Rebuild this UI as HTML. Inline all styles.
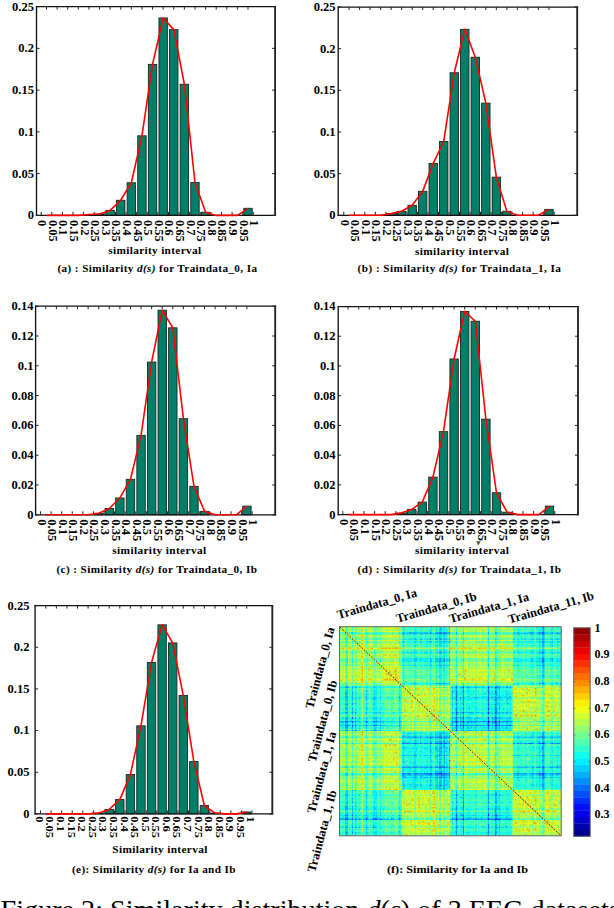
<!DOCTYPE html>
<html><head><meta charset="utf-8"><style>
html,body{margin:0;padding:0;background:#fff;overflow:hidden;}
svg{display:block;}
text{font-family:"Liberation Serif", serif;fill:#000;}
</style></head><body>
<svg width="614" height="908" viewBox="0 0 614 908">
<rect x="84.72" y="214.56" width="8.40" height="0.84" fill="#007f68" stroke="#1b2622" stroke-width="0.9"/>
<rect x="95.33" y="213.98" width="8.40" height="1.42" fill="#007f68" stroke="#1b2622" stroke-width="0.9"/>
<rect x="105.93" y="210.39" width="8.40" height="5.01" fill="#007f68" stroke="#1b2622" stroke-width="0.9"/>
<rect x="116.54" y="200.28" width="8.40" height="15.12" fill="#007f68" stroke="#1b2622" stroke-width="0.9"/>
<rect x="127.14" y="182.74" width="8.40" height="32.66" fill="#007f68" stroke="#1b2622" stroke-width="0.9"/>
<rect x="137.75" y="135.81" width="8.40" height="79.59" fill="#007f68" stroke="#1b2622" stroke-width="0.9"/>
<rect x="148.35" y="64.40" width="8.40" height="151.00" fill="#007f68" stroke="#1b2622" stroke-width="0.9"/>
<rect x="158.96" y="17.96" width="8.40" height="197.44" fill="#007f68" stroke="#1b2622" stroke-width="0.9"/>
<rect x="169.56" y="29.65" width="8.40" height="185.75" fill="#007f68" stroke="#1b2622" stroke-width="0.9"/>
<rect x="180.17" y="84.27" width="8.40" height="131.13" fill="#007f68" stroke="#1b2622" stroke-width="0.9"/>
<rect x="190.77" y="182.41" width="8.40" height="32.99" fill="#007f68" stroke="#1b2622" stroke-width="0.9"/>
<rect x="201.38" y="212.31" width="8.40" height="3.09" fill="#007f68" stroke="#1b2622" stroke-width="0.9"/>
<rect x="243.80" y="208.30" width="8.40" height="7.10" fill="#007f68" stroke="#1b2622" stroke-width="0.9"/>
<path d="M35.90 6.60 H276.00 M35.90 215.40 H276.00" stroke="#111" stroke-width="1.25" fill="none"/>
<path d="M36.50 6.00 V216.00" stroke="#111" stroke-width="1.35" fill="none"/>
<path d="M275.10 6.00 V216.00" stroke="#222" stroke-width="1.85" fill="none"/>
<path d="M46.50 6.60 v3 M57.11 6.60 v3 M67.71 6.60 v3 M78.32 6.60 v3 M88.92 6.60 v3 M99.53 6.60 v3 M110.13 6.60 v3 M120.74 6.60 v3 M131.34 6.60 v3 M141.95 6.60 v3 M152.55 6.60 v3 M163.16 6.60 v3 M173.76 6.60 v3 M184.37 6.60 v3 M194.97 6.60 v3 M205.58 6.60 v3 M216.18 6.60 v3 M226.79 6.60 v3 M237.39 6.60 v3 M248.00 6.60 v3 M41.20 215.40 v-3.5 M51.81 215.40 v-3.5 M62.41 215.40 v-3.5 M73.02 215.40 v-3.5 M83.62 215.40 v-3.5 M94.23 215.40 v-3.5 M104.83 215.40 v-3.5 M115.44 215.40 v-3.5 M126.04 215.40 v-3.5 M136.65 215.40 v-3.5 M147.25 215.40 v-3.5 M157.86 215.40 v-3.5 M168.46 215.40 v-3.5 M179.06 215.40 v-3.5 M189.67 215.40 v-3.5 M200.28 215.40 v-3.5 M210.88 215.40 v-3.5 M221.49 215.40 v-3.5 M232.09 215.40 v-3.5 M242.69 215.40 v-3.5 M253.30 215.40 v-3.5 M36.50 215.40 h3 M275.10 215.40 h-3 M36.50 173.64 h3 M275.10 173.64 h-3 M36.50 131.88 h3 M275.10 131.88 h-3 M36.50 90.12 h3 M275.10 90.12 h-3 M36.50 48.36 h3 M275.10 48.36 h-3 M36.50 6.60 h3 M275.10 6.60 h-3" stroke="#222" stroke-width="1" fill="none"/>
<path d="M46.50 215.40 L57.11 215.40 L67.71 215.40 L78.32 215.40 L88.92 214.56 L99.53 213.98 L110.13 210.39 L120.74 200.28 L131.34 182.74 L141.95 135.81 L152.55 64.40 L163.16 17.96 L173.76 29.65 L184.37 84.27 L194.97 182.41 L205.58 212.31 L216.18 215.40 L226.79 215.40 L237.39 215.40 L248.00 208.30" fill="none" stroke="#ff0000" stroke-width="1.6" stroke-linejoin="round"/>
<text transform="translate(33.90 219.30) scale(1.08 1)" text-anchor="end" font-size="11.6" font-weight="bold">0</text>
<text transform="translate(33.90 177.54) scale(1.08 1)" text-anchor="end" font-size="11.6" font-weight="bold">0.05</text>
<text transform="translate(33.90 135.78) scale(1.08 1)" text-anchor="end" font-size="11.6" font-weight="bold">0.1</text>
<text transform="translate(33.90 94.02) scale(1.08 1)" text-anchor="end" font-size="11.6" font-weight="bold">0.15</text>
<text transform="translate(33.90 52.26) scale(1.08 1)" text-anchor="end" font-size="11.6" font-weight="bold">0.2</text>
<text transform="translate(33.90 10.50) scale(1.08 1)" text-anchor="end" font-size="11.6" font-weight="bold">0.25</text>
<text transform="translate(38.20 219.90) rotate(90) scale(1.080 1)" font-size="11.6" font-weight="bold">0</text>
<text transform="translate(48.81 219.90) rotate(90) scale(1.080 1)" font-size="11.6" font-weight="bold">0.05</text>
<text transform="translate(59.41 219.90) rotate(90) scale(1.080 1)" font-size="11.6" font-weight="bold">0.1</text>
<text transform="translate(70.02 219.90) rotate(90) scale(1.080 1)" font-size="11.6" font-weight="bold">0.15</text>
<text transform="translate(80.62 219.90) rotate(90) scale(1.080 1)" font-size="11.6" font-weight="bold">0.2</text>
<text transform="translate(91.23 219.90) rotate(90) scale(1.080 1)" font-size="11.6" font-weight="bold">0.25</text>
<text transform="translate(101.83 219.90) rotate(90) scale(1.080 1)" font-size="11.6" font-weight="bold">0.3</text>
<text transform="translate(112.44 219.90) rotate(90) scale(1.080 1)" font-size="11.6" font-weight="bold">0.35</text>
<text transform="translate(123.04 219.90) rotate(90) scale(1.080 1)" font-size="11.6" font-weight="bold">0.4</text>
<text transform="translate(133.65 219.90) rotate(90) scale(1.080 1)" font-size="11.6" font-weight="bold">0.45</text>
<text transform="translate(144.25 219.90) rotate(90) scale(1.080 1)" font-size="11.6" font-weight="bold">0.5</text>
<text transform="translate(154.86 219.90) rotate(90) scale(1.080 1)" font-size="11.6" font-weight="bold">0.55</text>
<text transform="translate(165.46 219.90) rotate(90) scale(1.080 1)" font-size="11.6" font-weight="bold">0.6</text>
<text transform="translate(176.06 219.90) rotate(90) scale(1.080 1)" font-size="11.6" font-weight="bold">0.65</text>
<text transform="translate(186.67 219.90) rotate(90) scale(1.080 1)" font-size="11.6" font-weight="bold">0.7</text>
<text transform="translate(197.28 219.90) rotate(90) scale(1.080 1)" font-size="11.6" font-weight="bold">0.75</text>
<text transform="translate(207.88 219.90) rotate(90) scale(1.080 1)" font-size="11.6" font-weight="bold">0.8</text>
<text transform="translate(218.49 219.90) rotate(90) scale(1.080 1)" font-size="11.6" font-weight="bold">0.85</text>
<text transform="translate(229.09 219.90) rotate(90) scale(1.080 1)" font-size="11.6" font-weight="bold">0.9</text>
<text transform="translate(239.69 219.90) rotate(90) scale(1.080 1)" font-size="11.6" font-weight="bold">0.95</text>
<text transform="translate(250.30 219.90) rotate(90) scale(1.080 1)" font-size="11.6" font-weight="bold">1</text>
<text x="108.30" y="253.50" font-size="11.3" font-weight="bold" textLength="92.8" lengthAdjust="spacing">similarity interval</text>
<text x="57.50" y="271.80" font-size="11.2" font-weight="bold" textLength="199.5" lengthAdjust="spacing">(a) : Similarity <tspan font-style="italic">d(s)</tspan> for Traindata_0, Ia</text>
<rect x="386.94" y="213.63" width="8.40" height="1.67" fill="#007f68" stroke="#1b2622" stroke-width="0.9"/>
<rect x="397.46" y="211.30" width="8.40" height="4.00" fill="#007f68" stroke="#1b2622" stroke-width="0.9"/>
<rect x="407.98" y="205.30" width="8.40" height="10.00" fill="#007f68" stroke="#1b2622" stroke-width="0.9"/>
<rect x="418.50" y="191.30" width="8.40" height="24.00" fill="#007f68" stroke="#1b2622" stroke-width="0.9"/>
<rect x="429.02" y="163.39" width="8.40" height="51.91" fill="#007f68" stroke="#1b2622" stroke-width="0.9"/>
<rect x="439.54" y="141.48" width="8.40" height="73.82" fill="#007f68" stroke="#1b2622" stroke-width="0.9"/>
<rect x="450.06" y="72.74" width="8.40" height="142.56" fill="#007f68" stroke="#1b2622" stroke-width="0.9"/>
<rect x="460.58" y="29.33" width="8.40" height="185.97" fill="#007f68" stroke="#1b2622" stroke-width="0.9"/>
<rect x="471.10" y="57.24" width="8.40" height="158.06" fill="#007f68" stroke="#1b2622" stroke-width="0.9"/>
<rect x="481.62" y="103.15" width="8.40" height="112.15" fill="#007f68" stroke="#1b2622" stroke-width="0.9"/>
<rect x="492.14" y="177.14" width="8.40" height="38.16" fill="#007f68" stroke="#1b2622" stroke-width="0.9"/>
<rect x="502.66" y="211.30" width="8.40" height="4.00" fill="#007f68" stroke="#1b2622" stroke-width="0.9"/>
<rect x="544.74" y="209.38" width="8.40" height="5.92" fill="#007f68" stroke="#1b2622" stroke-width="0.9"/>
<path d="M337.60 7.00 H578.10 M337.60 215.30 H578.10" stroke="#111" stroke-width="1.25" fill="none"/>
<path d="M338.20 6.40 V215.90" stroke="#111" stroke-width="1.35" fill="none"/>
<path d="M577.20 6.40 V215.90" stroke="#222" stroke-width="1.85" fill="none"/>
<path d="M349.06 7.00 v3 M359.58 7.00 v3 M370.10 7.00 v3 M380.62 7.00 v3 M391.14 7.00 v3 M401.66 7.00 v3 M412.18 7.00 v3 M422.70 7.00 v3 M433.22 7.00 v3 M443.74 7.00 v3 M454.26 7.00 v3 M464.78 7.00 v3 M475.30 7.00 v3 M485.82 7.00 v3 M496.34 7.00 v3 M506.86 7.00 v3 M517.38 7.00 v3 M527.90 7.00 v3 M538.42 7.00 v3 M548.94 7.00 v3 M343.80 215.30 v-3.5 M354.32 215.30 v-3.5 M364.84 215.30 v-3.5 M375.36 215.30 v-3.5 M385.88 215.30 v-3.5 M396.40 215.30 v-3.5 M406.92 215.30 v-3.5 M417.44 215.30 v-3.5 M427.96 215.30 v-3.5 M438.48 215.30 v-3.5 M449.00 215.30 v-3.5 M459.52 215.30 v-3.5 M470.04 215.30 v-3.5 M480.56 215.30 v-3.5 M491.08 215.30 v-3.5 M501.60 215.30 v-3.5 M512.12 215.30 v-3.5 M522.64 215.30 v-3.5 M533.16 215.30 v-3.5 M543.68 215.30 v-3.5 M554.20 215.30 v-3.5 M338.20 215.30 h3 M577.20 215.30 h-3 M338.20 173.64 h3 M577.20 173.64 h-3 M338.20 131.98 h3 M577.20 131.98 h-3 M338.20 90.32 h3 M577.20 90.32 h-3 M338.20 48.66 h3 M577.20 48.66 h-3 M338.20 7.00 h3 M577.20 7.00 h-3" stroke="#222" stroke-width="1" fill="none"/>
<path d="M349.06 215.30 L359.58 215.30 L370.10 215.30 L380.62 215.30 L391.14 213.63 L401.66 211.30 L412.18 205.30 L422.70 191.30 L433.22 163.39 L443.74 141.48 L454.26 72.74 L464.78 29.33 L475.30 57.24 L485.82 103.15 L496.34 177.14 L506.86 211.30 L517.38 215.30 L527.90 215.30 L538.42 215.30 L548.94 209.38" fill="none" stroke="#ff0000" stroke-width="1.6" stroke-linejoin="round"/>
<text transform="translate(335.60 219.20) scale(1.08 1)" text-anchor="end" font-size="11.6" font-weight="bold">0</text>
<text transform="translate(335.60 177.54) scale(1.08 1)" text-anchor="end" font-size="11.6" font-weight="bold">0.05</text>
<text transform="translate(335.60 135.88) scale(1.08 1)" text-anchor="end" font-size="11.6" font-weight="bold">0.1</text>
<text transform="translate(335.60 94.22) scale(1.08 1)" text-anchor="end" font-size="11.6" font-weight="bold">0.15</text>
<text transform="translate(335.60 52.56) scale(1.08 1)" text-anchor="end" font-size="11.6" font-weight="bold">0.2</text>
<text transform="translate(335.60 10.90) scale(1.08 1)" text-anchor="end" font-size="11.6" font-weight="bold">0.25</text>
<text transform="translate(340.80 219.80) rotate(90) scale(1.080 1)" font-size="11.6" font-weight="bold">0</text>
<text transform="translate(351.32 219.80) rotate(90) scale(1.080 1)" font-size="11.6" font-weight="bold">0.05</text>
<text transform="translate(361.84 219.80) rotate(90) scale(1.080 1)" font-size="11.6" font-weight="bold">0.1</text>
<text transform="translate(372.36 219.80) rotate(90) scale(1.080 1)" font-size="11.6" font-weight="bold">0.15</text>
<text transform="translate(382.88 219.80) rotate(90) scale(1.080 1)" font-size="11.6" font-weight="bold">0.2</text>
<text transform="translate(393.40 219.80) rotate(90) scale(1.080 1)" font-size="11.6" font-weight="bold">0.25</text>
<text transform="translate(403.92 219.80) rotate(90) scale(1.080 1)" font-size="11.6" font-weight="bold">0.3</text>
<text transform="translate(414.44 219.80) rotate(90) scale(1.080 1)" font-size="11.6" font-weight="bold">0.35</text>
<text transform="translate(424.96 219.80) rotate(90) scale(1.080 1)" font-size="11.6" font-weight="bold">0.4</text>
<text transform="translate(435.48 219.80) rotate(90) scale(1.080 1)" font-size="11.6" font-weight="bold">0.45</text>
<text transform="translate(446.00 219.80) rotate(90) scale(1.080 1)" font-size="11.6" font-weight="bold">0.5</text>
<text transform="translate(456.52 219.80) rotate(90) scale(1.080 1)" font-size="11.6" font-weight="bold">0.55</text>
<text transform="translate(467.04 219.80) rotate(90) scale(1.080 1)" font-size="11.6" font-weight="bold">0.6</text>
<text transform="translate(477.56 219.80) rotate(90) scale(1.080 1)" font-size="11.6" font-weight="bold">0.65</text>
<text transform="translate(488.08 219.80) rotate(90) scale(1.080 1)" font-size="11.6" font-weight="bold">0.7</text>
<text transform="translate(498.60 219.80) rotate(90) scale(1.080 1)" font-size="11.6" font-weight="bold">0.75</text>
<text transform="translate(509.12 219.80) rotate(90) scale(1.080 1)" font-size="11.6" font-weight="bold">0.8</text>
<text transform="translate(519.64 219.80) rotate(90) scale(1.080 1)" font-size="11.6" font-weight="bold">0.85</text>
<text transform="translate(530.16 219.80) rotate(90) scale(1.080 1)" font-size="11.6" font-weight="bold">0.9</text>
<text transform="translate(540.68 219.80) rotate(90) scale(1.080 1)" font-size="11.6" font-weight="bold">0.95</text>
<text transform="translate(551.20 219.80) rotate(90) scale(1.080 1)" font-size="11.6" font-weight="bold">1</text>
<text x="415.00" y="255.20" font-size="11.3" font-weight="bold" textLength="93.9" lengthAdjust="spacing">similarity interval</text>
<text x="357.60" y="271.80" font-size="11.2" font-weight="bold" textLength="203.3" lengthAdjust="spacing">(b) : Similarity <tspan font-style="italic">d(s)</tspan> for Traindata_1, Ia</text>
<rect x="94.52" y="513.31" width="8.40" height="1.49" fill="#007f68" stroke="#1b2622" stroke-width="0.9"/>
<rect x="105.10" y="508.54" width="8.40" height="6.26" fill="#007f68" stroke="#1b2622" stroke-width="0.9"/>
<rect x="115.69" y="497.96" width="8.40" height="16.84" fill="#007f68" stroke="#1b2622" stroke-width="0.9"/>
<rect x="126.27" y="479.34" width="8.40" height="35.46" fill="#007f68" stroke="#1b2622" stroke-width="0.9"/>
<rect x="136.86" y="435.38" width="8.40" height="79.42" fill="#007f68" stroke="#1b2622" stroke-width="0.9"/>
<rect x="147.44" y="362.08" width="8.40" height="152.72" fill="#007f68" stroke="#1b2622" stroke-width="0.9"/>
<rect x="158.03" y="310.22" width="8.40" height="204.58" fill="#007f68" stroke="#1b2622" stroke-width="0.9"/>
<rect x="168.61" y="327.81" width="8.40" height="186.99" fill="#007f68" stroke="#1b2622" stroke-width="0.9"/>
<rect x="179.20" y="418.69" width="8.40" height="96.10" fill="#007f68" stroke="#1b2622" stroke-width="0.9"/>
<rect x="189.78" y="486.34" width="8.40" height="28.46" fill="#007f68" stroke="#1b2622" stroke-width="0.9"/>
<rect x="200.37" y="511.37" width="8.40" height="3.43" fill="#007f68" stroke="#1b2622" stroke-width="0.9"/>
<rect x="242.71" y="506.16" width="8.40" height="8.64" fill="#007f68" stroke="#1b2622" stroke-width="0.9"/>
<path d="M35.00 306.20 H276.10 M35.00 514.80 H276.10" stroke="#111" stroke-width="1.25" fill="none"/>
<path d="M35.60 305.60 V515.40" stroke="#111" stroke-width="1.35" fill="none"/>
<path d="M275.20 305.60 V515.40" stroke="#222" stroke-width="1.85" fill="none"/>
<path d="M45.79 306.20 v3 M56.38 306.20 v3 M66.96 306.20 v3 M77.55 306.20 v3 M88.13 306.20 v3 M98.72 306.20 v3 M109.30 306.20 v3 M119.89 306.20 v3 M130.47 306.20 v3 M141.06 306.20 v3 M151.64 306.20 v3 M162.23 306.20 v3 M172.81 306.20 v3 M183.40 306.20 v3 M193.98 306.20 v3 M204.57 306.20 v3 M215.15 306.20 v3 M225.74 306.20 v3 M236.32 306.20 v3 M246.91 306.20 v3 M40.50 514.80 v-3.5 M51.09 514.80 v-3.5 M61.67 514.80 v-3.5 M72.25 514.80 v-3.5 M82.84 514.80 v-3.5 M93.42 514.80 v-3.5 M104.01 514.80 v-3.5 M114.59 514.80 v-3.5 M125.18 514.80 v-3.5 M135.76 514.80 v-3.5 M146.35 514.80 v-3.5 M156.94 514.80 v-3.5 M167.52 514.80 v-3.5 M178.10 514.80 v-3.5 M188.69 514.80 v-3.5 M199.27 514.80 v-3.5 M209.86 514.80 v-3.5 M220.44 514.80 v-3.5 M231.03 514.80 v-3.5 M241.61 514.80 v-3.5 M252.20 514.80 v-3.5 M35.60 514.80 h3 M275.20 514.80 h-3 M35.60 485.00 h3 M275.20 485.00 h-3 M35.60 455.20 h3 M275.20 455.20 h-3 M35.60 425.40 h3 M275.20 425.40 h-3 M35.60 395.60 h3 M275.20 395.60 h-3 M35.60 365.80 h3 M275.20 365.80 h-3 M35.60 336.00 h3 M275.20 336.00 h-3 M35.60 306.20 h3 M275.20 306.20 h-3" stroke="#222" stroke-width="1" fill="none"/>
<path d="M45.79 514.80 L56.38 514.80 L66.96 514.80 L77.55 514.80 L88.13 514.80 L98.72 513.31 L109.30 508.54 L119.89 497.96 L130.47 479.34 L141.06 435.38 L151.64 362.08 L162.23 310.22 L172.81 327.81 L183.40 418.69 L193.98 486.34 L204.57 511.37 L215.15 514.80 L225.74 514.80 L236.32 514.80 L246.91 506.16" fill="none" stroke="#ff0000" stroke-width="1.6" stroke-linejoin="round"/>
<text transform="translate(33.40 518.70) scale(1.08 1)" text-anchor="end" font-size="11.6" font-weight="bold">0</text>
<text transform="translate(33.40 488.90) scale(1.08 1)" text-anchor="end" font-size="11.6" font-weight="bold">0.02</text>
<text transform="translate(33.40 459.10) scale(1.08 1)" text-anchor="end" font-size="11.6" font-weight="bold">0.04</text>
<text transform="translate(33.40 429.30) scale(1.08 1)" text-anchor="end" font-size="11.6" font-weight="bold">0.06</text>
<text transform="translate(33.40 399.50) scale(1.08 1)" text-anchor="end" font-size="11.6" font-weight="bold">0.08</text>
<text transform="translate(33.40 369.70) scale(1.08 1)" text-anchor="end" font-size="11.6" font-weight="bold">0.1</text>
<text transform="translate(33.40 339.90) scale(1.08 1)" text-anchor="end" font-size="11.6" font-weight="bold">0.12</text>
<text transform="translate(33.40 310.10) scale(1.08 1)" text-anchor="end" font-size="11.6" font-weight="bold">0.14</text>
<text transform="translate(37.50 519.30) rotate(90) scale(1.080 1)" font-size="11.6" font-weight="bold">0</text>
<text transform="translate(48.09 519.30) rotate(90) scale(1.080 1)" font-size="11.6" font-weight="bold">0.05</text>
<text transform="translate(58.67 519.30) rotate(90) scale(1.080 1)" font-size="11.6" font-weight="bold">0.1</text>
<text transform="translate(69.25 519.30) rotate(90) scale(1.080 1)" font-size="11.6" font-weight="bold">0.15</text>
<text transform="translate(79.84 519.30) rotate(90) scale(1.080 1)" font-size="11.6" font-weight="bold">0.2</text>
<text transform="translate(90.42 519.30) rotate(90) scale(1.080 1)" font-size="11.6" font-weight="bold">0.25</text>
<text transform="translate(101.01 519.30) rotate(90) scale(1.080 1)" font-size="11.6" font-weight="bold">0.3</text>
<text transform="translate(111.59 519.30) rotate(90) scale(1.080 1)" font-size="11.6" font-weight="bold">0.35</text>
<text transform="translate(122.18 519.30) rotate(90) scale(1.080 1)" font-size="11.6" font-weight="bold">0.4</text>
<text transform="translate(132.76 519.30) rotate(90) scale(1.080 1)" font-size="11.6" font-weight="bold">0.45</text>
<text transform="translate(143.35 519.30) rotate(90) scale(1.080 1)" font-size="11.6" font-weight="bold">0.5</text>
<text transform="translate(153.94 519.30) rotate(90) scale(1.080 1)" font-size="11.6" font-weight="bold">0.55</text>
<text transform="translate(164.52 519.30) rotate(90) scale(1.080 1)" font-size="11.6" font-weight="bold">0.6</text>
<text transform="translate(175.10 519.30) rotate(90) scale(1.080 1)" font-size="11.6" font-weight="bold">0.65</text>
<text transform="translate(185.69 519.30) rotate(90) scale(1.080 1)" font-size="11.6" font-weight="bold">0.7</text>
<text transform="translate(196.27 519.30) rotate(90) scale(1.080 1)" font-size="11.6" font-weight="bold">0.75</text>
<text transform="translate(206.86 519.30) rotate(90) scale(1.080 1)" font-size="11.6" font-weight="bold">0.8</text>
<text transform="translate(217.44 519.30) rotate(90) scale(1.080 1)" font-size="11.6" font-weight="bold">0.85</text>
<text transform="translate(228.03 519.30) rotate(90) scale(1.080 1)" font-size="11.6" font-weight="bold">0.9</text>
<text transform="translate(238.61 519.30) rotate(90) scale(1.080 1)" font-size="11.6" font-weight="bold">0.95</text>
<text transform="translate(249.20 519.30) rotate(90) scale(1.080 1)" font-size="11.6" font-weight="bold">1</text>
<text x="112.30" y="553.60" font-size="11.3" font-weight="bold" textLength="93.8" lengthAdjust="spacing">similarity interval</text>
<text x="56.40" y="573.00" font-size="11.2" font-weight="bold" textLength="200.6" lengthAdjust="spacing">(c) : Similarity <tspan font-style="italic">d(s)</tspan> for Traindata_0, Ib</text>
<rect x="396.90" y="513.11" width="8.40" height="1.49" fill="#007f68" stroke="#1b2622" stroke-width="0.9"/>
<rect x="407.50" y="509.40" width="8.40" height="5.20" fill="#007f68" stroke="#1b2622" stroke-width="0.9"/>
<rect x="418.10" y="502.11" width="8.40" height="12.49" fill="#007f68" stroke="#1b2622" stroke-width="0.9"/>
<rect x="428.70" y="477.14" width="8.40" height="37.46" fill="#007f68" stroke="#1b2622" stroke-width="0.9"/>
<rect x="439.30" y="431.66" width="8.40" height="82.94" fill="#007f68" stroke="#1b2622" stroke-width="0.9"/>
<rect x="449.90" y="358.97" width="8.40" height="155.63" fill="#007f68" stroke="#1b2622" stroke-width="0.9"/>
<rect x="460.50" y="311.41" width="8.40" height="203.19" fill="#007f68" stroke="#1b2622" stroke-width="0.9"/>
<rect x="471.10" y="321.22" width="8.40" height="193.38" fill="#007f68" stroke="#1b2622" stroke-width="0.9"/>
<rect x="481.70" y="419.17" width="8.40" height="95.43" fill="#007f68" stroke="#1b2622" stroke-width="0.9"/>
<rect x="492.30" y="492.75" width="8.40" height="21.85" fill="#007f68" stroke="#1b2622" stroke-width="0.9"/>
<rect x="502.90" y="512.22" width="8.40" height="2.38" fill="#007f68" stroke="#1b2622" stroke-width="0.9"/>
<rect x="545.30" y="506.13" width="8.40" height="8.47" fill="#007f68" stroke="#1b2622" stroke-width="0.9"/>
<path d="M337.60 306.50 H578.90 M337.60 514.60 H578.90" stroke="#111" stroke-width="1.25" fill="none"/>
<path d="M338.20 305.90 V515.20" stroke="#111" stroke-width="1.35" fill="none"/>
<path d="M578.00 305.90 V515.20" stroke="#222" stroke-width="1.85" fill="none"/>
<path d="M348.10 306.50 v3 M358.70 306.50 v3 M369.30 306.50 v3 M379.90 306.50 v3 M390.50 306.50 v3 M401.10 306.50 v3 M411.70 306.50 v3 M422.30 306.50 v3 M432.90 306.50 v3 M443.50 306.50 v3 M454.10 306.50 v3 M464.70 306.50 v3 M475.30 306.50 v3 M485.90 306.50 v3 M496.50 306.50 v3 M507.10 306.50 v3 M517.70 306.50 v3 M528.30 306.50 v3 M538.90 306.50 v3 M549.50 306.50 v3 M342.80 514.60 v-3.5 M353.40 514.60 v-3.5 M364.00 514.60 v-3.5 M374.60 514.60 v-3.5 M385.20 514.60 v-3.5 M395.80 514.60 v-3.5 M406.40 514.60 v-3.5 M417.00 514.60 v-3.5 M427.60 514.60 v-3.5 M438.20 514.60 v-3.5 M448.80 514.60 v-3.5 M459.40 514.60 v-3.5 M470.00 514.60 v-3.5 M480.60 514.60 v-3.5 M491.20 514.60 v-3.5 M501.80 514.60 v-3.5 M512.40 514.60 v-3.5 M523.00 514.60 v-3.5 M533.60 514.60 v-3.5 M544.20 514.60 v-3.5 M554.80 514.60 v-3.5 M338.20 514.60 h3 M578.00 514.60 h-3 M338.20 484.87 h3 M578.00 484.87 h-3 M338.20 455.14 h3 M578.00 455.14 h-3 M338.20 425.41 h3 M578.00 425.41 h-3 M338.20 395.69 h3 M578.00 395.69 h-3 M338.20 365.96 h3 M578.00 365.96 h-3 M338.20 336.23 h3 M578.00 336.23 h-3 M338.20 306.50 h3 M578.00 306.50 h-3" stroke="#222" stroke-width="1" fill="none"/>
<path d="M348.10 514.60 L358.70 514.60 L369.30 514.60 L379.90 514.60 L390.50 514.60 L401.10 513.11 L411.70 509.40 L422.30 502.11 L432.90 477.14 L443.50 431.66 L454.10 358.97 L464.70 311.41 L475.30 321.22 L485.90 419.17 L496.50 492.75 L507.10 512.22 L517.70 514.60 L528.30 514.60 L538.90 514.60 L549.50 506.13" fill="none" stroke="#ff0000" stroke-width="1.6" stroke-linejoin="round"/>
<text transform="translate(335.60 518.50) scale(1.08 1)" text-anchor="end" font-size="11.6" font-weight="bold">0</text>
<text transform="translate(335.60 488.77) scale(1.08 1)" text-anchor="end" font-size="11.6" font-weight="bold">0.02</text>
<text transform="translate(335.60 459.04) scale(1.08 1)" text-anchor="end" font-size="11.6" font-weight="bold">0.04</text>
<text transform="translate(335.60 429.31) scale(1.08 1)" text-anchor="end" font-size="11.6" font-weight="bold">0.06</text>
<text transform="translate(335.60 399.59) scale(1.08 1)" text-anchor="end" font-size="11.6" font-weight="bold">0.08</text>
<text transform="translate(335.60 369.86) scale(1.08 1)" text-anchor="end" font-size="11.6" font-weight="bold">0.1</text>
<text transform="translate(335.60 340.13) scale(1.08 1)" text-anchor="end" font-size="11.6" font-weight="bold">0.12</text>
<text transform="translate(335.60 310.40) scale(1.08 1)" text-anchor="end" font-size="11.6" font-weight="bold">0.14</text>
<text transform="translate(339.80 519.10) rotate(90) scale(1.080 1)" font-size="11.6" font-weight="bold">0</text>
<text transform="translate(350.40 519.10) rotate(90) scale(1.080 1)" font-size="11.6" font-weight="bold">0.05</text>
<text transform="translate(361.00 519.10) rotate(90) scale(1.080 1)" font-size="11.6" font-weight="bold">0.1</text>
<text transform="translate(371.60 519.10) rotate(90) scale(1.080 1)" font-size="11.6" font-weight="bold">0.15</text>
<text transform="translate(382.20 519.10) rotate(90) scale(1.080 1)" font-size="11.6" font-weight="bold">0.2</text>
<text transform="translate(392.80 519.10) rotate(90) scale(1.080 1)" font-size="11.6" font-weight="bold">0.25</text>
<text transform="translate(403.40 519.10) rotate(90) scale(1.080 1)" font-size="11.6" font-weight="bold">0.3</text>
<text transform="translate(414.00 519.10) rotate(90) scale(1.080 1)" font-size="11.6" font-weight="bold">0.35</text>
<text transform="translate(424.60 519.10) rotate(90) scale(1.080 1)" font-size="11.6" font-weight="bold">0.4</text>
<text transform="translate(435.20 519.10) rotate(90) scale(1.080 1)" font-size="11.6" font-weight="bold">0.45</text>
<text transform="translate(445.80 519.10) rotate(90) scale(1.080 1)" font-size="11.6" font-weight="bold">0.5</text>
<text transform="translate(456.40 519.10) rotate(90) scale(1.080 1)" font-size="11.6" font-weight="bold">0.55</text>
<text transform="translate(467.00 519.10) rotate(90) scale(1.080 1)" font-size="11.6" font-weight="bold">0.6</text>
<text transform="translate(477.60 519.10) rotate(90) scale(1.080 1)" font-size="11.6" font-weight="bold">0.65</text>
<text transform="translate(488.20 519.10) rotate(90) scale(1.080 1)" font-size="11.6" font-weight="bold">0.7</text>
<text transform="translate(498.80 519.10) rotate(90) scale(1.080 1)" font-size="11.6" font-weight="bold">0.75</text>
<text transform="translate(509.40 519.10) rotate(90) scale(1.080 1)" font-size="11.6" font-weight="bold">0.8</text>
<text transform="translate(520.00 519.10) rotate(90) scale(1.080 1)" font-size="11.6" font-weight="bold">0.85</text>
<text transform="translate(530.60 519.10) rotate(90) scale(1.080 1)" font-size="11.6" font-weight="bold">0.9</text>
<text transform="translate(541.20 519.10) rotate(90) scale(1.080 1)" font-size="11.6" font-weight="bold">0.95</text>
<text transform="translate(551.80 519.10) rotate(90) scale(1.080 1)" font-size="11.6" font-weight="bold">1</text>
<text x="415.00" y="553.60" font-size="11.3" font-weight="bold" textLength="93.9" lengthAdjust="spacing">similarity interval</text>
<text x="357.60" y="573.00" font-size="11.2" font-weight="bold" textLength="203.3" lengthAdjust="spacing">(d) : Similarity <tspan font-style="italic">d(s)</tspan> for Traindata_1, Ib</text>
<rect x="94.46" y="813.07" width="8.40" height="0.83" fill="#007f68" stroke="#1b2622" stroke-width="0.9"/>
<rect x="105.04" y="809.40" width="8.40" height="4.50" fill="#007f68" stroke="#1b2622" stroke-width="0.9"/>
<rect x="115.61" y="799.57" width="8.40" height="14.33" fill="#007f68" stroke="#1b2622" stroke-width="0.9"/>
<rect x="126.19" y="774.57" width="8.40" height="39.33" fill="#007f68" stroke="#1b2622" stroke-width="0.9"/>
<rect x="136.76" y="725.83" width="8.40" height="88.07" fill="#007f68" stroke="#1b2622" stroke-width="0.9"/>
<rect x="147.34" y="662.51" width="8.40" height="151.39" fill="#007f68" stroke="#1b2622" stroke-width="0.9"/>
<rect x="157.91" y="624.85" width="8.40" height="189.05" fill="#007f68" stroke="#1b2622" stroke-width="0.9"/>
<rect x="168.49" y="642.93" width="8.40" height="170.97" fill="#007f68" stroke="#1b2622" stroke-width="0.9"/>
<rect x="179.06" y="695.42" width="8.40" height="118.48" fill="#007f68" stroke="#1b2622" stroke-width="0.9"/>
<rect x="189.64" y="761.58" width="8.40" height="52.32" fill="#007f68" stroke="#1b2622" stroke-width="0.9"/>
<rect x="200.21" y="805.57" width="8.40" height="8.33" fill="#007f68" stroke="#1b2622" stroke-width="0.9"/>
<rect x="210.79" y="813.07" width="8.40" height="0.83" fill="#007f68" stroke="#1b2622" stroke-width="0.9"/>
<rect x="242.51" y="811.98" width="8.40" height="1.92" fill="#007f68" stroke="#1b2622" stroke-width="0.9"/>
<path d="M34.50 605.60 H273.20 M34.50 813.90 H273.20" stroke="#111" stroke-width="1.25" fill="none"/>
<path d="M35.10 605.00 V814.50" stroke="#111" stroke-width="1.35" fill="none"/>
<path d="M272.30 605.00 V814.50" stroke="#222" stroke-width="1.85" fill="none"/>
<path d="M45.79 605.60 v3 M56.36 605.60 v3 M66.94 605.60 v3 M77.51 605.60 v3 M88.09 605.60 v3 M98.66 605.60 v3 M109.24 605.60 v3 M119.81 605.60 v3 M130.39 605.60 v3 M140.96 605.60 v3 M151.54 605.60 v3 M162.11 605.60 v3 M172.69 605.60 v3 M183.26 605.60 v3 M193.84 605.60 v3 M204.41 605.60 v3 M214.99 605.60 v3 M225.56 605.60 v3 M236.14 605.60 v3 M246.71 605.60 v3 M40.50 813.90 v-3.5 M51.08 813.90 v-3.5 M61.65 813.90 v-3.5 M72.22 813.90 v-3.5 M82.80 813.90 v-3.5 M93.38 813.90 v-3.5 M103.95 813.90 v-3.5 M114.52 813.90 v-3.5 M125.10 813.90 v-3.5 M135.68 813.90 v-3.5 M146.25 813.90 v-3.5 M156.82 813.90 v-3.5 M167.40 813.90 v-3.5 M177.97 813.90 v-3.5 M188.55 813.90 v-3.5 M199.12 813.90 v-3.5 M209.70 813.90 v-3.5 M220.27 813.90 v-3.5 M230.85 813.90 v-3.5 M241.42 813.90 v-3.5 M252.00 813.90 v-3.5 M35.10 813.90 h3 M272.30 813.90 h-3 M35.10 772.24 h3 M272.30 772.24 h-3 M35.10 730.58 h3 M272.30 730.58 h-3 M35.10 688.92 h3 M272.30 688.92 h-3 M35.10 647.26 h3 M272.30 647.26 h-3 M35.10 605.60 h3 M272.30 605.60 h-3" stroke="#222" stroke-width="1" fill="none"/>
<path d="M45.79 813.90 L56.36 813.90 L66.94 813.90 L77.51 813.90 L88.09 813.90 L98.66 813.07 L109.24 809.40 L119.81 799.57 L130.39 774.57 L140.96 725.83 L151.54 662.51 L162.11 624.85 L172.69 642.93 L183.26 695.42 L193.84 761.58 L204.41 805.57 L214.99 813.07 L225.56 813.90 L236.14 813.90 L246.71 811.98" fill="none" stroke="#ff0000" stroke-width="1.6" stroke-linejoin="round"/>
<text transform="translate(29.50 817.80) scale(1.08 1)" text-anchor="end" font-size="11.6" font-weight="bold">0</text>
<text transform="translate(29.50 776.14) scale(1.08 1)" text-anchor="end" font-size="11.6" font-weight="bold">0.05</text>
<text transform="translate(29.50 734.48) scale(1.08 1)" text-anchor="end" font-size="11.6" font-weight="bold">0.1</text>
<text transform="translate(29.50 692.82) scale(1.08 1)" text-anchor="end" font-size="11.6" font-weight="bold">0.15</text>
<text transform="translate(29.50 651.16) scale(1.08 1)" text-anchor="end" font-size="11.6" font-weight="bold">0.2</text>
<text transform="translate(29.50 609.50) scale(1.08 1)" text-anchor="end" font-size="11.6" font-weight="bold">0.25</text>
<text transform="translate(35.90 816.20) rotate(90) scale(1.140 1)" font-size="11.0" font-weight="bold">0</text>
<text transform="translate(46.48 816.20) rotate(90) scale(1.140 1)" font-size="11.0" font-weight="bold">0.05</text>
<text transform="translate(57.05 816.20) rotate(90) scale(1.140 1)" font-size="11.0" font-weight="bold">0.1</text>
<text transform="translate(67.62 816.20) rotate(90) scale(1.140 1)" font-size="11.0" font-weight="bold">0.15</text>
<text transform="translate(78.20 816.20) rotate(90) scale(1.140 1)" font-size="11.0" font-weight="bold">0.2</text>
<text transform="translate(88.78 816.20) rotate(90) scale(1.140 1)" font-size="11.0" font-weight="bold">0.25</text>
<text transform="translate(99.35 816.20) rotate(90) scale(1.140 1)" font-size="11.0" font-weight="bold">0.3</text>
<text transform="translate(109.92 816.20) rotate(90) scale(1.140 1)" font-size="11.0" font-weight="bold">0.35</text>
<text transform="translate(120.50 816.20) rotate(90) scale(1.140 1)" font-size="11.0" font-weight="bold">0.4</text>
<text transform="translate(131.08 816.20) rotate(90) scale(1.140 1)" font-size="11.0" font-weight="bold">0.45</text>
<text transform="translate(141.65 816.20) rotate(90) scale(1.140 1)" font-size="11.0" font-weight="bold">0.5</text>
<text transform="translate(152.22 816.20) rotate(90) scale(1.140 1)" font-size="11.0" font-weight="bold">0.55</text>
<text transform="translate(162.80 816.20) rotate(90) scale(1.140 1)" font-size="11.0" font-weight="bold">0.6</text>
<text transform="translate(173.38 816.20) rotate(90) scale(1.140 1)" font-size="11.0" font-weight="bold">0.65</text>
<text transform="translate(183.95 816.20) rotate(90) scale(1.140 1)" font-size="11.0" font-weight="bold">0.7</text>
<text transform="translate(194.53 816.20) rotate(90) scale(1.140 1)" font-size="11.0" font-weight="bold">0.75</text>
<text transform="translate(205.10 816.20) rotate(90) scale(1.140 1)" font-size="11.0" font-weight="bold">0.8</text>
<text transform="translate(215.67 816.20) rotate(90) scale(1.140 1)" font-size="11.0" font-weight="bold">0.85</text>
<text transform="translate(226.25 816.20) rotate(90) scale(1.140 1)" font-size="11.0" font-weight="bold">0.9</text>
<text transform="translate(236.82 816.20) rotate(90) scale(1.140 1)" font-size="11.0" font-weight="bold">0.95</text>
<text transform="translate(247.40 816.20) rotate(90) scale(1.140 1)" font-size="11.0" font-weight="bold">1</text>
<text x="112.30" y="853.00" font-size="11.3" font-weight="bold" textLength="95.0" lengthAdjust="spacing">Similarity interval</text>
<text x="72.00" y="873.00" font-size="11.2" font-weight="bold" textLength="163.5" lengthAdjust="spacing">(e): Similarity <tspan font-style="italic">d(s)</tspan> for Ia and Ib</text>
<rect x="339.50" y="626.70" width="221.70" height="209.10" fill="#40ffc0"/>
<g transform="translate(339.500 626.700) scale(1.38563 1.30687) translate(0 0.5)">
<path stroke="#000087" stroke-width="1" d="M107 72h1M72 107h1"/>
<path stroke="#0000c7" stroke-width="1" d="M107 75h1M75 107h1"/>
<path stroke="#0000d7" stroke-width="1" d="M112 72h1M72 112h1"/>
<path stroke="#0000f7" stroke-width="1" d="M147 5h1M84 75h1M75 84h1M147 89h1M147 107h1M5 147h1M89 147h1M107 147h1"/>
<path stroke="#0007ff" stroke-width="1" d="M72 5h1M75 5h1M84 54h1M107 54h1M5 72h1M5 75h1M54 84h1M147 84h1M54 107h1M144 107h1M107 144h1M84 147h1"/>
<path stroke="#0017ff" stroke-width="1" d="M75 25h1M107 65h1M112 65h1M107 69h1M107 70h1M84 72h1M89 72h1M115 72h1M107 73h1M25 75h1M112 75h1M107 77h1M72 84h1M72 89h1M65 107h1M69 107h2M73 107h1M77 107h1M65 112h1M75 112h1M146 112h1M147 113h1M72 115h1M112 146h1M113 147h1"/>
<path stroke="#0027ff" stroke-width="1" d="M146 5h1M72 9h1M75 9h1M147 19h1M107 46h1M89 54h1M113 54h1M107 63h1M112 70h1M9 72h1M112 73h1M9 75h1M89 75h1M113 75h1M84 79h1M79 84h1M146 84h1M54 89h1M75 89h1M147 98h1M46 107h1M63 107h1M70 112h1M73 112h1M147 112h1M54 113h1M75 113h1M144 113h1M146 113h1M147 115h1M113 144h1M5 146h1M84 146h1M113 146h1M19 147h1M98 147h1M112 147h1M115 147h1"/>
<path stroke="#0037ff" stroke-width="1" d="M72 4h1M46 5h1M72 19h1M146 19h1M147 25h1M147 26h1M5 46h1M89 46h1M112 46h1M112 49h1M107 59h1M84 65h1M89 69h1M112 69h1M89 70h1M4 72h1M19 72h1M89 73h1M107 74h1M123 75h1M84 77h1M65 84h1M77 84h1M144 84h1M46 89h1M69 89h2M73 89h1M146 89h1M153 89h1M59 107h1M74 107h1M139 107h1M146 107h1M46 112h1M49 112h1M69 112h1M144 112h1M147 114h1M75 123h1M107 139h1M84 144h1M112 144h1M19 146h1M89 146h1M107 146h1M25 147h2M114 147h1M89 153h1"/>
<path stroke="#0047ff" stroke-width="1" d="M146 4h1M65 5h1M79 5h1M158 5h1M69 9h2M73 9h1M147 9h1M72 26h1M146 26h1M147 29h1M147 30h1M84 46h1M112 54h1M107 55h1M107 62h1M5 65h1M89 65h1M84 66h1M107 66h1M84 67h1M9 69h1M84 69h1M9 70h1M26 72h1M81 72h1M108 72h1M121 72h1M9 73h1M84 73h1M113 73h1M115 75h1M112 77h1M5 79h1M89 79h1M112 79h1M72 81h1M46 84h1M66 84h2M69 84h1M73 84h1M129 84h1M145 84h1M147 88h1M65 89h1M79 89h1M144 89h1M55 107h1M62 107h1M66 107h1M72 108h1M54 112h1M77 112h1M79 112h1M139 112h1M73 113h1M75 115h1M72 121h1M84 129h1M112 139h1M89 144h1M84 145h1M4 146h1M26 146h1M9 147h1M29 147h2M88 147h1M5 158h1"/>
<path stroke="#0057ff" stroke-width="1" d="M75 4h1M147 4h1M54 5h1M70 5h1M73 5h1M146 9h1M75 11h1M147 11h1M147 24h1M146 25h1M72 43h1M75 43h1M146 43h2M84 45h1M107 45h1M113 46h1M84 49h1M89 49h1M107 49h1M107 50h1M84 51h1M84 53h1M5 54h1M84 56h1M107 56h1M112 56h1M112 59h1M112 61h1M84 62h1M89 62h1M113 62h1M112 63h1M113 64h1M112 66h1M113 69h1M5 70h1M84 70h1M84 71h1M107 71h1M43 72h1M98 72h1M103 72h1M113 72h1M5 73h1M4 75h1M11 75h1M43 75h1M87 75h2M98 75h1M120 75h1M89 76h1M89 77h1M107 79h1M113 79h1M146 81h1M45 84h1M49 84h1M51 84h1M53 84h1M56 84h1M62 84h1M70 84h2M134 84h1M139 84h1M142 84h1M153 84h1M75 87h1M75 88h1M49 89h1M62 89h1M76 89h2M134 89h1M145 89h1M72 98h1M75 98h1M72 103h1M45 107h1M49 107h2M56 107h1M71 107h1M79 107h1M142 107h2M152 107h2M147 108h1M147 111h1M56 112h1M59 112h1M61 112h1M63 112h1M66 112h1M142 112h1M46 113h1M62 113h1M64 113h1M69 113h1M72 113h1M79 113h1M128 113h1M75 120h1M147 122h1M113 128h1M84 134h1M89 134h1M84 139h1M84 142h1M107 142h1M112 142h1M107 143h1M89 145h1M9 146h1M25 146h1M43 146h1M81 146h1M4 147h1M11 147h1M24 147h1M43 147h1M108 147h1M111 147h1M122 147h1M107 152h1M84 153h1M107 153h1"/>
<path stroke="#0067ff" stroke-width="1" d="M51 5h1M59 5h1M69 5h1M76 5h2M135 5h1M138 5h1M144 5h1M157 5h1M54 9h1M65 9h1M79 9h1M157 9h1M79 11h1M147 12h1M72 24h1M72 25h1M75 26h1M75 29h1M147 37h1M107 47h1M89 48h1M107 48h1M84 50h1M112 50h1M5 51h1M107 51h1M107 53h1M9 54h1M98 54h1M89 56h1M107 57h1M84 58h1M107 58h1M5 59h1M89 59h1M107 61h1M9 65h1M85 65h1M113 65h1M113 66h1M5 69h1M113 70h1M112 71h1M24 72h2M83 72h1M85 72h1M87 72h1M104 72h1M120 72h1M147 72h1M115 73h1M112 74h2M26 75h1M29 75h1M81 75h1M91 75h1M96 75h1M110 75h1M114 75h1M121 75h1M5 76h1M5 77h1M113 77h1M9 79h1M11 79h1M75 81h1M147 81h1M72 83h1M50 84h1M58 84h1M128 84h1M152 84h1M158 84h1M65 85h1M72 85h1M72 87h1M147 87h1M48 89h1M56 89h1M59 89h1M128 89h1M75 91h1M75 96h1M54 98h1M72 104h1M47 107h2M51 107h1M53 107h1M57 107h2M61 107h1M128 107h1M156 107h2M159 107h1M75 110h1M50 112h1M71 112h1M74 112h1M65 113h2M70 113h1M74 113h1M77 113h1M75 114h1M73 115h1M147 116h1M72 120h1M75 121h1M84 128h1M89 128h1M107 128h1M5 135h1M5 138h1M5 144h1M12 147h1M37 147h1M72 147h1M81 147h1M87 147h1M116 147h1M84 152h1M107 156h1M5 157h1M9 157h1M107 157h1M84 158h1M107 159h1"/>
<path stroke="#0077ff" stroke-width="1" d="M147 2h1M46 4h1M65 4h1M144 4h1M58 5h1M129 5h1M137 5h1M139 5h1M134 9h1M142 9h1M144 9h1M153 9h1M147 14h1M146 20h1M75 24h1M79 25h1M144 43h1M89 45h1M4 46h1M89 51h1M112 51h1M84 52h1M107 52h1M115 54h1M84 55h1M5 58h1M89 58h1M113 58h1M84 59h1M107 60h1M89 61h1M112 62h1M84 63h1M89 63h1M84 64h1M4 65h1M115 65h1M89 66h1M87 69h1M88 72h1M92 72h2M101 72h1M106 72h1M117 72h1M119 72h1M81 73h1M24 75h1M93 75h1M103 75h1M106 75h1M118 75h1M122 75h1M84 76h1M107 76h1M25 79h1M73 81h1M147 83h1M52 84h1M55 84h1M59 84h1M63 84h2M76 84h1M138 84h1M148 84h1M155 84h1M157 84h1M69 87h1M72 88h1M45 89h1M51 89h1M58 89h1M61 89h1M63 89h1M66 89h1M136 89h4M155 89h1M157 89h2M147 91h1M72 92h1M146 92h1M72 93h1M75 93h1M146 93h1M146 98h1M72 101h1M75 103h1M72 106h1M75 106h1M147 106h1M52 107h1M60 107h1M76 107h1M129 107h1M134 107h1M154 107h1M158 107h1M147 110h1M51 112h1M62 112h1M128 112h2M134 112h1M145 112h1M153 112h1M58 113h1M153 113h1M54 115h1M65 115h1M72 117h1M75 118h1M72 119h1M75 122h1M147 124h1M112 128h1M5 129h1M107 129h1M112 129h1M9 134h1M107 134h1M112 134h1M89 136h1M5 137h1M89 137h1M84 138h1M89 138h1M5 139h1M89 139h1M9 142h1M4 144h1M9 144h1M43 144h1M112 145h1M20 146h1M92 146h2M98 146h1M2 147h1M14 147h1M83 147h1M91 147h1M106 147h1M110 147h1M124 147h1M84 148h1M9 153h1M112 153h2M107 154h1M84 155h1M89 155h1M84 157h1M89 157h1M89 158h1M107 158h1"/>
<path stroke="#0087ff" stroke-width="1" d="M146 0h2M72 2h1M147 3h1M70 4h1M139 4h1M153 4h1M45 5h1M53 5h1M63 5h1M126 5h1M128 5h1M134 5h1M142 5h2M153 5h1M155 5h1M72 8h1M147 8h1M58 9h2M77 9h1M125 9h1M54 11h1M72 11h1M147 15h1M65 19h1M70 19h1M75 19h1M144 19h1M153 19h1M54 24h1M46 25h1M77 25h1M139 25h1M153 25h1M70 26h1M79 26h1M72 27h1M147 27h1M72 31h1M72 44h1M5 45h1M112 45h2M25 46h1M98 46h1M120 46h2M81 49h1M113 50h1M113 52h1M5 53h1M89 53h1M11 54h1M24 54h1M97 54h1M89 55h1M112 55h1M113 56h1M9 58h1M9 59h1M5 63h1M112 64h1M19 65h1M88 65h1M93 65h1M107 67h1M115 69h1M4 70h1M19 70h1M26 70h1M93 70h1M110 70h1M121 70h1M89 71h1M113 71h1M2 72h1M8 72h1M11 72h1M27 72h1M31 72h1M44 72h1M94 72h2M97 72h1M99 72h1M105 72h1M110 72h1M118 72h1M124 72h1M87 73h1M92 73h1M110 73h2M121 73h1M84 74h1M89 74h1M19 75h1M90 75h1M92 75h1M99 75h2M116 75h1M119 75h1M124 75h1M112 76h1M9 77h1M25 77h1M92 77h1M115 77h1M84 78h1M26 79h1M92 79h1M102 79h1M49 81h1M146 83h1M74 84h1M78 84h1M126 84h1M143 84h1M159 84h1M147 85h1M73 87h1M65 88h1M53 89h1M55 89h1M71 89h1M74 89h1M107 89h1M112 89h1M129 89h1M131 89h1M133 89h1M156 89h1M75 90h1M73 92h1M75 92h1M77 92h1M79 92h1M65 93h1M70 93h1M72 94h1M146 94h1M72 95h1M54 97h1M72 97h1M46 98h1M72 99h1M75 99h1M75 100h1M79 102h1M146 103h1M72 105h1M67 107h1M89 107h1M130 107h2M133 107h1M151 107h1M70 110h1M72 110h2M73 111h1M45 112h1M55 112h1M64 112h1M76 112h1M89 112h1M148 112h1M157 112h3M45 113h1M50 113h1M52 113h1M56 113h1M71 113h1M157 113h1M69 115h1M77 115h1M75 116h1M72 118h1M75 119h1M46 120h1M147 120h1M46 121h1M70 121h1M73 121h1M147 121h1M147 123h1M72 124h1M75 124h1M9 125h1M5 126h1M84 126h1M5 128h1M89 129h1M107 130h1M89 131h1M107 131h1M89 133h1M107 133h1M5 134h1M4 139h1M25 139h1M5 142h1M5 143h1M84 143h1M19 144h1M0 146h1M83 146h1M94 146h1M103 146h1M0 147h1M3 147h1M8 147h1M15 147h1M27 147h1M85 147h1M120 147h2M123 147h1M112 148h1M107 151h1M4 153h2M19 153h1M25 153h1M5 155h1M89 156h1M112 157h2M112 158h1M84 159h1M112 159h1"/>
<path stroke="#0097ff" stroke-width="1" d="M72 0h1M75 0h1M73 2h1M146 2h1M51 4h1M62 4h1M73 4h1M77 4h1M79 4h1M138 4h1M157 4h1M48 5h2M55 5h2M62 5h1M84 5h1M89 5h1M107 5h1M112 5h2M131 5h1M133 5h1M145 5h1M147 6h1M72 7h1M46 9h1M51 9h1M55 9h1M63 9h1M76 9h1M107 9h1M131 9h1M139 9h1M58 11h1M65 11h1M73 11h1M72 12h1M72 18h1M54 19h1M62 19h1M73 19h1M79 19h1M129 19h1M138 19h1M72 20h1M147 23h1M146 24h1M153 24h1M70 25h1M138 25h1M146 28h1M65 29h1M72 29h1M79 29h1M107 29h1M146 38h1M147 42h1M79 43h1M147 44h1M98 45h1M9 46h1M88 46h1M93 46h1M115 46h1M84 47h1M89 47h1M112 47h1M115 47h1M5 48h1M5 49h1M113 49h1M4 51h1M9 51h1M113 51h1M120 51h1M89 52h1M112 53h1M19 54h1M83 54h1M87 54h2M110 54h1M114 54h1M120 54h1M123 54h1M5 55h1M9 55h1M93 55h1M5 56h1M89 57h1M11 58h1M112 58h1M4 62h2M19 62h1M9 63h1M107 64h1M11 65h1M29 65h1M94 65h1M121 65h1M83 69h1M123 69h1M25 70h1M98 70h1M103 70h1M114 70h1M116 70h1M115 71h1M0 72h1M7 72h1M12 72h1M18 72h1M20 72h1M29 72h1M96 72h1M111 72h1M123 72h1M2 73h1M4 73h1M11 73h1M19 73h1M83 73h1M93 73h1M95 73h1M0 75h1M80 75h1M83 75h1M85 75h1M94 75h2M101 75h2M108 75h2M9 76h1M113 76h1M4 77h1M81 77h1M87 77h1M93 77h1M120 77h1M107 78h1M4 79h1M19 79h1M29 79h1M43 79h1M93 79h2M98 79h1M108 79h1M115 79h1M75 80h1M147 80h1M77 81h1M134 81h1M139 81h1M54 83h1M69 83h1M73 83h1M75 83h1M5 84h1M47 84h1M107 84h1M137 84h1M75 85h1M146 85h1M54 87h1M77 87h1M144 87h1M46 88h1M54 88h1M144 88h1M5 89h1M47 89h1M52 89h1M57 89h1M125 89h2M142 89h1M148 89h1M152 89h1M147 92h1M46 93h1M55 93h1M73 93h1M77 93h1M79 93h1M65 94h1M75 94h1M79 94h1M73 95h1M75 95h1M72 96h1M146 96h2M147 97h1M45 98h1M70 98h1M79 98h1M139 98h1M147 99h1M147 100h1M75 101h1M75 102h1M146 102h2M70 103h1M5 107h1M9 107h1M29 107h1M64 107h1M78 107h1M84 107h1M125 107h1M132 107h1M135 107h1M137 107h1M145 107h1M155 107h1M75 108h1M79 108h1M75 109h1M54 110h1M72 111h1M5 112h1M47 112h1M53 112h1M58 112h1M132 112h1M138 112h1M140 112h1M143 112h1M152 112h1M155 112h2M5 113h1M49 113h1M51 113h1M76 113h1M129 113h1M134 113h1M139 113h1M145 113h1M151 113h1M54 114h1M70 114h1M46 115h2M71 115h1M79 115h1M139 115h1M146 115h1M152 115h1M70 116h1M146 116h1M147 118h1M147 119h1M51 120h1M54 120h1M77 120h1M146 120h1M65 121h1M146 121h1M54 123h1M69 123h1M72 123h1M89 125h1M107 125h1M89 126h1M19 129h1M113 129h1M5 131h1M9 131h1M107 132h1M112 132h1M5 133h1M81 134h1M113 134h1M107 135h1M84 137h1M107 137h1M4 138h1M19 138h1M25 138h1M112 138h1M9 139h1M81 139h1M98 139h1M113 139h1M115 139h1M112 140h1M89 142h1M112 143h1M87 144h2M5 145h1M107 145h1M113 145h1M2 146h1M24 146h1M28 146h1M38 146h1M85 146h1M96 146h1M102 146h1M115 146h2M120 146h2M6 147h1M23 147h1M42 147h1M44 147h1M80 147h1M92 147h1M96 147h2M99 147h2M102 147h1M118 147h2M89 148h1M113 151h1M89 152h1M112 152h1M115 152h1M24 153h1M107 155h1M112 155h1M112 156h1M4 157h1"/>
<path stroke="#00a7ff" stroke-width="1" d="M147 1h1M70 2h1M77 2h1M79 2h1M5 4h1M54 4h1M76 4h1M107 4h1M129 4h1M137 4h1M4 5h1M50 5h1M60 5h2M66 5h2M71 5h1M74 5h1M78 5h1M125 5h1M130 5h1M150 5h1M152 5h1M72 6h1M75 6h1M146 6h1M75 7h1M147 7h1M50 9h1M62 9h1M133 9h1M140 9h1M143 9h1M152 9h1M156 9h1M158 9h1M46 11h1M66 11h1M69 11h2M125 11h1M144 11h1M146 11h1M153 11h1M75 12h1M146 12h1M72 13h1M72 14h1M75 14h1M153 14h1M75 17h1M147 17h1M147 18h1M55 19h1M58 19h1M128 19h1M134 19h1M142 19h1M63 24h1M144 24h1M54 25h2M65 25h1M153 26h1M146 27h1M147 28h1M73 29h1M146 29h1M147 31h1M146 34h1M146 37h1M69 43h2M77 43h1M139 43h1M156 43h1M92 45h1M114 45h1M11 46h1M81 46h1M83 46h1M87 46h1M103 46h1M108 46h1M114 46h1M118 46h1M123 46h1M98 47h1M84 48h1M112 48h1M5 50h1M9 50h1M81 51h1M115 53h1M4 54h1M25 54h1M81 54h1M96 54h1M100 54h1M104 54h1M108 54h1M117 54h1M121 54h1M19 55h1M25 55h1M98 55h1M113 55h1M115 55h1M19 58h1M85 58h1M98 58h1M113 59h1M5 60h1M112 60h2M5 61h1M115 61h1M9 62h1M115 62h1M24 63h1M103 63h1M113 63h1M115 63h1M25 65h1M96 65h1M118 65h1M120 65h1M123 65h1M5 66h1M11 66h1M98 66h1M103 66h1M120 66h1M5 67h1M89 67h1M112 67h1M84 68h1M89 68h1M112 68h1M11 69h1M43 69h1M85 69h1M92 69h2M110 69h2M2 70h1M11 70h1M43 70h1M81 70h1M87 70h1M94 70h1M97 70h1M5 71h1M6 72h1M13 72h2M90 72h1M29 73h1M85 73h1M88 73h1M114 73h1M5 74h1M106 74h1M6 75h2M12 75h1M14 75h1M17 75h1M104 75h1M117 75h1M4 76h1M2 77h1M43 77h1M121 77h1M123 77h1M5 78h1M112 78h2M2 79h1M81 79h1M83 79h1M96 79h1M109 79h1M114 79h1M120 79h1M46 81h1M51 81h1M54 81h1M70 81h1M79 81h1M147 82h1M46 83h1M79 83h1M48 84h1M68 84h1M112 84h1M131 84h1M133 84h1M58 85h1M69 85h1M73 85h1M46 87h1M70 87h1M73 88h1M67 89h2M135 89h1M143 89h1M150 89h1M154 89h1M72 90h1M147 90h1M45 92h1M69 92h1M157 92h1M69 93h1M147 93h1M70 94h1M147 94h1M54 96h1M65 96h1M79 96h1M70 97h1M47 98h1M55 98h1M58 98h1M66 98h1M54 100h1M147 101h1M46 103h1M63 103h1M66 103h1M153 103h1M54 104h1M75 104h1M74 106h1M146 106h1M157 106h1M4 107h1M126 107h1M149 107h1M46 108h1M54 108h1M79 109h1M146 109h2M69 110h1M146 110h1M69 111h1M48 112h1M60 112h1M67 112h2M78 112h1M84 112h1M113 112h1M131 112h1M133 112h1M137 112h1M141 112h1M55 113h1M59 113h2M63 113h1M78 113h1M112 113h1M131 113h1M138 113h1M142 113h2M154 113h1M156 113h1M45 114h2M73 114h1M79 114h1M53 115h1M55 115h1M61 115h3M128 115h2M142 115h1M148 115h1M54 117h1M75 117h1M147 117h1M46 118h1M65 118h1M65 120h2M79 120h1M54 121h1M77 121h1M146 122h1M46 123h1M65 123h1M77 123h1M5 125h1M11 125h1M107 126h1M19 128h1M115 128h1M4 129h1M115 129h1M5 130h1M84 131h1M112 131h2M9 133h1M84 133h1M112 133h1M19 134h1M89 135h1M4 137h1M112 137h1M113 138h1M43 139h1M9 140h1M112 141h1M19 142h1M113 142h1M115 142h1M9 143h1M89 143h1M113 143h1M11 144h1M24 144h1M6 146h1M11 146h2M27 146h1M29 146h1M34 146h1M37 146h1M106 146h1M109 146h2M122 146h1M1 147h1M7 147h1M17 147h2M28 147h1M31 147h1M82 147h1M90 147h1M93 147h2M101 147h1M109 147h1M117 147h1M115 148h1M107 149h1M5 150h1M89 150h1M5 152h1M9 152h1M11 153h1M14 153h1M26 153h1M103 153h1M89 154h1M113 154h1M9 156h1M43 156h1M113 156h1M92 157h1M106 157h1M9 158h1"/>
<path stroke="#00b7ff" stroke-width="1" d="M79 0h1M142 0h1M72 1h2M46 2h1M65 2h1M75 2h1M72 3h1M9 4h1M50 4h1M53 4h1M59 4h1M74 4h1M128 4h1M143 4h1M145 4h1M19 5h1M26 5h1M52 5h1M64 5h1M127 5h1M151 5h1M159 5h1M139 7h1M4 9h1M45 9h1M47 9h1M64 9h1M66 9h1M84 9h1M112 9h1M128 9h1M138 9h1M145 9h1M45 11h1M63 11h1M77 11h1M129 11h1M137 11h1M157 11h2M46 12h1M54 12h1M153 12h1M147 13h1M54 14h1M144 14h1M146 14h1M75 15h1M75 18h1M5 19h1M48 19h2M51 19h1M53 19h1M61 19h1M63 19h1M76 19h1M155 19h1M157 19h2M75 20h1M147 20h1M153 20h1M75 22h1M147 22h1M146 23h1M55 24h1M69 24h2M73 24h1M53 25h1M58 25h1M69 25h1M73 25h1M89 25h1M126 25h1M142 25h1M144 25h1M157 25h1M5 26h1M51 26h1M54 26h1M65 26h2M74 26h1M77 26h1M142 26h1M75 27h1M46 29h1M54 29h1M77 29h1M128 29h1M142 29h1M144 29h1M73 31h1M146 31h1M75 33h1M147 33h1M147 34h1M147 36h1M72 38h1M147 38h1M147 39h1M46 43h1M53 43h2M63 43h1M73 43h1M153 43h1M157 43h1M159 43h1M65 44h1M75 44h1M9 45h1M11 45h1M103 45h1M2 46h1M12 46h1M29 46h1M43 46h1M92 46h1M100 46h1M110 46h1M116 46h1M9 47h1M113 47h1M19 48h1M103 48h1M113 48h1M19 49h1M120 49h1M4 50h1M81 50h1M89 50h1M19 51h1M26 51h1M85 51h1M98 51h1M108 51h1M5 52h1M4 53h1M19 53h1M25 53h1M43 53h1M93 53h1M110 53h1M122 53h1M12 54h1M14 54h1M26 54h1M29 54h1M43 54h1M85 54h1M99 54h1M103 54h1M105 54h1M111 54h1M122 54h1M24 55h1M87 55h1M81 57h1M84 57h1M112 57h2M25 58h1M83 58h1M88 58h1M115 58h1M120 58h2M4 59h1M81 59h1M121 59h1M84 60h1M89 60h1M19 61h1M84 61h1M93 62h1M98 62h1M11 63h1M19 63h1M43 63h1M87 63h1M93 63h1M5 64h1M9 64h1M89 64h1M2 65h1M26 65h1M44 65h1M81 65h1M87 65h1M90 65h3M98 65h3M103 65h1M117 65h1M9 66h1M26 66h1M81 66h1M106 66h1M110 66h1M113 67h1M115 67h1M24 69h2M81 69h1M99 69h1M24 70h1M83 70h1M88 70h1M95 70h1M99 70h1M115 70h1M118 70h2M123 70h1M98 71h1M110 71h1M1 72h1M3 72h1M38 72h1M82 72h1M91 72h1M100 72h1M109 72h1M114 72h1M116 72h1M122 72h1M1 73h1M24 73h2M31 73h1M43 73h1M90 73h1M106 73h1M108 73h1M118 73h1M120 73h1M4 74h1M26 74h1M115 74h1M2 75h1M15 75h1M18 75h1M20 75h1M22 75h1M27 75h1M33 75h1M44 75h1M82 75h1M97 75h1M111 75h1M19 76h1M98 76h1M115 76h1M11 77h1M26 77h1M29 77h1M83 77h1M88 77h1M97 77h2M114 77h1M119 77h1M0 79h1M87 79h2M103 79h1M106 79h1M110 79h1M123 79h1M50 81h1M57 81h1M59 81h1M65 81h2M69 81h1M72 82h1M75 82h1M146 82h1M58 83h1M70 83h1M77 83h1M139 83h1M144 83h1M153 83h1M9 84h1M57 84h1M60 84h2M125 84h1M132 84h1M136 84h1M140 84h1M149 84h2M156 84h1M51 85h1M54 85h1M153 85h1M147 86h1M55 87h1M63 87h1M65 87h1M79 87h1M58 88h1M70 88h1M77 88h1M79 88h1M146 88h1M25 89h1M50 89h1M60 89h1M64 89h1M132 89h1M140 89h1M159 89h1M65 90h1M73 90h1M65 91h1M72 91h1M46 92h1M65 92h1M53 93h1M62 93h2M70 95h1M147 95h1M144 96h1M75 97h1M77 97h1M51 98h1M62 98h1M65 98h1M71 98h1M76 98h2M125 98h1M129 98h1M156 98h1M54 99h1M65 99h1M69 99h2M46 100h1M65 100h1M72 100h1M45 103h1M48 103h1M54 103h1M65 103h1M79 103h1M142 103h1M147 104h1M54 105h1M66 106h1M73 106h1M79 106h1M113 107h1M127 107h1M136 107h1M140 107h1M51 108h1M73 108h1M146 108h1M72 109h1M46 110h1M53 110h1M66 110h1M71 110h1M79 110h1M139 110h1M54 111h1M75 111h1M9 112h1M57 112h1M126 112h2M130 112h1M150 112h1M47 113h2M57 113h1M67 113h1M107 113h1M126 113h2M132 113h2M137 113h1M152 113h1M72 114h1M77 114h1M146 114h1M58 115h1M67 115h1M70 115h1M74 115h1M76 115h1M131 115h1M144 115h1M153 115h1M158 115h1M46 116h1M72 116h1M144 116h1M65 117h1M70 118h1M73 118h1M70 119h1M77 119h1M146 119h1M49 120h1M58 120h1M73 120h1M139 120h1M153 120h1M58 121h2M139 121h1M142 121h1M53 122h2M72 122h1M70 123h1M79 123h1M146 123h1M84 125h1M98 125h1M25 126h1M112 126h2M5 127h1M107 127h1M112 127h2M4 128h1M9 128h1M29 128h1M11 129h1M98 129h1M112 130h1M115 131h1M84 132h1M89 132h1M113 132h1M113 133h1M84 136h1M107 136h1M11 137h1M113 137h1M9 138h1M7 139h1M83 139h1M110 139h1M120 139h2M84 140h1M89 140h1M107 140h1M0 142h1M25 142h2M29 142h1M103 142h1M121 142h1M4 143h1M14 144h1M25 144h1M29 144h1M83 144h1M96 144h1M115 144h2M4 145h1M9 145h1M14 146h1M23 146h1M31 146h1M82 146h1M88 146h1M108 146h1M114 146h1M119 146h1M123 146h1M13 147h1M20 147h1M22 147h1M33 147h2M36 147h1M38 147h2M86 147h1M95 147h1M104 147h1M84 149h1M84 150h1M112 150h1M5 151h1M113 152h1M12 153h1M20 153h1M43 153h1M83 153h1M85 153h1M115 153h1M120 153h1M19 155h1M84 156h1M98 156h1M11 157h1M19 157h1M25 157h1M43 157h1M11 158h1M19 158h1M115 158h1M5 159h1M43 159h1M89 159h1"/>
<path stroke="#00c7ff" stroke-width="1" d="M46 0h1M66 0h1M146 1h1M69 2h1M52 4h1M55 4h1M58 4h1M61 4h1M63 4h1M66 4h1M69 4h1M84 4h1M112 4h1M126 4h1M149 4h1M152 4h1M156 4h1M159 4h1M47 5h1M132 5h1M140 5h1M148 5h1M156 5h1M54 8h1M65 8h1M49 9h1M52 9h2M61 9h1M67 9h1M89 9h1M113 9h1M126 9h1M129 9h1M137 9h1M148 9h1M150 9h1M72 10h1M75 10h1M147 10h1M76 11h1M134 11h1M139 11h1M79 12h1M46 14h1M69 14h2M77 14h1M128 14h1M139 14h1M73 15h1M146 17h1M139 18h1M144 18h1M46 19h1M66 19h1M77 19h1M84 19h1M126 19h1M139 19h1M152 19h1M49 20h1M73 20h1M79 20h1M145 20h1M79 23h1M51 24h1M59 24h1M65 24h1M79 24h1M112 24h1M128 24h1M145 24h1M152 24h1M157 24h1M78 25h1M107 25h1M131 25h1M134 25h1M152 25h1M69 26h1M73 26h1M129 26h1M139 26h1M143 26h1M145 26h1M159 26h1M65 27h1M69 27h1M144 27h1M54 28h1M72 28h1M84 29h1M125 29h1M72 30h1M75 30h1M58 31h1M65 31h1M75 31h1M146 32h2M54 34h1M77 34h1M72 35h1M72 37h1M144 38h1M54 42h1M75 42h1M51 43h1M56 43h1M71 43h1M142 43h1M77 44h1M146 44h1M153 44h1M83 45h1M88 45h1M110 45h1M121 45h1M123 45h1M0 46h1M14 46h1M19 46h1M91 46h1M94 46h1M96 46h2M104 46h1M5 47h1M93 47h1M115 48h1M9 49h1M20 49h1M88 49h1M106 49h1M88 50h1M24 51h1M43 51h1M87 51h1M103 51h1M110 51h1M115 51h1M124 51h1M4 52h1M9 52h1M98 52h1M9 53h1M81 53h1M92 53h1M98 53h1M106 53h1M8 54h1M28 54h1M34 54h1M42 54h1M93 54h1M102 54h1M109 54h1M116 54h1M4 55h1M81 55h1M106 55h1M121 55h1M43 56h1M120 56h1M4 58h1M31 58h1M87 58h1M103 58h1M114 58h1M24 59h1M114 59h2M4 61h1M9 61h1M93 61h1M98 61h1M113 61h1M106 62h1M4 63h1M83 63h1M117 63h1M8 65h1M24 65h1M27 65h1M31 65h1M82 65h1M95 65h1M106 65h1M108 65h1M110 65h1M114 65h1M116 65h1M119 65h1M0 66h1M4 66h1M19 66h1M87 66h2M94 66h1M108 66h1M115 66h1M117 66h1M9 67h1M107 68h1M2 69h1M4 69h1M14 69h1M26 69h2M82 69h1M88 69h1M91 69h1M98 69h1M103 69h1M109 69h1M116 69h1M120 69h1M14 70h1M92 70h1M100 70h2M106 70h1M117 70h1M122 70h1M43 71h1M83 71h1M88 71h1M123 71h1M10 72h1M28 72h1M30 72h1M35 72h1M37 72h1M86 72h1M102 72h1M15 73h1M20 73h1M26 73h1M96 73h3M103 73h1M116 73h1M123 73h1M81 74h1M87 74h1M10 75h1M30 75h2M42 75h1M86 75h1M147 75h1M11 76h1M83 76h1M95 76h1M117 76h1M14 77h1M19 77h1M34 77h1M44 77h1M82 77h1M85 77h1M95 77h1M104 77h1M106 77h1M109 77h2M25 78h1M89 78h1M12 79h1M20 79h1M23 79h2M85 79h1M95 79h1M105 79h1M111 79h1M116 79h1M122 79h1M53 81h1M55 81h1M74 81h1M159 81h1M65 82h1M69 82h1M77 82h1M45 83h1M63 83h1M71 83h1M76 83h1M4 84h1M19 84h1M29 84h1M89 84h1M113 84h1M127 84h1M130 84h1M135 84h1M151 84h1M154 84h1M77 85h1M79 85h1M72 86h1M75 86h1M146 86h1M51 87h1M58 87h1M66 87h1M74 87h1M142 87h2M146 87h1M155 87h1M45 88h1M49 88h2M66 88h1M69 88h1M71 88h1M130 88h1M139 88h1M153 88h1M9 89h1M78 89h1M84 89h1M113 89h1M46 91h1M69 91h1M146 91h1M53 92h1M70 92h1M139 92h1M47 93h1M54 93h1M61 93h1M134 93h1M144 93h1M46 94h1M66 94h1M65 95h1M76 95h2M79 95h1M144 95h1M153 95h1M46 96h1M73 96h1M46 97h1M73 97h1M52 98h2M61 98h1M69 98h1M73 98h1M128 98h1M135 98h1M142 98h3M152 98h1M146 99h1M70 100h1M70 101h1M146 101h1M54 102h1M72 102h1M51 103h1M58 103h1M69 103h1M73 103h1M144 103h1M147 103h1M46 104h1M77 104h1M146 104h1M79 105h1M147 105h1M49 106h1M53 106h1M55 106h1M62 106h1M65 106h1M70 106h1M77 106h1M25 107h1M68 107h1M112 107h1M115 107h1M138 107h1M150 107h1M65 108h2M54 109h1M69 109h1M77 109h1M45 110h1M51 110h1M65 110h1M77 110h1M129 110h1M143 110h2M79 111h1M144 111h1M4 112h1M24 112h1M107 112h1M125 112h1M149 112h1M154 112h1M9 113h1M61 113h1M84 113h1M89 113h1M149 113h1M58 114h2M65 114h1M139 114h1M48 115h1M51 115h1M59 115h1M66 115h1M107 115h1M137 115h1M54 116h1M65 116h1M69 116h1M73 116h1M79 116h1M63 117h1M66 117h1M70 117h1M76 117h1M129 117h1M134 117h1M146 117h1M153 117h1M139 118h1M146 118h1M65 119h1M56 120h1M69 120h1M142 120h1M145 120h1M152 120h1M159 120h1M45 121h1M55 121h1M129 121h1M140 121h1M153 121h1M70 122h1M79 122h1M144 122h1M45 123h1M71 123h1M73 123h1M134 123h1M51 124h1M29 125h1M112 125h1M4 126h1M9 126h1M19 126h1M84 127h1M14 128h1M24 128h1M98 128h1M9 129h1M26 129h1M110 129h1M117 129h1M121 129h1M84 130h1M88 130h1M25 131h1M5 132h1M11 134h1M25 134h1M93 134h1M117 134h1M123 134h1M84 135h1M98 135h1M9 137h1M115 137h1M107 138h1M11 139h1M14 139h1M18 139h2M26 139h1M88 139h1M92 139h1M114 139h1M118 139h1M5 140h1M121 140h1M43 142h1M87 142h1M98 142h1M120 142h1M26 143h1M87 143h1M98 143h1M110 143h1M18 144h1M27 144h1M38 144h1M93 144h1M95 144h1M98 144h1M103 144h1M110 144h2M122 144h1M20 145h1M24 145h1M26 145h1M120 145h1M1 146h1M17 146h1M32 146h1M44 146h1M86 146h2M91 146h1M99 146h1M101 146h1M104 146h1M117 146h2M10 147h1M32 147h1M75 147h1M103 147h1M105 147h1M5 148h1M9 148h1M4 149h1M112 149h2M9 150h1M107 150h1M84 151h1M4 152h1M19 152h1M24 152h2M98 152h1M120 152h1M44 153h1M88 153h1M95 153h1M117 153h1M121 153h1M84 154h1M112 154h1M87 155h1M4 156h2M24 157h1M4 159h1M26 159h1M81 159h1M120 159h1"/>
<path stroke="#00d7ff" stroke-width="1" d="M59 0h1M70 0h1M153 0h1M75 1h1M54 2h1M66 2h1M142 2h1M144 2h2M152 2h2M54 3h1M146 3h1M45 4h1M56 4h2M71 4h1M78 4h1M89 4h1M113 4h1M131 4h1M136 4h1M140 4h1M142 4h1M148 4h1M150 4h1M155 4h1M24 5h1M27 5h1M68 5h1M136 5h1M144 6h1M46 7h1M69 8h1M75 8h1M77 8h1M144 8h1M146 8h1M26 9h1M56 9h1M74 9h1M78 9h1M132 9h1M136 9h1M149 9h1M151 9h1M154 9h2M142 10h1M146 10h1M55 11h1M59 11h1M64 11h1M132 11h1M136 11h1M145 11h1M150 11h1M152 11h1M51 12h1M65 12h1M74 12h1M84 12h1M139 12h1M146 13h1M73 14h1M129 14h1M140 14h1M152 14h1M157 14h1M46 15h1M54 15h1M72 15h1M54 17h1M72 17h1M144 17h1M79 18h1M146 18h1M52 19h1M74 19h1M112 19h1M130 19h1M137 19h1M145 19h1M148 19h1M46 20h1M51 20h1M54 20h1M69 20h1M139 20h1M144 20h1M75 21h1M147 21h1M54 23h1M75 23h1M5 24h1M46 24h1M48 24h1M58 24h1M66 24h1M77 24h1M107 24h1M113 24h1M142 24h2M45 25h1M48 25h1M50 25h1M57 25h1M59 25h1M62 25h1M66 25h1M112 25h1M129 25h1M159 25h1M9 26h1M61 26h2M71 26h1M126 26h1M128 26h1M137 26h1M144 26h1M156 26h2M5 27h1M65 28h1M75 28h1M79 28h1M48 29h1M50 29h1M53 29h1M62 29h1M66 29h1M69 29h3M139 29h1M143 29h1M77 30h1M142 31h1M157 31h1M72 32h1M75 32h1M72 33h1M75 35h1M79 35h1M146 35h2M54 37h1M75 37h1M142 37h1M153 37h1M72 39h1M75 39h1M146 42h1M45 43h1M55 43h1M58 43h1M65 43h1M74 43h1M107 43h1M126 43h1M128 43h2M145 43h1M54 44h1M73 44h1M144 44h1M159 44h1M4 45h1M25 45h1M43 45h1M81 45h1M109 45h1M115 45h1M7 46h1M15 46h1M20 46h1M24 46h1M75 46h1M80 46h1M95 46h1M99 46h1M101 46h1M106 46h1M109 46h1M119 46h1M122 46h1M124 46h1M114 47h1M24 48h2M29 48h1M83 48h1M92 48h1M83 49h1M98 49h1M110 49h1M115 49h1M119 49h1M25 50h1M29 50h1M93 50h1M110 50h1M115 50h1M12 51h1M20 51h1M93 51h1M96 51h1M105 51h1M121 51h2M19 52h1M81 52h1M112 52h1M115 52h1M29 53h1M113 53h1M119 53h2M123 53h1M2 54h2M15 54h1M17 54h1M20 54h1M23 54h1M37 54h1M44 54h1M80 54h1M82 54h1M86 54h1M90 54h2M95 54h1M119 54h1M11 55h1M43 55h1M95 55h1M109 55h1M111 55h1M4 56h1M9 56h1M93 56h1M121 56h1M4 57h1M25 57h1M24 58h1M43 58h1M81 58h1M95 58h1M108 58h1M116 58h1M0 59h1M11 59h1M25 59h1M109 59h1M81 60h1M93 60h1M26 61h1M81 61h1M87 61h1M108 61h1M111 61h1M123 61h1M25 62h2M29 62h1M83 62h1M88 62h1M108 62h1M118 63h1M123 63h1M11 64h1M87 64h1M121 64h1M12 65h1M28 65h1M43 65h1M83 65h1M86 65h1M101 65h2M109 65h1M122 65h1M124 65h1M2 66h1M24 66h2M29 66h1M83 66h1M85 66h1M95 66h2M114 66h1M118 66h1M121 66h1M81 67h1M5 68h1M113 68h1M8 69h1M20 69h1M29 69h1M80 69h1M94 69h1M106 69h1M114 69h1M117 69h1M121 69h2M0 70h1M29 70h1M85 70h2M91 70h1M111 70h1M120 70h1M4 71h1M26 71h1M29 71h1M81 71h1M87 71h1M93 71h1M111 71h1M121 71h2M15 72h1M17 72h1M32 72h2M39 72h1M80 72h1M14 73h1M44 73h1M82 73h1M91 73h1M94 73h1M100 73h2M109 73h1M117 73h1M9 74h1M12 74h1M19 74h1M43 74h1M98 74h1M110 74h1M1 75h1M8 75h1M21 75h1M23 75h1M28 75h1M32 75h1M35 75h1M37 75h1M39 75h1M46 75h1M105 75h1M85 76h1M121 76h1M8 77h1M24 77h1M30 77h1M91 77h1M94 77h1M102 77h1M105 77h1M108 77h1M111 77h1M117 77h2M4 78h1M9 78h1M88 78h1M115 78h1M122 78h1M18 79h1M28 79h1M35 79h1M100 79h1M118 79h1M121 79h1M46 80h1M54 80h1M69 80h1M72 80h1M144 80h1M45 81h1M52 81h1M58 81h1M60 81h2M67 81h1M71 81h1M125 81h2M129 81h1M142 81h2M157 81h1M54 82h1M73 82h1M139 82h1M48 83h2M62 83h1M65 83h2M156 83h1M12 84h1M141 84h1M66 85h1M70 85h1M76 85h1M143 85h2M54 86h1M65 86h1M70 86h1M142 86h1M61 87h1M64 87h1M71 87h1M125 87h2M130 87h1M62 88h1M78 88h1M128 88h1M149 88h1M152 88h1M4 89h1M130 89h1M54 90h1M146 90h1M54 91h1M70 91h1M73 91h1M77 91h1M129 91h1M139 91h1M142 91h1M48 92h1M144 92h1M153 92h1M50 93h2M56 93h1M60 93h1M71 93h1M143 93h1M159 93h1M69 94h1M73 94h1M77 94h1M129 94h1M153 94h1M46 95h1M54 95h2M58 95h1M66 95h1M146 95h1M51 96h1M66 96h1M159 96h1M144 97h1M146 97h1M49 98h1M74 98h1M131 98h1M134 98h1M145 98h1M154 98h1M157 98h1M159 98h1M46 99h1M73 100h1M79 100h1M146 100h1M46 101h1M65 101h1M73 101h1M65 102h1M77 102h1M152 103h1M51 105h1M75 105h1M77 105h1M146 105h1M153 105h1M46 106h1M69 106h1M128 106h1M159 106h1M24 107h1M43 107h1M141 107h1M148 107h1M58 108h1M61 108h2M77 108h1M139 108h1M157 108h1M45 109h2M55 109h1M59 109h1M65 109h1M73 109h1M139 109h1M49 110h2M74 110h1M128 110h1M142 110h1M148 110h1M153 110h1M55 111h1M61 111h1M70 111h2M77 111h1M128 111h1M146 111h1M19 112h1M25 112h1M52 112h1M115 112h1M135 112h1M151 112h1M4 113h1M24 113h1M53 113h1M68 113h1M130 113h1M135 113h1M140 113h1M158 113h2M47 114h1M66 114h1M69 114h1M137 114h1M144 114h1M153 114h1M45 115h1M49 115h2M52 115h1M78 115h1M112 115h1M125 115h1M127 115h1M133 115h1M138 115h1M145 115h1M155 115h1M159 115h1M58 116h1M128 116h1M157 116h1M69 117h1M73 117h1M77 117h1M144 117h1M63 118h1M66 118h1M77 118h1M79 118h1M46 119h1M49 119h1M53 119h2M142 119h1M152 119h1M53 120h1M70 120h1M128 120h1M144 120h1M51 121h1M56 121h1M64 121h1M66 121h1M69 121h1M71 121h1M76 121h1M79 121h1M127 121h1M144 121h1M46 122h1M51 122h1M65 122h1M69 122h1M71 122h1M78 122h1M53 123h1M61 123h1M63 123h1M128 123h1M153 123h1M46 124h1M65 124h1M146 124h1M81 125h1M87 125h1M115 125h1M26 126h1M43 126h1M81 126h1M87 126h1M115 127h1M121 127h1M26 128h1M43 128h1M88 128h1M106 128h1M110 128h2M116 128h1M120 128h1M123 128h1M14 129h1M25 129h1M43 129h1M81 129h1M91 129h1M94 129h1M19 130h1M87 130h1M89 130h1M113 130h1M4 131h1M98 131h1M9 132h1M11 132h1M115 133h1M98 134h1M112 135h2M4 136h2M9 136h1M11 136h1M19 137h1M26 137h1M114 137h1M115 138h1M12 139h1M20 139h1M29 139h1M82 139h1M91 139h1M108 139h2M4 140h1M14 140h1M113 140h1M84 141h1M107 141h1M2 142h1M4 142h1M10 142h1M24 142h1M31 142h1M37 142h1M81 142h1M86 142h1M91 142h1M110 142h1M119 142h1M24 143h1M29 143h1M81 143h1M85 143h1M93 143h1M2 144h1M6 144h1M8 144h1M17 144h1M20 144h1M26 144h1M44 144h1M80 144h1M85 144h1M92 144h1M97 144h1M114 144h1M117 144h1M120 144h2M2 145h1M11 145h1M19 145h1M43 145h1M98 145h1M115 145h1M3 146h1M8 146h1M10 146h1M13 146h1M18 146h1M35 146h1M42 146h1M90 146h1M95 146h1M97 146h1M100 146h1M105 146h1M111 146h1M124 146h1M21 147h1M35 147h1M4 148h1M19 148h1M107 148h1M110 148h1M9 149h1M88 149h1M4 150h1M11 150h1M9 151h1M112 151h1M2 152h1M11 152h1M14 152h1M88 152h1M103 152h1M119 152h1M0 153h1M2 153h1M37 153h1M92 153h1M94 153h1M105 153h1M110 153h1M114 153h1M123 153h1M9 154h1M98 154h1M4 155h1M9 155h1M115 155h1M26 156h1M83 156h1M14 157h1M26 157h1M31 157h1M81 157h1M98 157h1M108 157h1M116 157h1M113 158h1M25 159h1M44 159h1M93 159h1M96 159h1M98 159h1M106 159h1M113 159h1M115 159h1"/>
<path stroke="#00e7ff" stroke-width="1" d="M5 0h1M54 0h1M58 0h1M62 0h1M73 0h1M135 0h1M143 0h1M157 0h1M153 1h1M59 2h1M63 2h1M74 2h1M134 2h1M139 2h1M65 3h1M73 3h1M75 3h1M144 3h1M43 4h1M48 4h2M60 4h1M133 4h2M158 4h1M0 5h1M9 5h1M14 5h1M20 5h1M25 5h1M57 5h1M120 5h2M149 5h1M154 5h1M45 6h2M139 6h1M71 7h1M142 7h1M146 7h1M153 7h1M71 8h1M139 8h1M5 9h1M11 9h1M19 9h1M24 9h1M29 9h1M57 9h1M159 9h1M9 11h1M49 11h1M56 11h1M71 11h1M74 11h1M84 11h1M107 11h1M131 11h1M135 11h1M142 11h1M148 11h2M58 12h1M70 12h1M77 12h1M138 12h1M142 12h1M144 12h2M152 12h1M157 12h1M157 13h1M5 14h1M55 14h1M65 14h1M79 14h1M70 15h1M146 15h1M46 17h1M153 17h1M54 18h1M66 18h1M9 19h1M45 19h1M59 19h2M69 19h1M78 19h1M89 19h1M107 19h1M125 19h1M140 19h1M143 19h1M154 19h1M156 19h1M5 20h1M70 20h1M89 20h1M107 20h1M126 20h1M143 20h1M155 20h1M157 20h1M146 21h1M46 22h1M72 22h1M79 22h1M146 22h1M65 23h1M69 23h1M72 23h1M74 23h1M142 23h1M9 24h1M45 24h1M49 24h1M84 24h1M89 24h1M125 24h1M137 24h2M149 24h1M151 24h1M156 24h1M5 25h1M49 25h1M51 25h2M56 25h1M60 25h1M71 25h1M74 25h1M76 25h1M113 25h1M133 25h1M149 25h1M158 25h1M45 26h3M49 26h1M55 26h1M58 26h1M63 26h1M84 26h1M127 26h1M131 26h1M134 26h1M138 26h1M140 26h1M150 26h1M158 26h1M54 27h1M142 27h1M73 28h1M9 29h1M45 29h1M56 29h1M58 29h1M61 29h1M63 29h1M74 29h1M76 29h1M112 29h1M129 29h1M152 29h2M158 29h1M54 30h1M45 31h2M79 31h1M139 31h1M66 32h1M144 32h1M72 34h1M72 36h1M46 37h1M65 37h1M157 37h1M65 38h1M70 38h1M152 38h1M46 39h1M65 39h1M146 41h2M144 42h1M4 43h1M60 43h1M76 43h1M84 43h1M89 43h1M112 43h1M134 43h1M137 43h2M148 43h1M69 44h1M79 44h1M126 44h1M6 45h1M19 45h1M24 45h1M26 45h1M29 45h1M31 45h1M91 45h1M93 45h1M100 45h2M117 45h1M119 45h1M6 46h1M17 46h1M22 46h1M26 46h1M31 46h1M37 46h1M39 46h1M82 46h1M85 46h1M90 46h1M102 46h1M111 46h1M26 47h1M83 47h1M87 47h2M122 47h1M4 48h1M85 48h1M98 48h1M4 49h1M11 49h1M24 49h3M91 49h3M97 49h1M108 49h1M123 49h1M83 50h1M95 50h1M103 50h1M25 51h1M83 51h1M88 51h1M92 51h1M104 51h1M109 51h1M111 51h1M114 51h1M25 52h1M85 52h1M120 52h2M123 52h1M83 53h1M87 53h1M103 53h2M116 53h1M0 54h1M18 54h1M27 54h1M30 54h1M101 54h1M106 54h1M118 54h1M124 54h1M14 55h1M26 55h1M83 55h1M91 55h1M114 55h1M120 55h1M123 55h1M11 56h1M25 56h1M29 56h1M85 56h1M87 56h1M106 56h1M115 56h1M122 56h1M5 57h1M9 57h1M0 58h1M12 58h1M26 58h1M29 58h1M92 58h1M97 58h1M106 58h1M118 58h2M122 58h1M2 59h1M19 59h1M83 59h1M87 59h2M91 59h1M106 59h1M111 59h1M4 60h1M19 60h1M25 60h1M43 60h1M96 60h1M98 60h1M115 60h2M123 60h1M29 61h1M85 61h1M96 61h1M0 62h1M87 62h1M92 62h1M109 62h1M120 62h1M2 63h1M26 63h1M29 63h1M97 63h2M110 63h2M98 64h1M115 64h1M123 64h1M3 65h1M14 65h1M23 65h1M37 65h3M105 65h1M111 65h1M18 66h1M32 66h1M93 66h1M102 66h1M109 66h1M123 66h2M103 67h1M110 67h1M122 67h1M19 69h1M23 69h1M44 69h1M100 69h2M118 69h2M12 70h1M15 70h1M20 70h1M38 70h1M82 70h1M90 70h1M105 70h1M124 70h1M7 71h2M11 71h1M25 71h1M94 71h2M103 71h1M119 71h1M22 72h2M34 72h1M36 72h1M75 72h1M129 72h1M0 73h1M3 73h1M28 73h1M99 73h1M102 73h1M104 73h1M119 73h1M122 73h1M124 73h1M2 74h1M11 74h1M23 74h1M25 74h1M29 74h1M80 74h1M85 74h1M91 74h2M114 74h1M116 74h1M121 74h1M123 74h1M3 75h1M72 75h1M146 75h1M157 75h1M25 76h1M29 76h1M43 76h1M87 76h1M92 76h1M104 76h1M120 76h1M12 77h1M100 77h2M103 77h1M116 77h1M124 77h1M19 78h1M81 78h1M98 78h1M110 78h1M118 78h1M14 79h1M22 79h1M31 79h1M44 79h1M91 79h1M104 79h1M117 79h1M147 79h1M74 80h1M78 81h1M128 81h1M140 81h1M144 81h1M150 81h1M153 81h2M46 82h1M70 82h1M128 82h1M47 83h1M50 83h2M53 83h1M55 83h1M59 83h1M107 83h1M128 83h1M131 83h1M140 83h1M142 83h1M157 83h1M11 84h1M24 84h1M26 84h1M43 84h1M46 85h1M48 85h1M52 85h1M56 85h1M61 85h1M74 85h1M155 85h1M47 87h1M53 87h1M56 87h1M59 87h1M62 87h1M76 87h1M131 87h1M152 87h2M158 87h1M47 88h1M51 88h1M59 88h1M131 88h1M138 88h1M142 88h2M19 89h2M24 89h1M43 89h1M149 89h1M151 89h1M46 90h1M70 90h1M45 91h1M49 91h1M55 91h1M59 91h1M74 91h1M79 91h1M144 91h1M153 91h1M49 92h1M51 92h1M58 92h1M62 92h1M74 92h1M76 92h1M137 92h1M142 92h1M45 93h1M49 93h1M66 93h1M128 93h1M142 93h1M145 93h1M158 93h1M71 94h1M139 94h1M50 95h1M71 95h1M60 96h2M153 96h1M157 96h1M49 97h1M58 97h1M63 97h1M48 98h1M60 98h1M63 98h2M78 98h1M126 98h1M153 98h1M158 98h1M73 99h1M45 100h1M69 100h1M77 100h1M139 100h1M144 100h1M45 101h1M54 101h1M69 101h1M77 101h1M142 101h1M46 102h1M66 102h1M73 102h1M50 103h1M53 103h1M67 103h1M71 103h1M77 103h1M125 103h1M139 103h1M51 104h1M53 104h1M73 104h1M76 104h1M79 104h1M142 104h1M144 104h1M153 104h1M65 105h1M70 105h1M144 105h1M54 106h1M56 106h1M58 106h2M139 106h1M144 106h1M11 107h1M19 107h2M83 107h1M49 108h1M129 108h1M134 108h1M142 108h1M153 108h1M51 109h1M62 109h1M66 109h1M153 109h1M63 110h1M67 110h1M78 110h1M145 110h1M46 111h1M51 111h1M59 111h1M63 111h1M65 111h1M29 112h1M43 112h1M136 112h1M25 113h1M136 113h1M148 113h1M51 114h1M55 114h1M74 114h1M126 114h1M129 114h1M145 114h1M56 115h1M60 115h1M64 115h1M132 115h1M134 115h1M141 115h1M143 115h1M150 115h1M154 115h1M156 115h2M53 116h1M60 116h1M74 116h1M77 116h1M129 116h1M139 116h2M153 116h1M45 117h1M79 117h1M142 117h1M158 117h1M54 118h1M58 118h1M69 118h1M78 118h1M144 118h1M153 118h1M45 119h1M58 119h1M69 119h1M71 119h1M73 119h1M144 119h1M5 120h1M52 120h1M55 120h1M62 120h1M76 120h1M137 120h2M157 120h1M5 121h1M52 121h1M74 121h1M138 121h1M145 121h1M157 121h1M47 122h1M56 122h1M58 122h1M67 122h1M73 122h1M128 122h1M134 122h1M142 122h1M158 122h1M49 123h1M52 123h1M55 123h1M60 123h1M64 123h1M66 123h1M74 123h1M139 123h1M157 123h1M54 124h1M66 124h1M70 124h1M73 124h1M77 124h1M19 125h1M24 125h1M103 125h1M20 126h1M44 126h1M98 126h1M114 126h1M26 127h1M81 128h3M93 128h1M122 128h1M29 129h1M72 129h1M108 129h1M114 129h1M116 129h1M11 131h1M26 131h1M83 131h1M87 131h2M115 132h1M4 133h1M25 133h1M2 134h1M4 134h1M26 134h1M43 134h1M108 134h1M115 134h1M122 134h1M0 135h1M11 135h1M112 136h2M24 137h1M43 137h1M92 137h1M120 137h1M12 138h1M24 138h1M26 138h1M43 138h1M88 138h1M120 138h2M2 139h1M6 139h1M8 139h1M31 139h1M94 139h1M100 139h1M103 139h1M106 139h1M116 139h1M123 139h1M19 140h1M26 140h1M81 140h1M83 140h1M116 140h1M115 141h1M7 142h1M11 142h2M23 142h1M27 142h1M83 142h1M88 142h1M92 142h2M101 142h1M104 142h1M108 142h1M117 142h1M122 142h1M0 143h1M19 143h2M88 143h1M115 143h1M3 144h1M12 144h1M32 144h1M42 144h1M81 144h1M91 144h1M100 144h1M104 144h3M118 144h2M147 144h1M12 145h1M93 145h1M110 145h1M114 145h1M121 145h1M7 146h1M15 146h1M21 146h2M41 146h1M75 146h1M147 146h1M41 147h1M79 147h1M144 147h1M146 147h1M11 148h1M43 148h1M113 148h1M5 149h1M11 149h1M24 149h2M89 149h1M26 150h1M81 150h1M115 150h1M24 151h1M89 151h1M12 152h1M29 152h1M38 152h1M87 152h1M1 153h1M7 153h1M17 153h1M29 153h1M81 153h1M87 153h1M91 153h1M96 153h1M98 153h1M104 153h1M108 153h2M116 153h1M118 153h1M5 154h1M19 154h1M81 154h1M115 154h1M20 155h1M85 155h1M19 156h1M24 156h1M115 156h1M0 157h1M12 157h2M20 157h1M37 157h1M75 157h1M83 157h1M96 157h1M115 157h1M120 157h2M123 157h1M4 158h1M25 158h2M29 158h1M87 158h1M93 158h1M98 158h1M117 158h1M122 158h1M9 159h1"/>
<path stroke="#00f7ff" stroke-width="1" d="M51 0h1M53 0h1M61 0h1M65 0h1M112 0h1M144 0h1M148 0h1M158 0h1M46 1h1M79 1h1M139 1h1M144 1h1M45 2h1M51 2h1M76 2h1M107 2h1M125 2h1M129 2h1M157 2h1M5 3h1M46 3h1M77 3h1M107 3h1M19 4h1M29 4h1M81 4h1M125 4h1M127 4h1M132 4h1M135 4h1M141 4h1M154 4h1M3 5h1M11 5h1M29 5h1M86 5h1M98 5h1M115 5h1M118 5h2M54 6h1M69 6h1M77 6h1M137 7h1M144 7h1M58 8h2M70 8h1M73 8h1M107 8h1M131 8h1M156 8h2M27 9h1M48 9h1M98 9h1M135 9h1M141 9h1M46 10h1M77 10h1M144 10h1M153 10h1M5 11h1M50 11h4M62 11h1M67 11h1M78 11h1M112 11h1M127 11h2M130 11h1M151 11h1M159 11h1M66 12h1M73 12h1M128 12h2M134 12h1M137 12h1M155 12h1M54 13h1M70 13h1M75 13h1M53 14h1M59 14h1M84 14h1M107 14h1M131 14h1M62 15h2M134 15h1M152 15h2M75 16h1M51 17h1M70 17h1M69 18h1M73 18h1M77 18h1M128 18h1M145 18h1M153 18h1M4 19h1M56 19h1M64 19h1M67 19h1M71 19h1M115 19h1M131 19h3M150 19h2M62 20h2M129 20h1M131 20h1M137 20h1M142 20h1M54 21h1M65 21h1M72 21h1M77 21h1M54 22h1M65 22h1M142 22h1M144 23h1M153 23h1M56 24h2M60 24h3M67 24h1M71 24h1M126 24h2M129 24h1M134 24h1M139 24h2M148 24h1M154 24h1M159 24h1M47 25h1M61 25h1M84 25h1M120 25h1M128 25h1M130 25h1M132 25h1M136 25h2M143 25h1M145 25h1M154 25h1M48 26h1M50 26h1M53 26h1M57 26h1M89 26h1M130 26h1M132 26h1M135 26h1M9 27h1M46 27h1M73 27h1M79 27h1M129 27h1M139 27h1M46 28h1M70 28h1M77 28h1M142 28h1M4 29h2M51 29h1M55 29h1M59 29h1M78 29h1M126 29h2M137 29h2M154 29h1M157 29h1M69 30h1M139 30h1M146 30h1M153 30h1M157 30h1M70 31h1M76 31h1M139 32h1M46 34h1M69 34h2M75 34h1M70 35h1M139 35h1M153 35h1M59 37h1M70 37h1M73 37h1M89 37h1M107 37h1M145 37h1M54 38h1M75 38h1M157 38h1M69 39h1M72 42h1M153 42h1M49 43h1M52 43h1M62 43h1M66 43h1M131 43h1M133 43h1M136 43h1M140 43h1M150 43h1M152 43h1M46 44h1M89 44h1M139 44h2M142 44h1M152 44h1M157 44h1M2 45h1M85 45h1M94 45h1M97 45h1M108 45h1M116 45h1M118 45h1M120 45h1M1 46h1M3 46h1M10 46h1M27 46h2M34 46h1M44 46h1M86 46h1M117 46h1M25 47h1M92 47h1M106 47h1M9 48h1M26 48h1M81 48h1M88 48h1M93 48h1M106 48h1M121 48h1M43 49h1M75 49h1M82 49h1M94 49h1M96 49h1M111 49h1M117 49h2M121 49h1M11 50h1M26 50h1M87 50h1M98 50h1M108 50h1M120 50h1M122 50h1M0 51h1M2 51h1M11 51h1M17 51h1M29 51h1M94 51h2M99 51h1M117 51h1M11 52h1M43 52h1M83 52h1M95 52h1M116 52h1M118 52h1M0 53h1M11 53h1M14 53h1M26 53h1M100 53h1M102 53h1M114 53h1M117 53h2M6 54h1M13 54h1M21 54h2M38 54h1M72 54h1M94 54h1M29 55h1M82 55h1M88 55h1M94 55h1M97 55h1M100 55h1M103 55h1M116 55h2M122 55h1M19 56h1M24 56h1M83 56h1M88 56h1M96 56h1M98 56h1M100 56h1M116 56h3M24 57h1M26 57h1M98 57h1M115 57h1M120 57h1M123 57h1M8 58h1M94 58h1M96 58h1M99 58h1M105 58h1M110 58h1M117 58h1M123 58h2M8 59h1M14 59h1M29 59h1M37 59h1M80 59h1M92 59h1M95 59h1M100 59h1M103 59h1M110 59h1M116 59h1M122 59h2M24 60h1M85 60h1M88 60h1M91 60h1M0 61h1M24 61h2M86 61h1M110 61h1M116 61h1M11 62h1M15 62h1M20 62h1M24 62h1M43 62h1M81 62h1M85 62h1M91 62h1M94 62h2M99 62h1M114 62h1M118 62h1M123 62h1M15 63h1M20 63h1M81 63h1M85 63h1M99 63h1M105 63h1M109 63h1M114 63h1M120 63h2M124 63h1M19 64h1M83 64h1M91 64h1M109 64h1M0 65h1M21 65h2M80 65h1M97 65h1M12 66h1M43 66h1M82 66h1M119 66h1M11 67h1M19 67h1M24 67h1M83 67h1M85 67h1M93 67h1M96 67h1M121 67h1M93 68h1M98 68h1M115 68h1M6 69h1M18 69h1M30 69h1M34 69h1M39 69h1M95 69h2M8 70h1M13 70h1M17 70h1M28 70h1M31 70h1M34 70h2M37 70h1M80 70h1M96 70h1M102 70h1M104 70h1M19 71h1M24 71h1M91 71h1M108 71h1M120 71h1M21 72h1M42 72h1M54 72h1M142 72h1M146 72h1M8 73h1M12 73h1M18 73h1M27 73h1M37 73h1M80 73h1M88 74h1M94 74h2M122 74h1M13 75h1M16 75h1M34 75h1M38 75h1M49 75h1M139 75h1M2 76h1M31 76h1M93 76h1M108 76h1M110 76h2M116 76h1M122 76h1M3 77h1M6 77h1M10 77h1M18 77h1M21 77h1M28 77h1M86 77h1M96 77h1M99 77h1M122 77h1M11 78h1M29 78h1M83 78h1M85 78h1M87 78h1M93 78h1M96 78h1M117 78h1M119 78h2M1 79h1M27 79h1M82 79h1M86 79h1M90 79h1M97 79h1M99 79h1M119 79h1M124 79h1M59 80h1M65 80h1M70 80h1M73 80h1M146 80h1M157 80h1M4 81h1M48 81h1M62 81h2M84 81h1M136 81h1M152 81h1M49 82h1M55 82h1M66 82h1M79 82h1M142 82h1M52 83h1M56 83h1M64 83h1M67 83h1M78 83h1M125 83h1M158 83h1M14 84h1M25 84h1M81 84h1M45 85h1M60 85h1M62 85h2M67 85h1M78 85h1M107 85h1M128 85h1M134 85h1M139 85h1M148 85h1M152 85h1M158 85h1M5 86h1M46 86h1M61 86h1M77 86h1M79 86h1M129 86h1M50 87h1M78 87h1M112 87h1M128 87h1M134 87h1M137 87h3M159 87h1M48 88h1M55 88h2M60 88h1M74 88h1M107 88h1M134 88h1M137 88h1M140 88h1M158 88h2M26 89h1M37 89h1M44 89h1M127 89h1M141 89h1M79 90h1M60 91h1M62 91h1M64 91h1M71 91h1M143 91h1M152 91h1M157 91h1M47 92h1M59 92h1M140 92h1M48 93h1M67 93h2M76 93h1M78 93h1M129 93h1M132 93h1M139 93h1M153 93h1M45 94h1M49 94h1M51 94h1M54 94h2M58 94h1M62 94h1M74 94h1M107 94h1M134 94h1M138 94h1M140 94h1M142 94h1M144 94h1M51 95h2M59 95h1M62 95h1M69 95h1M74 95h1M145 95h1M49 96h1M56 96h1M58 96h1M67 96h1M69 96h2M77 96h2M45 97h1M55 97h1M65 97h1M79 97h1M134 97h1M5 98h1M9 98h1M50 98h1M56 98h2M68 98h1M113 98h1M127 98h1M133 98h1M141 98h1M151 98h1M155 98h1M51 99h1M58 99h1M62 99h2M77 99h1M79 99h1M128 99h2M134 99h1M144 99h1M53 100h1M55 100h2M59 100h1M153 100h1M156 100h1M139 101h1M153 101h1M53 102h1M70 102h1M128 102h1M132 102h1M145 102h1M152 102h1M157 102h1M55 103h1M59 103h1M107 103h1M129 103h1M134 103h1M157 103h2M70 104h1M157 104h1M58 105h1M63 105h1M137 105h1M142 105h1M47 106h2M112 106h1M134 106h2M138 106h1M142 106h1M156 106h1M158 106h1M2 107h2M8 107h1M14 107h1M37 107h1M85 107h1M88 107h1M94 107h1M103 107h1M45 108h1M50 108h1M71 108h1M76 108h1M130 108h1M144 108h1M63 109h2M58 110h2M61 110h1M76 110h1M125 110h1M137 110h1M156 110h1M158 110h1M49 111h1M76 111h1M139 111h1M142 111h1M153 111h1M0 112h1M11 112h1M87 112h1M106 112h1M121 112h1M98 113h1M115 113h1M141 113h1M150 113h1M155 113h1M53 114h1M62 114h2M130 114h1M148 114h1M155 114h1M5 115h1M19 115h1M57 115h1M68 115h1M113 115h1M130 115h1M140 115h1M149 115h1M151 115h1M45 116h1M52 116h1M55 116h2M59 116h1M61 116h1M76 116h1M126 116h1M134 116h1M142 116h1M46 117h1M49 117h1M51 117h1M53 117h1M55 117h2M58 117h1M78 117h1M145 117h1M5 118h1M45 118h1M49 118h1M52 118h2M56 118h1M62 118h1M142 118h1M5 119h1M66 119h1M78 119h2M25 120h1M45 120h1M50 120h1M57 120h1M63 120h1M71 120h1M78 120h1M125 120h1M143 120h1M48 121h2M63 121h1M67 121h1M112 121h1M130 121h2M143 121h1M156 121h1M50 122h1M55 122h1M59 122h1M74 122h1M76 122h2M125 122h1M139 122h1M153 122h1M57 123h3M62 123h1M144 123h2M152 123h1M158 123h2M58 124h1M63 124h1M79 124h1M134 124h1M144 124h1M2 125h1M4 125h1M83 125h1M110 125h1M120 125h1M122 125h1M24 126h1M29 126h1M116 126h1M4 127h1M11 127h1M24 127h1M29 127h1M89 127h1M98 127h1M11 128h2M18 128h1M25 128h1M85 128h1M87 128h1M99 128h1M102 128h1M2 129h1M12 129h1M20 129h1M24 129h1M27 129h1M86 129h1M93 129h1M99 129h1M103 129h1M11 130h1M25 130h2M108 130h1M114 130h2M121 130h1M8 131h1M14 131h1M19 131h2M43 131h1M121 131h1M4 132h1M19 132h1M25 132h2M93 132h1M102 132h1M19 133h1M43 133h1M98 133h1M12 134h1M15 134h1M24 134h1M85 134h1M87 134h2M94 134h1M97 134h1M99 134h1M103 134h1M106 134h1M116 134h1M124 134h1M4 135h1M9 135h1M26 135h1M106 135h1M25 136h1M43 136h1M81 136h1M7 137h1M12 137h1M20 137h1M25 137h1M29 137h1M87 137h2M105 137h1M110 137h1M29 138h1M87 138h1M94 138h1M106 138h1M1 139h1M24 139h1M27 139h1M30 139h1M32 139h1M35 139h1M44 139h1M75 139h1M85 139h1M87 139h1M93 139h1M101 139h1M111 139h1M122 139h1M147 139h1M24 140h1M43 140h2M88 140h1M92 140h1M94 140h1M115 140h1M4 141h1M9 141h1M89 141h1M98 141h1M113 141h1M20 142h1M22 142h1M28 142h1M44 142h1M72 142h1M82 142h1M94 142h1M105 142h2M111 142h1M116 142h1M118 142h1M25 143h1M91 143h1M120 143h2M0 144h2M7 144h1M10 144h1M23 144h1M94 144h1M99 144h1M108 144h1M123 144h2M18 145h1M25 145h1M37 145h1M95 145h1M102 145h1M117 145h1M123 145h1M30 146h1M72 146h1M80 146h1M139 147h1M0 148h1M24 148h1M85 148h1M114 148h1M115 149h1M19 150h1M43 150h1M113 150h1M11 151h1M19 151h1M98 151h1M115 151h1M15 152h1M43 152h2M81 152h1M85 152h1M91 152h1M102 152h1M123 152h1M10 153h1M15 153h1M18 153h1M23 153h1M30 153h1M35 153h1M42 153h1M93 153h1M100 153h2M111 153h1M122 153h1M4 154h1M24 154h2M29 154h1M12 155h1M98 155h1M113 155h2M8 156h1M100 156h1M106 156h1M110 156h1M121 156h1M2 157h1M8 157h1M29 157h2M38 157h1M44 157h1M80 157h1M91 157h1M102 157h3M0 158h1M83 158h1M85 158h1M88 158h1M103 158h1M106 158h1M110 158h1M123 158h1M11 159h1M24 159h1M87 159h2M123 159h1"/>
<path stroke="#07fff7" stroke-width="1" d="M4 0h1M9 0h1M69 0h1M76 0h1M107 0h1M128 0h1M130 0h1M138 0h1M54 1h1M47 2h1M55 2h1M58 2h1M71 2h1M84 2h1M112 2h2M126 2h1M156 2h1M158 2h1M66 3h1M129 3h1M139 3h1M0 4h1M64 4h1M130 4h1M10 5h1M12 5h1M22 5h2M43 5h1M141 5h1M51 6h1M73 6h1M79 6h1M128 6h2M54 7h1M57 7h1M62 7h1M70 7h1M74 7h1M77 7h1M46 8h1M53 8h1M55 8h1M66 8h1M79 8h1M112 8h1M126 8h1M128 8h1M134 8h1M152 8h2M0 9h1M12 9h1M14 9h1M20 9h1M25 9h1M60 9h1M87 9h1M127 9h1M130 9h1M5 10h1M54 10h1M65 10h1M73 10h1M79 10h1M139 10h1M19 11h1M43 11h1M89 11h1M133 11h1M138 11h1M140 11h1M143 11h1M155 11h1M5 12h1M9 12h1M45 12h1M59 12h2M63 12h2M76 12h1M107 12h1M112 12h1M131 12h1M136 12h1M143 12h1M148 12h2M153 13h1M9 14h1M50 14h1M58 14h1M63 14h1M71 14h1M113 14h1M132 14h1M134 14h2M137 14h2M142 14h1M148 14h1M69 15h1M128 15h1M142 15h1M144 15h1M147 16h1M56 17h1M58 17h1M69 17h1M71 17h1M139 17h1M142 17h1M65 18h1M131 18h1M152 18h1M11 19h1M113 19h1M127 19h1M135 19h2M149 19h1M159 19h1M9 20h1M45 20h1M52 20h1M55 20h2M58 20h1M61 20h1M65 20h2M112 20h1M125 20h1M128 20h1M148 20h1M154 20h1M158 20h1M5 22h1M49 22h1M73 22h1M152 22h1M5 23h1M46 23h1M55 23h1M70 23h1M73 23h1M112 23h1M125 23h1M137 23h1M143 23h1M50 24h1M53 24h1M74 24h1M76 24h1M103 24h1M131 24h1M141 24h1M150 24h1M158 24h1M9 25h1M63 25h2M125 25h1M127 25h1M140 25h2M151 25h1M155 25h2M56 26h1M59 26h1M67 26h2M78 26h1M107 26h1M112 26h2M136 26h1M148 26h1M151 26h2M45 27h1M49 27h1M51 27h1M58 27h1M63 27h1M71 27h1M137 27h1M145 27h1M152 27h1M157 27h1M153 28h1M158 28h1M49 29h1M89 29h1M133 29h1M140 29h1M145 29h1M150 29h2M159 29h1M46 30h1M63 30h1M70 30h1M73 30h1M140 30h1M144 30h2M54 31h1M69 31h1M77 31h1M126 31h1M128 31h1M137 31h1M144 31h1M153 31h1M46 32h1M70 32h1M79 32h1M128 32h1M158 32h1M146 33h1M79 34h1M142 34h1M144 34h1M73 35h1M77 35h1M75 36h1M63 37h1M74 37h1M77 37h1M129 37h1M134 37h1M139 37h1M156 37h1M55 38h1M73 38h1M79 38h1M107 38h1M135 38h1M158 38h1M77 39h1M139 39h1M146 39h1M72 40h1M75 40h1M147 40h1M72 41h1M65 42h1M79 42h1M107 42h1M137 42h1M139 42h1M145 42h1M5 43h1M11 43h1M50 43h1M61 43h1M67 43h2M78 43h1M113 43h1M127 43h1M155 43h1M158 43h1M56 44h1M62 44h2M70 44h1M113 44h1M129 44h1M137 44h1M12 45h1M20 45h1M27 45h1M86 45h2M95 45h2M99 45h1M102 45h1M104 45h1M106 45h1M8 46h1M23 46h1M30 46h1M32 46h1M2 47h1M81 47h1M103 47h1M117 47h1M123 47h1M87 48h1M94 48h1M97 48h1M108 48h1M114 48h1M22 49h1M27 49h1M29 49h1M85 49h3M99 49h1M109 49h1M114 49h1M116 49h1M14 50h1M24 50h1M43 50h1M85 50h1M90 50h1M104 50h1M121 50h1M123 50h1M6 51h1M27 51h1M91 51h1M101 51h1M106 51h1M116 51h1M118 51h1M123 51h1M20 52h1M87 52h2M100 52h1M106 52h1M108 52h2M117 52h1M8 53h1M24 53h1M82 53h1M91 53h1M101 53h1M124 53h1M1 54h1M7 54h1M10 54h1M31 54h1M92 54h1M147 54h1M2 55h1M8 55h1M20 55h1M23 55h1M38 55h1M72 55h1M75 55h1M85 55h1M90 55h1M92 55h1M99 55h1M102 55h1M108 55h1M17 56h1M20 56h1M26 56h1M44 56h1M81 56h1M90 56h1M110 56h1M7 57h1M83 57h1M85 57h1M111 57h1M2 58h1M14 58h1M17 58h1M20 58h1M27 58h1M91 58h1M93 58h1M111 58h1M12 59h1M26 59h1M82 59h1M94 59h1M98 59h1M104 59h1M117 59h1M9 60h1M12 60h1M83 60h1M103 60h1M114 60h1M20 61h1M43 61h1M83 61h1M88 61h1M92 61h1M99 61h2M106 61h1M120 61h1M122 61h1M7 62h1M44 62h1M97 62h1M103 62h1M111 62h1M116 62h1M121 62h2M12 63h1M14 63h1M25 63h1M27 63h1M30 63h1M37 63h1M44 63h1M91 63h1M101 63h2M106 63h1M119 63h1M122 63h1M4 64h1M12 64h1M25 64h1M88 64h1M93 64h1M111 64h1M116 64h1M120 64h1M10 65h1M18 65h1M20 65h1M42 65h1M104 65h1M146 65h1M3 66h1M8 66h1M20 66h1M92 66h1M100 66h2M104 66h1M116 66h1M26 67h1M43 67h1M87 67h1M98 67h1M114 67h1M26 68h1M43 68h1M81 68h1M87 68h1M0 69h1M15 69h1M17 69h1M31 69h1M90 69h1M97 69h1M124 69h1M147 69h1M7 70h1M23 70h1M30 70h1M32 70h1M44 70h1M108 70h1M2 71h1M14 71h1M17 71h1M27 71h1M80 71h1M82 71h1M85 71h1M104 71h1M106 71h1M40 72h2M55 72h1M139 72h1M144 72h1M6 73h1M10 73h1M22 73h2M30 73h1M35 73h1M38 73h1M105 73h1M7 74h1M24 74h1M37 74h1M90 74h1M96 74h2M103 74h1M111 74h1M119 74h1M124 74h1M36 75h1M40 75h1M55 75h1M79 75h1M142 75h1M0 76h1M12 76h1M24 76h1M80 76h2M86 76h1M88 76h1M91 76h1M100 76h1M103 76h1M106 76h1M114 76h1M119 76h1M7 77h1M31 77h1M35 77h1M37 77h1M39 77h1M80 77h1M90 77h1M26 78h1M43 78h1M114 78h1M116 78h1M121 78h1M6 79h1M8 79h1M10 79h1M32 79h1M34 79h1M38 79h1M42 79h1M75 79h1M80 79h1M101 79h1M71 80h1M76 80h2M79 80h1M140 80h1M153 80h1M47 81h1M56 81h1M68 81h1M76 81h1M107 81h1M112 81h1M137 81h2M145 81h1M148 81h1M156 81h1M53 82h1M59 82h1M71 82h1M157 82h1M57 83h1M60 83h2M129 83h1M134 83h1M137 83h1M152 83h1M154 83h2M2 84h1M103 84h1M115 84h1M121 84h3M49 85h2M55 85h1M57 85h1M71 85h1M125 85h2M129 85h1M45 86h1M49 86h1M76 86h1M9 87h1M45 87h1M48 87h2M52 87h1M67 87h2M129 87h1M133 87h1M145 87h1M149 87h1M52 88h1M61 88h1M64 88h1M76 88h1M150 88h1M11 89h1M29 89h1M106 89h1M115 89h1M50 90h1M55 90h2M69 90h1M74 90h1M77 90h1M144 90h1M51 91h1M53 91h1M58 91h1M63 91h1M76 91h1M134 91h1M148 91h1M54 92h2M61 92h1M66 92h1M125 92h1M143 92h1M152 92h1M156 92h1M58 93h1M64 93h1M107 93h1M130 93h2M135 93h1M152 93h1M154 93h1M157 93h1M48 94h1M59 94h1M135 94h1M137 94h1M145 94h1M152 94h1M157 94h1M45 95h1M128 95h1M132 95h1M139 95h1M149 95h1M159 95h1M45 96h1M74 96h1M134 96h1M142 96h1M48 97h1M62 97h1M69 97h1M74 97h1M129 97h1M137 97h1M157 97h1M159 97h1M59 98h1M67 98h1M107 98h1M112 98h1M130 98h1M138 98h1M140 98h1M148 98h1M45 99h1M49 99h1M55 99h1M61 99h1M139 99h1M142 99h1M157 99h1M52 100h1M61 100h1M66 100h1M76 100h1M112 100h1M143 100h1M157 100h1M51 101h1M53 101h1M63 101h1M66 101h1M79 101h1M138 101h1M144 101h1M157 101h1M45 102h1M55 102h1M63 102h1M137 102h1M139 102h1M24 103h1M47 103h1M60 103h1M62 103h1M74 103h1M76 103h1M84 103h1M112 103h1M128 103h1M131 103h1M155 103h1M45 104h1M50 104h1M59 104h1M65 104h2M71 104h1M125 104h1M134 104h1M139 104h1M73 105h1M129 105h1M134 105h1M45 106h1M51 106h2M61 106h1M63 106h1M71 106h1M76 106h1M89 106h1M107 106h1M129 106h1M137 106h1M145 106h1M153 106h1M155 106h1M0 107h1M12 107h1M26 107h1M38 107h1M42 107h1M81 107h1M93 107h1M98 107h1M106 107h1M114 107h1M48 108h1M52 108h1M55 108h1M70 108h1M138 108h1M158 108h2M49 109h1M52 109h1M129 109h1M131 109h1M142 109h1M150 109h1M56 110h1M131 110h1M138 110h1M150 110h1M152 110h1M154 110h1M57 111h2M62 111h1M64 111h1M74 111h1M138 111h1M145 111h1M152 111h1M157 111h1M2 112h1M8 112h1M12 112h1M20 112h1M23 112h1M26 112h1M81 112h1M98 112h1M100 112h1M103 112h1M116 112h1M2 113h1M14 113h1M19 113h1M26 113h1M43 113h2M125 113h1M48 114h2M60 114h1M67 114h1M76 114h1M78 114h1M107 114h1M125 114h1M131 114h1M134 114h1M140 114h1M142 114h1M158 114h1M84 115h1M89 115h1M126 115h1M49 116h1M51 116h1M62 116h1M64 116h1M66 116h1M78 116h1M112 116h1M137 116h1M47 117h1M52 117h1M59 117h1M125 117h1M128 117h1M139 117h1M152 117h1M51 118h1M154 118h1M63 119h1M74 119h1M76 119h1M128 119h1M139 119h1M148 119h1M155 119h1M61 120h1M64 120h1M126 120h1M134 120h1M50 121h1M62 121h1M78 121h1M84 121h1M134 121h1M149 121h1M155 121h1M159 121h1M61 122h3M84 122h1M140 122h1M143 122h1M148 122h1M157 122h1M159 122h1M47 123h1M50 123h2M84 123h1M125 123h1M137 123h2M142 123h1M150 123h1M53 124h1M69 124h1M74 124h1M142 124h1M153 124h1M20 125h1M23 125h1M25 125h1M85 125h1M92 125h1M104 125h1M113 125h2M117 125h1M123 125h1M2 126h1M8 126h1M31 126h1M85 126h1M115 126h1M120 126h1M9 127h1M19 127h1M25 127h1M43 127h1M0 128h1M6 128h1M8 128h1M15 128h1M20 128h1M31 128h2M95 128h1M103 128h1M117 128h1M119 128h1M3 129h1M6 129h1M37 129h1M44 129h1M83 129h1M85 129h1M87 129h1M97 129h1M105 129h2M109 129h1M146 129h1M0 130h1M4 130h1M9 130h1M93 130h1M98 130h1M12 131h1M18 131h1M24 131h1M93 131h1M103 131h1M109 131h2M114 131h1M147 131h1M14 132h1M95 132h1M11 133h1M29 133h1M87 133h1M8 134h1M14 134h1M37 134h1M83 134h1M91 134h1M96 134h1M104 134h2M114 134h1M120 134h2M14 135h1M19 135h1M38 135h1M93 135h2M12 136h1M19 136h1M26 136h1M14 137h1M23 137h1M27 137h1M31 137h1M42 137h1M44 137h1M81 137h1M83 137h1M94 137h1M97 137h1M102 137h1M106 137h1M116 137h1M123 137h1M0 138h1M11 138h1M14 138h1M81 138h1M98 138h1M101 138h1M108 138h1M110 138h2M123 138h1M3 139h1M10 139h1M17 139h1M37 139h1M39 139h1M42 139h1M72 139h1M95 139h1M99 139h1M102 139h1M104 139h1M117 139h1M119 139h1M11 140h1M25 140h1M29 140h2M80 140h1M98 140h1M114 140h1M122 140h1M5 141h1M24 141h2M14 142h2M17 142h1M34 142h1M75 142h1M96 142h1M99 142h1M109 142h1M114 142h1M123 142h2M11 143h2M23 143h1M92 143h1M100 143h1M122 143h1M146 143h1M15 144h1M30 144h2M34 144h1M72 144h1M90 144h1M101 144h1M27 145h1M29 145h2M42 145h1M81 145h1M87 145h1M94 145h1M106 145h1M111 145h1M33 146h1M39 146h1M65 146h1M129 146h1M143 146h1M152 146h1M16 147h1M40 147h1M54 147h1M69 147h1M131 147h1M12 148h1M14 148h1M20 148h1M26 148h1M81 148h1M91 148h1M98 148h1M119 148h1M122 148h1M12 149h1M19 149h1M87 149h1M95 149h1M121 149h1M24 150h1M29 150h1M88 150h1M109 150h2M123 150h1M25 151h2M29 151h1M8 152h1M18 152h1M22 152h1M26 152h2M83 152h1M92 152h3M110 152h2M117 152h1M146 152h1M8 153h1M13 153h1M28 153h1M31 153h1M80 153h1M106 153h1M124 153h1M20 154h1M83 154h1M93 154h1M110 154h1M118 154h1M11 155h1M25 155h1M43 155h1M83 155h1M103 155h1M106 155h1M119 155h1M121 155h1M2 156h1M25 156h1M37 156h1M81 156h1M92 156h1M27 157h1M82 157h1M93 157h2M97 157h1M99 157h3M111 157h1M122 157h1M2 158h1M20 158h1M24 158h1M28 158h1M32 158h1M38 158h1M43 158h1M108 158h1M114 158h1M19 159h1M29 159h1M95 159h1M97 159h1M108 159h1M121 159h2"/>
<path stroke="#17ffe7" stroke-width="1" d="M45 0h1M49 0h1M55 0h1M63 0h1M77 0h1M84 0h1M113 0h1M129 0h1M132 0h3M137 0h1M139 0h2M149 0h1M152 0h1M155 0h1M5 1h1M58 1h1M67 1h1M69 1h1M134 1h1M142 1h2M49 2h1M56 2h1M62 2h1M128 2h1M137 2h1M143 2h1M159 2h1M62 3h1M69 3h1M74 3h1M79 3h1M84 3h1M128 3h1M138 3h1M11 4h1M24 4h1M47 4h1M115 4h1M151 4h1M1 5h1M7 5h2M81 5h1M85 5h1M87 5h1M93 5h1M103 5h1M108 5h2M117 5h1M62 6h1M65 6h2M70 6h1M74 6h1M76 6h1M84 6h1M133 6h2M142 6h1M145 6h1M153 6h1M5 7h1M48 7h1M73 7h1M134 7h1M5 8h1M52 8h1M61 8h1M132 8h1M143 8h1M159 8h1M71 9h1M81 9h1M92 9h1M96 9h1M110 9h1M115 9h1M123 9h1M138 10h1M157 10h1M4 11h1M47 11h2M60 11h1M156 11h1M49 12h2M61 12h1M67 12h1M69 12h1M71 12h1M78 12h1M113 12h1M126 12h1M132 12h1M151 12h1M154 12h1M77 13h1M128 13h1M131 13h1M144 13h1M45 14h1M48 14h2M51 14h1M56 14h1M62 14h1M64 14h1M74 14h1M78 14h1M112 14h1M125 14h2M133 14h1M150 14h1M154 14h3M158 14h1M53 15h1M65 15h2M125 15h1M139 15h1M157 15h1M73 17h1M77 17h1M79 17h1M107 17h1M140 17h1M159 17h1M19 18h1M55 18h2M63 18h1M70 18h1M134 18h1M142 18h1M18 19h1M26 19h1M43 19h1M50 19h1M141 19h1M25 20h1M76 20h2M138 20h1M140 20h1M150 20h1M152 20h1M159 20h1M46 21h1M69 21h1M73 21h1M79 21h1M144 21h1M69 22h1M129 22h1M139 22h1M143 22h2M156 22h2M63 23h1M130 23h1M139 23h1M145 23h1M4 24h1M43 24h1M52 24h1M78 24h1M115 24h1M133 24h1M135 24h2M20 25h1M43 25h1M67 25h1M115 25h1M135 25h1M148 25h1M150 25h1M19 26h1M60 26h1M64 26h1M141 26h1M155 26h1M56 27h1M76 27h2M84 27h1M89 27h1M107 27h1M128 27h1M131 27h1M134 27h1M153 27h1M158 27h1M71 28h1M107 28h1M112 28h1M126 28h1M131 28h1M140 28h1M144 28h2M47 29h1M52 29h1M60 29h1M64 29h1M67 29h1M130 29h2M141 29h1M149 29h1M155 29h2M61 30h1M66 30h1M128 30h2M154 30h1M159 30h1M59 31h1M63 31h1M66 31h1M78 31h1M107 31h1M127 31h1M152 31h1M156 31h1M156 32h1M54 33h1M65 33h1M59 34h1M62 34h1M65 34h1M139 34h1M153 34h1M157 34h1M46 35h1M54 35h1M128 35h1M142 35h1M144 35h1M63 36h1M73 36h1M146 36h1M157 36h1M45 37h1M66 37h2M137 37h1M144 37h1M151 37h1M158 37h1M46 38h1M51 38h1M69 38h1M71 38h1M84 38h1M112 38h1M134 38h1M54 39h1M73 39h1M144 39h1M153 39h1M65 40h1M73 40h1M146 40h1M46 42h1M73 42h1M156 42h1M19 43h1M24 43h2M64 43h1M125 43h1M154 43h1M45 44h1M49 44h1M52 44h1M58 44h1M71 44h1M74 44h1M138 44h1M158 44h1M0 45h1M14 45h1M37 45h1M44 45h1M90 45h1M124 45h1M21 46h1M35 46h1M38 46h1M42 46h1M72 46h1M105 46h1M147 46h1M4 47h1M11 47h1M29 47h1M82 47h1M95 47h1M105 47h1M108 47h1M110 47h1M120 47h2M7 48h1M11 48h1M14 48h1M96 48h1M111 48h1M116 48h1M120 48h1M0 49h1M2 49h1M12 49h1M14 49h1M44 49h1M90 49h1M95 49h1M103 49h1M12 50h1M19 50h1M100 50h1M105 50h2M109 50h1M114 50h1M117 50h2M14 51h1M38 51h1M72 51h1M82 51h1M100 51h1M102 51h1M8 52h1M24 52h1M29 52h1M44 52h1M93 52h2M103 52h1M110 52h1M114 52h1M15 53h1M85 53h1M88 53h1M95 53h1M105 53h1M111 53h1M121 53h1M33 54h1M35 54h1M39 54h1M75 54h1M0 55h1M18 55h1M80 55h1M86 55h1M96 55h1M104 55h2M110 55h1M118 55h1M2 56h1M14 56h1M18 56h1M27 56h1M80 56h1M91 56h2M94 56h2M97 56h1M105 56h1M123 56h1M88 57h1M92 57h1M96 57h1M103 57h1M106 57h1M110 57h1M122 57h1M1 58h1M44 58h1M82 58h1M101 58h1M109 58h1M31 59h1M34 59h1M85 59h1M90 59h1M96 59h1M105 59h1M108 59h1M119 59h1M11 60h1M26 60h1M29 60h1M87 60h1M95 60h1M102 60h1M117 60h1M120 60h1M122 60h1M8 61h1M12 61h1M30 61h1M95 61h1M97 61h1M105 61h1M114 61h1M118 61h1M124 61h1M2 62h2M6 62h1M14 62h1M34 62h1M82 62h1M86 62h1M96 62h1M101 62h1M104 62h2M110 62h1M119 62h1M124 62h1M0 63h1M18 63h1M23 63h1M31 63h1M36 63h1M92 63h1M94 63h2M100 63h1M147 63h1M14 64h1M26 64h1M29 64h1M43 64h1M85 64h1M95 64h1M99 64h1M106 64h1M108 64h1M110 64h1M114 64h1M6 65h1M15 65h1M33 65h2M40 65h1M72 65h1M6 66h1M15 66h1M30 66h2M37 66h1M86 66h1M91 66h1M105 66h1M111 66h1M122 66h1M1 67h1M12 67h1M25 67h1M29 67h1M37 67h1M91 67h2M94 67h1M104 67h1M117 67h4M123 67h1M85 68h1M88 68h1M110 68h1M117 68h1M123 68h1M1 69h1M3 69h1M12 69h1M21 69h2M38 69h1M105 69h1M108 69h1M6 70h1M18 70h1M109 70h1M9 71h1M12 71h1M28 71h1M38 71h1M44 71h1M86 71h1M96 71h1M100 71h1M102 71h1M114 71h1M147 71h1M46 72h1M51 72h1M65 72h1M77 72h1M153 72h1M7 73h1M17 73h1M21 73h1M36 73h1M39 73h2M42 73h1M147 73h1M3 74h1M6 74h1M14 74h1M44 74h1M82 74h1M93 74h1M105 74h1M108 74h1M54 75h1M153 75h1M6 76h1M20 76h1M27 76h1M90 76h1M102 76h1M118 76h1M123 76h1M0 77h1M13 77h1M17 77h1M20 77h1M27 77h1M72 77h1M12 78h1M14 78h1M24 78h1M31 78h1M90 78h1M92 78h1M104 78h1M106 78h1M108 78h1M3 79h1M17 79h1M21 79h1M55 80h2M5 81h1M9 81h1M131 81h1M133 81h1M149 81h1M158 81h1M47 82h1M51 82h1M58 82h1M62 82h1M74 82h1M138 82h1M140 82h1M143 82h2M153 82h1M89 83h1M130 83h1M138 83h1M143 83h1M148 83h1M159 83h1M0 84h1M3 84h1M6 84h1M27 84h1M38 84h1M87 84h1M98 84h1M105 84h1M5 85h1M53 85h1M59 85h1M64 85h1M68 85h1M130 85h1M132 85h2M136 85h2M145 85h1M154 85h1M157 85h1M55 86h1M62 86h1M66 86h1M71 86h1M107 86h1M139 86h1M5 87h1M60 87h1M84 87h1M107 87h1M150 87h2M53 88h1M57 88h1M68 88h1M112 88h2M125 88h1M127 88h1M129 88h1M133 88h1M145 88h1M155 88h3M27 89h1M83 89h1M93 89h1M98 89h1M45 90h1M49 90h1M59 90h1M76 90h1M78 90h1M126 90h1M134 90h1M145 90h1M157 90h1M56 91h1M66 91h2M128 91h1M140 91h1M145 91h1M9 92h1M56 92h2M63 92h1M67 92h1M78 92h1M128 92h2M132 92h1M134 92h1M150 92h1M158 92h1M5 93h1M52 93h1M74 93h1M89 93h1M125 93h3M137 93h1M141 93h1M148 93h1M155 93h2M52 94h1M56 94h1M63 94h1M67 94h1M125 94h1M150 94h1M158 94h2M47 95h1M49 95h1M53 95h1M56 95h1M60 95h2M63 95h2M130 95h1M140 95h1M142 95h1M157 95h1M9 96h1M48 96h1M55 96h1M57 96h1M59 96h1M62 96h1M71 96h1M129 96h1M139 96h1M143 96h1M152 96h1M158 96h1M56 97h1M61 97h1M112 97h1M142 97h1M84 98h1M89 98h1M136 98h1M149 98h1M64 99h1M138 99h1M50 100h2M63 100h1M71 100h1M107 100h1M131 100h1M134 100h1M142 100h1M145 100h1M148 100h1M150 100h1M58 101h1M62 101h1M51 102h1M60 102h1M71 102h1M76 102h1M126 102h1M142 102h2M153 102h1M5 103h1M49 103h1M52 103h1M57 103h1M126 103h1M130 103h1M136 103h3M140 103h1M143 103h1M145 103h1M149 103h1M55 104h1M62 104h1M67 104h1M78 104h1M128 104h1M131 104h1M137 104h1M152 104h1M46 105h2M50 105h1M53 105h1M55 105h2M59 105h1M61 105h2M66 105h1M69 105h1M74 105h1M84 105h1M130 105h1M50 106h1M57 106h1M64 106h1M78 106h1M131 106h2M140 106h1M143 106h1M17 107h1M27 107h2M31 107h1M86 107h2M100 107h1M117 107h1M120 107h1M123 107h1M5 108h1M47 108h1M59 108h1M64 108h1M69 108h1M74 108h1M78 108h1M125 108h1M152 108h1M155 108h1M5 109h1M50 109h1M58 109h1M70 109h1M128 109h1M144 109h1M152 109h1M156 109h1M9 110h1M47 110h1M52 110h1M55 110h1M57 110h1M62 110h1M64 110h1M68 110h1M113 110h1M130 110h1M136 110h1M157 110h1M159 110h1M48 111h1M53 111h1M66 111h1M125 111h1M129 111h1M132 111h1M137 111h1M158 111h1M14 112h1M28 112h1M38 112h1M88 112h1M97 112h1M123 112h1M0 113h1M12 113h1M88 113h1M110 113h1M117 113h1M50 114h1M52 114h1M61 114h1M64 114h1M71 114h1M127 114h1M138 114h1M149 114h1M156 114h2M4 115h1M9 115h1M24 115h2M48 116h1M125 116h1M135 116h1M155 116h1M5 117h1M50 117h1M60 117h1M67 117h2M107 117h1M113 117h1M130 117h1M138 117h1M143 117h1M50 118h1M55 118h1M61 118h1M67 118h1M76 118h1M126 118h4M134 118h1M143 118h1M145 118h1M152 118h1M158 118h1M59 119h1M62 119h1M67 119h1M126 119h1M138 119h1M140 119h1M145 119h1M150 119h1M153 119h1M157 119h3M47 120h2M60 120h1M67 120h1M107 120h1M131 120h2M140 120h1M148 120h3M156 120h1M47 121h1M53 121h1M137 121h1M158 121h1M57 122h1M60 122h1M66 122h1M129 122h1M137 122h1M152 122h1M156 122h1M9 123h1M56 123h1M67 123h2M76 123h1M107 123h1M112 123h1M129 123h2M132 123h1M148 123h1M154 123h1M156 123h1M45 124h1M61 124h2M156 124h1M14 125h2M43 125h1M88 125h1M93 125h2M108 125h1M111 125h1M116 125h1M12 126h1M14 126h1M28 126h1M90 126h1M93 126h1M102 126h2M118 126h2M31 127h1M88 127h1M93 127h1M114 127h1M118 127h1M2 128h2M13 128h1M27 128h1M30 128h1M35 128h1M91 128h2M104 128h1M109 128h1M118 128h1M0 129h1M22 129h1M30 129h1M88 129h1M92 129h1M96 129h1M111 129h1M118 129h1M122 129h2M23 130h1M29 130h1M83 130h1M85 130h1M95 130h1M103 130h1M105 130h1M110 130h1M117 130h1M123 130h1M13 131h1M27 131h3M81 131h1M100 131h1M104 131h1M106 131h1M120 131h1M0 132h1M8 132h1M12 132h1M85 132h1M92 132h1M106 132h1M111 132h1M120 132h1M123 132h1M0 133h1M6 133h1M14 133h1M24 133h1M81 133h1M85 133h1M88 133h1M147 133h1M0 134h2M6 134h2M18 134h1M27 134h1M38 134h1M90 134h1M92 134h1M100 134h1M118 134h1M24 135h2M116 135h1M24 136h1M85 136h1M98 136h1M103 136h1M110 136h1M0 137h1M2 137h1M37 137h1M85 137h1M93 137h1M103 137h2M111 137h1M121 137h2M3 138h1M10 138h1M20 138h1M44 138h1M82 138h2M99 138h1M103 138h1M114 138h1M117 138h1M119 138h1M0 139h1M15 139h1M22 139h2M34 139h1M86 139h1M96 139h1M146 139h1M0 140h1M17 140h1M20 140h1M28 140h1M82 140h1M91 140h1M95 140h1M103 140h1M106 140h1M119 140h2M19 141h1M26 141h1M29 141h1M93 141h1M1 142h1M6 142h1M18 142h1M35 142h1M95 142h1M97 142h1M100 142h1M102 142h1M147 142h1M1 143h2M8 143h1M22 143h1M82 143h2M96 143h1M102 143h2M106 143h1M117 143h2M13 144h1M21 144h2M28 144h1M35 144h1M37 144h1M39 144h1M82 144h1M109 144h1M6 145h1M23 145h1M28 145h1M85 145h1M88 145h1M90 145h2M100 145h1M103 145h1M118 145h2M36 146h1M40 146h1M139 146h1M46 147h1M63 147h1M71 147h1M73 147h1M133 147h1M142 147h1M153 147h1M156 147h1M25 148h1M83 148h1M93 148h1M100 148h1M120 148h1M123 148h1M0 149h1M29 149h1M81 149h1M98 149h1M103 149h1M114 149h1M120 149h1M14 150h1M20 150h1M25 150h1M87 150h1M92 150h1M94 150h1M100 150h1M119 150h2M4 151h1M12 151h1M37 151h1M87 151h1M0 152h1M20 152h1M31 152h1M96 152h1M104 152h1M108 152h2M118 152h1M122 152h1M6 153h1M27 153h1M34 153h1M39 153h1M72 153h1M75 153h1M82 153h1M102 153h1M119 153h1M147 153h1M12 154h1M14 154h1M30 154h1M43 154h1M85 154h1M123 154h1M0 155h1M14 155h1M26 155h1M29 155h1M88 155h1M93 155h1M108 155h1M116 155h1M11 156h1M14 156h1M22 156h1M29 156h1M31 156h2M42 156h1M88 156h1M93 156h1M109 156h1M114 156h1M120 156h1M122 156h3M147 156h1M10 157h1M15 157h1M22 157h1M34 157h1M36 157h1M85 157h1M88 157h1M90 157h1M95 157h1M110 157h1M114 157h1M119 157h1M14 158h1M27 158h1M37 158h1M44 158h1M81 158h1M92 158h1M94 158h1M96 158h1M111 158h1M118 158h2M121 158h1M2 159h1M8 159h1M17 159h1M20 159h1M30 159h1M83 159h1M94 159h1M110 159h1M119 159h1"/>
<path stroke="#27ffd7" stroke-width="1" d="M47 0h2M60 0h1M74 0h1M145 0h1M45 1h1M49 1h1M65 1h2M70 1h1M76 1h1M89 1h1M4 2h1M50 2h1M53 2h1M130 2h2M133 2h1M136 2h1M140 2h1M150 2h1M155 2h1M55 3h1M58 3h2M64 3h1M70 3h1M89 3h1M112 3h1M137 3h1M145 3h1M150 3h1M153 3h1M159 3h1M2 4h1M8 4h1M25 4h1M67 4h2M97 4h2M122 4h1M28 5h1M37 5h2M42 5h1M44 5h1M83 5h1M88 5h1M95 5h1M102 5h1M111 5h1M114 5h1M116 5h1M122 5h2M49 6h1M53 6h1M58 6h1M131 6h1M137 6h2M143 6h1M152 6h1M157 6h1M51 7h1M53 7h1M65 7h2M69 7h1M79 7h1M107 7h1M125 7h1M128 7h1M133 7h1M152 7h1M156 7h1M158 7h1M4 8h1M9 8h1M47 8h1M49 8h1M56 8h1M62 8h2M76 8h1M84 8h1M129 8h1M138 8h1M142 8h1M155 8h1M158 8h1M8 9h1M15 9h1M31 9h1M43 9h1M68 9h1M85 9h1M93 9h2M102 9h1M114 9h1M70 10h2M112 10h1M129 10h1M134 10h1M12 11h1M61 11h1M103 11h1M113 11h1M126 11h1M141 11h1M154 11h1M11 12h1M19 12h1M47 12h1M53 12h1M55 12h1M62 12h1M89 12h1M127 12h1M130 12h1M140 12h1M159 12h1M55 13h1M62 13h1M65 13h1M73 13h2M79 13h1M84 13h1M129 13h1M134 13h1M142 13h1M151 13h1M52 14h1M61 14h1M76 14h1M127 14h1M136 14h1M145 14h1M149 14h1M9 15h1M45 15h1M51 15h1M58 15h1M61 15h1M76 15h2M89 15h1M107 15h1M126 15h1M129 15h1M137 15h1M143 15h1M149 15h1M158 15h1M146 16h1M52 17h1M61 17h1M65 17h1M128 17h1M148 17h1M152 17h1M45 18h1M53 18h1M62 18h1M89 18h1M107 18h1M112 18h1M126 18h1M156 18h1M12 19h1M25 19h1M57 19h1M87 19h2M98 19h1M120 19h2M47 20h1M53 20h1M59 20h1M64 20h1M67 20h1M71 20h1M74 20h1M84 20h1M113 20h1M130 20h1M134 20h1M136 20h1M58 21h1M74 21h1M158 21h2M51 22h1M55 22h1M70 22h1M77 22h1M89 22h1M134 22h1M137 22h1M153 22h1M159 22h1M51 23h1M58 23h1M77 23h1M107 23h1M126 23h1M129 23h1M158 23h1M47 24h1M64 24h1M68 24h1M93 24h1M123 24h1M155 24h1M4 25h1M19 25h1M26 25h1M29 25h1M98 25h1M102 25h2M123 25h1M25 26h1M76 26h1M114 26h1M133 26h1M149 26h1M59 27h1M62 27h1M70 27h1M112 27h1M125 27h2M132 27h1M143 27h1M151 27h1M154 27h1M156 27h1M159 27h1M5 28h1M63 28h2M66 28h1M134 28h1M148 28h1M25 29h1M113 29h1M120 29h1M132 29h1M134 29h1M136 29h1M148 29h1M55 30h1M65 30h1M107 30h1M125 30h1M131 30h1M137 30h2M142 30h2M9 31h1M60 31h1M62 31h1M68 31h1M129 31h1M134 31h1M140 31h1M145 31h1M158 31h1M51 32h1M56 32h1M63 32h1M76 32h1M131 32h1M157 32h1M73 33h1M79 33h1M144 33h1M45 34h1M71 34h1M73 34h2M89 34h1M145 34h1M45 35h1M55 35h1M65 35h1M46 36h1M54 36h1M79 36h1M5 37h1M51 37h1M61 37h1M69 37h1M71 37h1M79 37h1M84 37h1M112 37h1M143 37h1M5 38h1M77 38h1M128 38h1M138 38h1M142 38h1M45 39h1M58 39h1M70 39h1M79 39h1M132 39h1M145 39h1M152 39h1M157 39h1M46 40h1M69 40h1M46 41h1M54 41h1M70 41h1M75 41h1M5 42h1M58 42h1M62 42h2M70 42h1M142 42h1M152 42h1M157 42h1M9 43h1M47 43h2M59 43h1M81 43h1M98 43h1M115 43h1M130 43h1M132 43h1M135 43h1M143 43h1M149 43h1M151 43h1M5 44h1M59 44h2M76 44h1M84 44h1M128 44h1M134 44h1M143 44h1M145 44h1M156 44h1M1 45h1M15 45h1M18 45h1M34 45h2M39 45h1M80 45h1M105 45h1M111 45h1M122 45h1M147 45h1M36 46h1M40 46h2M144 46h1M146 46h1M0 47h1M8 47h1M12 47h1M20 47h1M24 47h1M43 47h1M86 47h1M91 47h1M104 47h1M109 47h1M118 47h2M0 48h1M43 48h1M82 48h1M91 48h1M95 48h1M100 48h1M102 48h1M105 48h1M109 48h2M118 48h1M122 48h1M147 48h1M1 49h1M6 49h1M8 49h1M80 49h1M100 49h1M102 49h1M122 49h1M124 49h1M2 50h1M86 50h1M92 50h1M97 50h1M99 50h1M116 50h1M7 51h1M15 51h1M22 51h2M32 51h1M37 51h1M97 51h1M119 51h1M14 52h1M17 52h1M92 52h1M96 52h1M104 52h1M119 52h1M2 53h1M6 53h2M12 53h1M18 53h1M20 53h1M90 53h1M96 53h1M99 53h1M108 53h2M36 54h1M41 54h1M69 54h1M128 54h1M139 54h1M146 54h1M153 54h1M3 55h1M12 55h2M22 55h1M30 55h1M35 55h1M101 55h1M124 55h1M146 55h1M8 56h1M32 56h1M86 56h1M102 56h2M111 56h1M114 56h1M19 57h1M87 57h1M102 57h1M114 57h1M121 57h1M3 58h1M6 58h1M15 58h1M21 58h1M23 58h1M39 58h1M42 58h1M100 58h1M102 58h1M104 58h1M3 59h1M20 59h1M27 59h1M43 59h2M93 59h1M97 59h1M101 59h1M118 59h1M120 59h1M124 59h1M0 60h1M31 60h1M44 60h1M92 60h1M94 60h1M99 60h2M106 60h1M108 60h2M118 60h1M121 60h1M124 60h1M147 60h1M11 61h1M14 61h2M17 61h1M37 61h1M72 61h1M82 61h1M101 61h1M103 61h1M109 61h1M121 61h1M8 62h1M12 62h2M18 62h1M27 62h1M31 62h1M42 62h1M100 62h1M8 63h1M28 63h1M32 63h1M42 63h1M75 63h1M80 63h1M86 63h1M88 63h1M90 63h1M104 63h1M108 63h1M116 63h1M3 64h1M20 64h1M24 64h1M28 64h1M92 64h1M94 64h1M96 64h1M100 64h1M103 64h1M105 64h1M119 64h1M1 65h1M7 65h1M13 65h1M17 65h1M30 65h1M35 65h1M142 65h1M147 65h1M1 66h1M7 66h1M28 66h1M90 66h1M97 66h1M99 66h1M4 67h1M20 67h1M82 67h1M88 67h1M106 67h1M111 67h1M4 68h1M9 68h1M24 68h1M31 68h1M106 68h1M114 68h1M116 68h1M7 69h1M37 69h1M40 69h1M54 69h1M75 69h1M86 69h1M102 69h1M1 70h1M3 70h1M10 70h1M22 70h1M27 70h1M39 70h1M41 70h2M75 70h1M144 70h1M10 71h1M20 71h1M34 71h1M37 71h1M90 71h1M92 71h1M97 71h1M101 71h1M116 71h2M61 72h1M73 72h1M130 72h1M157 72h1M13 73h1M33 73h2M72 73h1M146 73h1M153 73h1M0 74h1M13 74h1M20 74h2M34 74h1M83 74h1M109 74h1M118 74h1M120 74h1M41 75h1M63 75h1M69 75h2M1 76h1M8 76h1M14 76h2M26 76h1M32 76h1M44 76h1M94 76h1M96 76h1M101 76h1M105 76h1M15 77h1M22 77h2M38 77h1M147 77h1M82 78h1M91 78h1M95 78h1M97 78h1M100 78h1M111 78h1M123 78h1M7 79h1M13 79h1M33 79h1M36 79h2M39 79h1M45 80h1M49 80h1M63 80h1M128 80h1M131 80h1M139 80h1M142 80h1M152 80h1M43 81h1M130 81h1M132 81h1M151 81h1M48 82h1M61 82h1M67 82h1M78 82h1M126 82h1M131 82h1M134 82h1M145 82h1M5 83h1M74 83h1M112 83h1M126 83h1M145 83h1M149 83h1M8 84h1M13 84h1M20 84h1M37 84h1M44 84h1M85 84h1M91 84h1M93 84h1M106 84h1M9 85h1M84 85h1M89 85h1M113 85h1M127 85h1M131 85h1M138 85h1M142 85h1M150 85h1M156 85h1M159 85h1M47 86h1M50 86h1M56 86h1M63 86h1M69 86h1M138 86h1M143 86h1M152 86h1M157 86h1M19 87h1M57 87h1M113 87h1M148 87h1M154 87h1M156 87h2M5 88h1M19 88h1M63 88h1M67 88h1M1 89h1M3 89h1M12 89h1M15 89h1M18 89h1M22 89h1M34 89h1M85 89h1M92 89h1M103 89h1M110 89h1M118 89h1M123 89h1M53 90h1M63 90h1M66 90h1M71 90h1M130 90h1M137 90h1M143 90h1M153 90h1M47 91h2M78 91h1M84 91h1M107 91h1M125 91h1M127 91h1M136 91h1M158 91h2M50 92h1M52 92h1M60 92h1M64 92h1M71 92h1M89 92h1M145 92h1M154 92h1M159 92h1M9 93h1M24 93h1M59 93h1M84 93h1M140 93h1M151 93h1M9 94h1M60 94h1M64 94h1M76 94h1M128 94h1M131 94h1M151 94h1M155 94h1M5 95h1M48 95h1M78 95h1M126 95h1M129 95h1M137 95h1M152 95h1M156 95h1M52 96h2M64 96h1M76 96h1M125 96h1M128 96h1M140 96h1M154 96h1M156 96h1M4 97h1M50 97h2M59 97h1M66 97h1M71 97h1M78 97h1M126 97h1M128 97h1M130 97h2M152 97h1M158 97h1M4 98h1M19 98h1M25 98h1M43 98h1M137 98h1M150 98h1M50 99h1M53 99h1M60 99h1M66 99h1M112 99h1M145 99h1M158 99h1M48 100h2M58 100h1M60 100h1M62 100h1M64 100h1M78 100h1M125 100h5M133 100h1M152 100h1M154 100h1M158 100h2M55 101h1M59 101h1M61 101h1M71 101h1M76 101h1M107 101h1M125 101h2M130 101h1M134 101h1M150 101h1M156 101h1M5 102h1M9 102h1M25 102h1M48 102h2M56 102h3M69 102h1M125 102h1M129 102h2M144 102h1M148 102h1M155 102h1M158 102h1M11 103h1M25 103h1M56 103h1M61 103h1M64 103h1M89 103h1M135 103h1M154 103h1M156 103h1M47 104h1M52 104h1M58 104h1M63 104h1M45 105h1M48 105h1M64 105h1M76 105h1M128 105h1M139 105h1M143 105h1M157 105h2M60 106h1M67 106h2M84 106h1M126 106h1M130 106h1M148 106h1M150 106h3M154 106h1M7 107h1M15 107h1M18 107h1M23 107h1M30 107h1M91 107h1M101 107h1M121 107h1M53 108h1M60 108h1M63 108h1M128 108h1M131 108h2M140 108h1M145 108h1M47 109h2M53 109h1M60 109h2M74 109h1M126 109h1M134 109h1M137 109h2M140 109h1M143 109h1M157 109h1M159 109h1M48 110h1M89 110h1M135 110h1M140 110h1M155 110h1M5 111h1M45 111h1M56 111h1M67 111h1M78 111h1M112 111h1M126 111h2M133 111h2M140 111h1M3 112h1M10 112h1M18 112h1M27 112h1M37 112h1M83 112h1M99 112h1M111 112h1M120 112h1M11 113h1M20 113h1M29 113h1M85 113h1M87 113h1M120 113h1M123 113h1M5 114h1M9 114h1M26 114h1M56 114h2M68 114h1M128 114h1M132 114h1M152 114h1M154 114h1M159 114h1M43 115h1M135 115h2M5 116h1M50 116h1M63 116h1M68 116h1M71 116h1M131 116h1M133 116h1M138 116h1M141 116h1M143 116h1M145 116h1M149 116h1M152 116h1M159 116h1M71 117h1M127 117h1M132 117h1M156 117h2M47 118h2M59 118h2M74 118h1M89 118h1M148 118h1M157 118h1M47 119h1M51 119h2M64 119h1M129 119h2M133 119h2M137 119h1M143 119h1M154 119h1M19 120h1M29 120h1M59 120h1M74 120h1M112 120h2M129 120h1M135 120h1M154 120h2M158 120h1M19 121h1M57 121h1M60 121h2M107 121h1M126 121h1M132 121h1M135 121h2M148 121h1M152 121h1M154 121h1M4 122h2M45 122h1M48 122h2M126 122h2M130 122h1M132 122h1M145 122h1M151 122h1M154 122h1M5 123h1M24 123h2M78 123h1M89 123h1M113 123h1M126 123h2M131 123h1M133 123h1M135 123h1M140 123h1M143 123h1M49 124h1M55 124h1M59 124h2M132 124h1M140 124h1M145 124h1M7 125h1M27 125h1M30 125h1M91 125h1M96 125h1M100 125h3M11 126h1M15 126h1M18 126h1M23 126h1M27 126h1M82 126h2M95 126h1M97 126h1M100 126h2M106 126h1M109 126h1M111 126h1M121 126h3M147 126h1M12 127h1M14 127h1M85 127h1M91 127h1M100 127h1M111 127h1M117 127h1M122 127h2M7 128h1M17 128h1M38 128h1M44 128h1M54 128h1M80 128h1M94 128h1M96 128h2M100 128h1M105 128h1M108 128h1M114 128h1M8 129h1M10 129h1M13 129h1M15 129h1M23 129h1M31 129h1M95 129h1M100 129h1M102 129h1M119 129h2M2 130h1M12 130h1M20 130h1M43 130h1M72 130h1M81 130h1M90 130h1M97 130h1M101 130h2M106 130h1M119 130h1M122 130h1M2 131h1M6 131h1M30 131h1M32 131h1M80 131h1M82 131h1M85 131h1M94 131h1M97 131h1M108 131h1M116 131h1M123 131h1M27 132h1M29 132h1M39 132h1M43 132h1M81 132h1M108 132h1M114 132h1M117 132h1M121 132h2M124 132h1M2 133h1M7 133h1M26 133h1M100 133h1M111 133h1M116 133h1M119 133h1M123 133h1M10 134h1M13 134h1M20 134h1M22 134h1M28 134h2M31 134h1M44 134h1M82 134h1M101 134h1M109 134h1M111 134h1M119 134h1M43 135h1M103 135h1M110 135h1M115 135h1M120 135h2M123 135h1M2 136h1M14 136h1M20 136h1M29 136h1M91 136h1M115 136h1M121 136h1M3 137h1M6 137h1M15 137h1M22 137h1M30 137h1M90 137h1M95 137h1M98 137h1M109 137h1M119 137h1M6 138h1M8 138h1M30 138h1M38 138h1M85 138h2M109 138h1M116 138h1M54 139h1M80 139h1M105 139h1M152 139h1M2 140h1M12 140h1M31 140h1M93 140h1M96 140h1M108 140h4M123 140h2M11 141h1M116 141h1M8 142h1M13 142h1M30 142h1M38 142h1M42 142h1M65 142h1M80 142h1M85 142h1M6 143h1M15 143h1M27 143h1M30 143h1M37 143h1M43 143h2M86 143h1M90 143h1M105 143h1M109 143h1M116 143h1M119 143h1M123 143h1M33 144h1M46 144h1M70 144h1M102 144h1M0 145h1M3 145h1M14 145h1M31 145h1M34 145h1M39 145h1M44 145h1M82 145h2M92 145h1M99 145h1M108 145h1M116 145h1M122 145h1M124 145h1M16 146h1M46 146h1M54 146h2M73 146h1M45 147h1M48 147h1M60 147h1M65 147h1M77 147h1M126 147h1M157 147h1M159 147h1M17 148h1M28 148h2M87 148h1M102 148h1M106 148h1M118 148h1M121 148h1M14 149h2M26 149h1M43 149h1M83 149h1M116 149h1M2 150h2M85 150h1M98 150h1M101 150h1M106 150h1M13 151h1M27 151h1M43 151h1M81 151h1M93 151h2M106 151h1M122 151h1M6 152h2M17 152h1M39 152h1M42 152h1M80 152h1M86 152h1M95 152h1M97 152h1M100 152h1M106 152h1M114 152h1M116 152h1M121 152h1M139 152h1M3 153h1M22 153h1M54 153h1M73 153h1M90 153h1M11 154h1M27 154h1M87 154h1M92 154h1M96 154h1M100 154h1M103 154h1M106 154h1M114 154h1M119 154h4M2 155h1M8 155h1M24 155h1M94 155h1M102 155h1M110 155h1M120 155h1M7 156h1M18 156h1M27 156h1M44 156h1M85 156h1M87 156h1M95 156h2M101 156h1M103 156h1M117 156h1M6 157h1M32 157h1M39 157h1M42 157h1M72 157h1M86 157h2M105 157h1M109 157h1M117 157h2M147 157h1M7 158h2M15 158h1M21 158h1M23 158h1M31 158h1M91 158h1M97 158h1M99 158h2M102 158h1M105 158h1M120 158h1M3 159h1M12 159h1M21 159h2M27 159h1M85 159h1M91 159h2M100 159h1M109 159h1M114 159h1M116 159h1M147 159h1"/>
<path stroke="#37ffc7" stroke-width="1" d="M52 0h1M56 0h2M67 0h1M89 0h1M115 0h1M125 0h2M131 0h1M136 0h1M154 0h1M156 0h1M9 1h1M25 1h1M51 1h1M77 1h1M107 1h1M125 1h1M129 1h1M157 1h1M5 2h1M9 2h1M11 2h1M57 2h1M60 2h2M64 2h1M138 2h1M148 2h1M49 3h1M56 3h1M76 3h1M131 3h1M134 3h1M143 3h1M152 3h1M12 4h1M14 4h1M27 4h1M31 4h1M85 4h1M93 4h1M114 4h1M2 5h1M17 5h1M21 5h1M31 5h1M36 5h1M39 5h1M91 5h1M94 5h1M97 5h1M100 5h1M106 5h1M124 5h1M50 6h1M59 6h1M63 6h1M107 6h1M125 6h1M130 6h1M140 6h2M158 6h2M9 7h1M55 7h2M58 7h1M63 7h1M113 7h1M126 7h1M131 7h1M135 7h1M138 7h1M150 7h1M154 7h2M159 7h1M43 8h1M45 8h1M130 8h1M135 8h3M145 8h1M148 8h1M151 8h1M1 9h2M7 9h1M18 9h1M83 9h1M91 9h1M103 9h1M111 9h1M117 9h1M121 9h1M51 10h1M55 10h1M58 10h1M60 10h1M62 10h1M69 10h1M76 10h1M125 10h1M128 10h1M156 10h1M2 11h1M26 11h2M57 11h1M100 11h1M115 11h1M118 11h1M4 12h1M43 12h1M48 12h1M56 12h1M103 12h1M110 12h1M115 12h1M133 12h1M135 12h1M158 12h1M46 13h1M58 13h2M63 13h1M132 13h1M139 13h1M145 13h1M152 13h1M4 14h1M19 14h1M66 14h1M89 14h1M130 14h1M141 14h1M143 14h1M151 14h1M159 14h1M74 15h1M84 15h1M112 15h1M127 15h1M130 15h1M132 15h1M150 15h1M79 16h1M144 16h1M5 17h1M45 17h1M50 17h1M66 17h1M74 17h1M84 17h1M113 17h1M129 17h1M156 17h2M9 18h1M46 18h1M48 18h2M71 18h1M76 18h1M84 18h1M133 18h1M137 18h1M143 18h1M149 18h1M159 18h1M14 19h1M29 19h1M47 19h1M81 19h1M105 19h1M109 19h1M123 19h1M48 20h1M60 20h1M78 20h1M132 20h1M135 20h1M149 20h1M151 20h1M5 21h1M62 21h1M112 21h1M139 21h1M142 21h1M153 21h1M48 22h1M53 22h1M56 22h1M62 22h2M67 22h1M84 22h1M107 22h1M113 22h1M47 23h1M49 23h1M76 23h1M84 23h1M113 23h1M134 23h1M138 23h1M140 23h1M152 23h1M156 23h1M29 24h1M81 24h1M83 24h1M130 24h1M132 24h1M1 25h1M37 25h1M83 25h1M87 25h1M121 25h1M11 26h1M43 26h1M52 26h1M115 26h1M125 26h1M4 27h1M11 27h1M47 27h1M55 27h1M60 27h2M64 27h1M130 27h1M140 27h1M148 27h1M155 27h1M45 28h1M53 28h1M69 28h1M84 28h1M129 28h1M136 28h2M139 28h1M151 28h2M154 28h1M156 28h1M159 28h1M19 29h1M24 29h1M43 29h1M93 29h1M115 29h1M51 30h1M58 30h1M74 30h1M84 30h1M112 30h2M134 30h1M156 30h1M4 31h2M47 31h1M49 31h2M52 31h2M55 31h2M67 31h1M71 31h1M74 31h1M84 31h1M112 31h1M132 31h1M138 31h1M148 31h1M159 31h1M55 32h1M107 32h1M138 32h1M142 32h1M152 32h1M46 33h1M51 33h1M63 33h1M70 33h1M77 33h1M84 33h1M138 33h1M152 33h2M159 33h1M49 34h1M53 34h1M58 34h1M66 34h1M128 34h2M155 34h1M159 34h1M66 35h1M69 35h1M76 35h1M112 35h1M130 35h1M148 35h1M159 35h1M5 36h1M69 36h1M77 36h1M131 36h1M134 36h1M144 36h1M153 36h1M25 37h1M49 37h1M53 37h1M55 37h2M64 37h1M113 37h1M125 37h1M131 37h1M154 37h1M159 37h1M45 38h1M49 38h1M62 38h2M66 38h1M139 38h1M143 38h1M148 38h1M151 38h1M156 38h1M5 39h1M50 39h1M66 39h1M107 39h1M128 39h1M137 39h1M154 39h1M159 39h1M66 40h1M79 40h1M65 41h1M73 41h1M112 41h1M144 41h1M153 41h1M48 42h1M51 42h1M56 42h1M66 42h1M71 42h1M76 42h1M128 42h1M134 42h1M138 42h1M143 42h1M159 42h1M8 43h1M12 43h1M26 43h1M29 43h1M92 43h1M120 43h1M141 43h1M48 44h1M51 44h1M53 44h1M55 44h1M66 44h1M107 44h1M112 44h1M125 44h1M136 44h1M154 44h2M8 45h1M17 45h1M28 45h1M38 45h1M65 45h1M82 45h1M13 46h1M18 46h1M33 46h1M69 46h1M134 46h1M142 46h1M19 47h1M23 47h1M27 47h1M31 47h1M85 47h1M100 47h3M12 48h1M18 48h1M20 48h1M22 48h1M42 48h1M44 48h1M99 48h1M117 48h1M123 48h1M3 49h1M18 49h1M23 49h1M31 49h1M34 49h1M37 49h2M104 49h2M146 49h2M6 50h1M17 50h1M31 50h1M39 50h1M82 50h1M96 50h1M101 50h1M119 50h1M124 50h1M146 50h1M1 51h1M10 51h1M30 51h1M33 51h1M42 51h1M44 51h1M80 51h1M86 51h1M90 51h1M0 52h1M26 52h1M31 52h1M97 52h1M101 52h1M111 52h1M122 52h1M22 53h1M28 53h1M31 53h1M34 53h1M37 53h1M44 53h1M94 53h1M97 53h1M70 54h1M7 55h1M10 55h1M27 55h1M31 55h2M37 55h1M44 55h1M119 55h1M147 55h1M0 56h1M3 56h1M7 56h1M12 56h1M22 56h1M31 56h1M37 56h1M42 56h1M99 56h1M101 56h1M104 56h1M0 57h1M2 57h1M11 57h1M91 57h1M95 57h1M97 57h1M118 57h1M7 58h1M10 58h1M13 58h1M30 58h1M34 58h1M72 58h1M80 58h1M90 58h1M6 59h1M13 59h1M72 59h1M86 59h1M99 59h1M102 59h1M2 60h1M10 60h1M20 60h1M27 60h1M86 60h1M97 60h1M104 60h2M110 60h2M2 61h1M27 61h1M90 61h1M94 61h1M104 61h1M117 61h1M10 62h1M21 62h2M38 62h1M77 62h1M80 62h1M90 62h1M102 62h1M117 62h1M147 62h1M6 63h2M13 63h1M22 63h1M33 63h1M38 63h1M2 64h1M27 64h1M37 64h1M72 64h1M97 64h1M101 64h1M104 64h1M122 64h1M41 65h1M45 65h1M77 65h1M134 65h1M153 65h1M14 66h1M17 66h1M34 66h2M38 66h3M42 66h1M44 66h1M75 66h1M80 66h1M146 66h2M0 67h1M22 67h1M31 67h1M80 67h1M86 67h1M95 67h1M100 67h1M108 67h1M116 67h1M124 67h1M94 68h2M103 68h2M111 68h1M120 68h1M122 68h1M10 69h1M28 69h1M35 69h2M46 69h1M146 69h1M33 70h1M54 70h1M72 70h1M18 71h1M31 71h1M42 71h1M99 71h1M105 71h1M109 71h1M118 71h1M124 71h1M58 72h2M64 72h1M70 72h1M79 72h1M126 72h1M132 72h1M148 72h1M41 73h1M75 73h1M86 73h1M15 74h1M17 74h1M30 74h2M99 74h1M101 74h1M117 74h1M147 74h1M66 75h1M73 75h1M76 75h1M125 75h1M129 75h1M144 75h1M152 75h1M158 75h1M3 76h1M10 76h1M18 76h1M23 76h1M35 76h1M42 76h1M75 76h1M109 76h1M1 77h1M33 77h1M36 77h1M62 77h1M65 77h1M146 77h1M153 77h1M20 78h1M94 78h1M99 78h1M101 78h1M105 78h1M16 79h1M40 79h1M72 79h1M51 80h1M58 80h1M62 80h1M66 80h2M84 80h1M130 80h1M134 80h1M19 81h1M24 81h1M127 81h1M155 81h1M45 82h1M50 82h1M107 82h1M125 82h1M136 82h2M150 82h1M152 82h1M154 82h1M156 82h1M158 82h1M9 83h1M24 83h2M98 83h1M132 83h2M136 83h1M150 83h2M15 84h1M17 84h2M22 84h2M28 84h1M30 84h2M33 84h1M80 84h1M88 84h1M111 84h1M4 85h1M47 85h1M140 85h1M151 85h1M51 86h1M59 86h2M67 86h1M73 86h1M128 86h1M134 86h1M144 86h2M153 86h1M158 86h1M25 87h1M89 87h1M127 87h1M132 87h1M135 87h2M84 88h1M89 88h1M126 88h1M135 88h1M151 88h1M154 88h1M0 89h1M14 89h1M87 89h2M94 89h1M97 89h1M109 89h1M116 89h1M120 89h2M51 90h1M58 90h1M61 90h2M128 90h1M131 90h1M138 90h2M142 90h1M148 90h1M159 90h1M5 91h1M9 91h1M57 91h1M126 91h1M130 91h2M137 91h1M149 91h1M154 91h1M156 91h1M43 92h1M126 92h2M133 92h1M136 92h1M138 92h1M149 92h1M151 92h1M4 93h1M29 93h1M112 93h2M133 93h1M136 93h1M138 93h1M149 93h1M5 94h1M53 94h1M61 94h1M68 94h1M78 94h1M89 94h1M112 94h1M130 94h1M136 94h1M143 94h1M148 94h1M156 94h1M57 95h1M67 95h2M125 95h1M131 95h1M133 95h2M148 95h1M150 95h1M158 95h1M50 96h1M107 96h1M112 96h1M126 96h1M132 96h1M135 96h1M137 96h2M148 96h1M150 96h1M5 97h1M52 97h2M57 97h1M60 97h1M64 97h1M89 97h1M125 97h1M135 97h1M143 97h1M145 97h1M149 97h1M153 97h3M83 98h1M132 98h1M48 99h1M56 99h1M59 99h1M71 99h1M74 99h1M78 99h1M136 99h2M151 99h3M5 100h1M11 100h1M47 100h1M67 100h1M130 100h1M151 100h1M47 101h1M50 101h1M52 101h1M56 101h1M64 101h1M74 101h1M78 101h1M112 101h1M131 101h1M143 101h1M145 101h1M148 101h1M47 102h1M59 102h1M62 102h1M134 102h1M149 102h1M159 102h1M9 103h1M12 103h1M68 103h1M133 103h1M141 103h1M148 103h1M159 103h1M49 104h1M56 104h1M60 104h2M64 104h1M68 104h1M140 104h1M145 104h1M148 104h2M156 104h1M158 104h1M19 105h1M49 105h1M60 105h1M71 105h1M78 105h1M133 105h1M151 105h1M154 105h1M159 105h1M5 106h1M125 106h1M127 106h1M133 106h1M136 106h1M1 107h1M6 107h1M22 107h1M32 107h1M39 107h1M44 107h1M82 107h1M96 107h1M108 107h1M111 107h1M119 107h1M67 108h1M107 108h1M137 108h1M143 108h1M150 108h1M154 108h1M156 108h1M19 109h1M71 109h1M76 109h1M89 109h1M125 109h1M135 109h1M148 109h1M12 110h1M60 110h1M126 110h2M133 110h2M149 110h1M9 111h1M52 111h1M60 111h1M68 111h1M84 111h1M107 111h1M143 111h1M149 111h2M154 111h1M15 112h1M21 112h1M30 112h2M35 112h1M41 112h1M44 112h1M93 112h2M96 112h1M101 112h1M114 112h1M7 113h1M17 113h1M22 113h2M30 113h1M37 113h1M93 113h1M114 113h1M4 114h1M112 114h2M133 114h1M136 114h1M143 114h1M0 115h1M11 115h2M26 115h1M29 115h1M67 116h1M89 116h1M132 116h1M150 116h1M156 116h1M158 116h1M9 117h1M48 117h1M61 117h2M74 117h1M131 117h1M135 117h1M137 117h1M159 117h1M11 118h1M57 118h1M71 118h1M131 118h2M135 118h1M140 118h2M150 118h2M155 118h1M50 119h1M55 119h1M107 119h1M131 119h2M149 119h1M151 119h1M156 119h1M43 120h1M68 120h1M89 120h1M127 120h1M133 120h1M151 120h1M9 121h1M25 121h1M89 121h1M125 121h1M133 121h1M52 122h1M64 122h1M68 122h1M131 122h1M133 122h1M135 122h1M138 122h1M141 122h1M150 122h1M19 123h1M48 123h1M136 123h1M155 123h1M5 124h1M50 124h1M67 124h1M71 124h1M126 124h1M128 124h2M138 124h2M148 124h1M152 124h1M157 124h2M0 125h2M6 125h1M10 125h1M26 125h1M37 125h1M44 125h1M75 125h1M82 125h1M95 125h1M97 125h1M106 125h1M109 125h1M121 125h1M0 126h1M7 126h1M72 126h1M88 126h1M91 126h2M96 126h1M110 126h1M124 126h1M15 127h1M81 127h1M87 127h1M92 127h1M106 127h1M110 127h1M120 127h1M10 128h1M34 128h1M39 128h1M42 128h1M86 128h1M90 128h1M124 128h1M147 128h1M1 129h1M17 129h1M28 129h1M34 129h1M75 129h1M124 129h1M6 130h1M8 130h1M14 130h2M24 130h1M27 130h1M35 130h1M80 130h1M91 130h1M94 130h1M100 130h1M0 131h1M3 131h1M7 131h1M36 131h2M90 131h2M95 131h1M101 131h1M117 131h3M122 131h1M13 132h1M15 132h1M20 132h1M24 132h1M31 132h1M72 132h1M83 132h1M87 132h1M96 132h1M98 132h1M116 132h1M118 132h2M12 133h1M18 133h1M83 133h1M92 133h2M95 133h1M103 133h1M105 133h2M110 133h1M114 133h1M120 133h3M3 134h1M23 134h1M30 134h1M36 134h1M42 134h1M46 134h1M65 134h1M80 134h1M86 134h1M95 134h1M102 134h1M110 134h1M147 134h1M7 135h2M12 135h1M20 135h1M87 135h2M96 135h2M109 135h1M117 135h2M122 135h1M0 136h1M8 136h1M28 136h1M44 136h1M82 136h2M87 136h1M92 136h3M99 136h1M106 136h1M114 136h1M123 136h1M8 137h1M18 137h1M28 137h1M39 137h1M82 137h1M91 137h1M96 137h1M99 137h1M108 137h1M117 137h1M2 138h1M7 138h1M23 138h1M31 138h3M42 138h1M90 138h1M92 138h2M96 138h1M122 138h1M124 138h1M13 139h1M21 139h1M28 139h1M38 139h1M90 139h1M124 139h1M6 140h1M23 140h1M27 140h1M85 140h1M104 140h1M118 140h1M6 141h1M14 141h1M43 141h1M103 141h1M118 141h1M122 141h1M21 142h1M32 142h1M46 142h1M90 142h1M3 143h1M14 143h1M18 143h1M38 143h1M42 143h1M94 143h1M97 143h1M101 143h1M108 143h1M111 143h1M114 143h1M16 144h1M36 144h1M41 144h1M75 144h1M86 144h1M8 145h1M13 145h1M86 145h1M97 145h1M101 145h1M104 145h1M147 145h1M49 146h2M66 146h1M69 146h1M77 146h1M157 146h1M49 147h1M55 147h1M62 147h1M66 147h1M74 147h1M128 147h1M134 147h1M145 147h1M152 147h1M155 147h1M158 147h1M2 148h1M8 148h1M27 148h1M31 148h1M35 148h1M38 148h1M72 148h1M90 148h1M94 148h3M101 148h1M103 148h2M109 148h1M124 148h1M18 149h1M20 149h1M91 149h3M97 149h1M102 149h1M104 149h1M110 149h2M119 149h1M7 150h1M15 150h1M82 150h2M95 150h2M108 150h1M111 150h1M116 150h1M118 150h1M122 150h1M8 151h1M14 151h1M20 151h1M28 151h1M38 151h1M83 151h1M85 151h1M88 151h1M92 151h1M99 151h2M105 151h1M118 151h3M3 152h1M13 152h1M23 152h1M28 152h1M32 152h2M75 152h1M82 152h1M99 152h1M124 152h1M147 152h1M21 153h1M33 153h1M36 153h1M41 153h1M65 153h1M77 153h1M86 153h1M97 153h1M99 153h1M0 154h1M7 154h1M28 154h1M37 154h1M39 154h1M44 154h1M82 154h1M88 154h1M91 154h1M97 154h1M105 154h1M108 154h1M111 154h1M7 155h1M27 155h1M34 155h1M44 155h1M81 155h1M97 155h1M118 155h1M123 155h1M147 155h1M0 156h1M10 156h1M17 156h1M23 156h1M28 156h1M30 156h1M38 156h1M82 156h1M91 156h1M94 156h1M104 156h1M108 156h1M116 156h1M119 156h1M1 157h1M17 157h1M124 157h1M146 157h1M6 158h1M12 158h1M75 158h1M82 158h1M86 158h1M95 158h1M104 158h1M116 158h1M124 158h1M147 158h1M6 159h2M14 159h1M18 159h1M28 159h1M31 159h1M33 159h3M37 159h1M39 159h1M42 159h1M90 159h1M102 159h2M105 159h1M117 159h1"/>
<path stroke="#47ffb7" stroke-width="1" d="M25 0h1M50 0h1M159 0h1M52 1h1M55 1h1M60 1h1M63 1h1M112 1h1M126 1h2M133 1h1M137 1h1M152 1h1M155 1h1M158 1h2M14 2h1M25 2h2M48 2h1M68 2h1M78 2h1M89 2h1M149 2h1M154 2h1M52 3h1M113 3h1M126 3h1M132 3h1M140 3h1M142 3h1M149 3h1M151 3h1M15 4h1M26 4h1M28 4h1M32 4h1M44 4h1M91 4h1M96 4h1M116 4h1M119 4h1M6 5h1M13 5h1M15 5h1M18 5h1M35 5h1M41 5h1M90 5h1M96 5h1M101 5h1M105 5h1M5 6h1M60 6h1M71 6h1M89 6h1M112 6h1M126 6h1M148 6h1M150 6h1M156 6h1M50 7h1M52 7h1M59 7h1M61 7h1M64 7h1M67 7h1M76 7h1M143 7h1M148 7h1M51 8h1M60 8h1M74 8h1M89 8h1M125 8h1M133 8h1M22 9h1M32 9h1M38 9h1M82 9h1M88 9h1M105 9h1M108 9h1M119 9h2M122 9h1M45 10h1M50 10h1M52 10h2M89 10h1M107 10h1M130 10h2M137 10h1M140 10h1M149 10h1M152 10h1M155 10h1M159 10h1M20 11h1M87 11h1M98 11h1M110 11h1M114 11h1M120 11h2M24 12h2M29 12h1M57 12h1M125 12h1M141 12h1M156 12h1M5 13h1M45 13h1M51 13h1M68 13h2M126 13h1M137 13h1M140 13h1M143 13h1M158 13h1M2 14h1M25 14h1M43 14h1M57 14h1M60 14h1M4 15h2M49 15h1M52 15h1M56 15h1M71 15h1M79 15h1M148 15h1M155 15h2M54 16h1M48 17h2M59 17h1M62 17h1M134 17h1M136 17h1M145 17h1M151 17h1M154 17h2M158 17h1M5 18h1M52 18h1M59 18h2M74 18h1M113 18h1M125 18h1M127 18h1M129 18h1M135 18h1M138 18h1M140 18h1M148 18h1M151 18h1M154 18h1M157 18h2M20 19h1M24 19h1M28 19h1M37 19h1M68 19h1M83 19h1M110 19h1M116 19h1M11 20h1M19 20h1M50 20h1M57 20h1M141 20h1M52 21h1M64 21h1M70 21h1M137 21h2M143 21h1M157 21h1M9 22h1M29 22h1M47 22h1M71 22h1M78 22h1M112 22h1M128 22h1M131 22h1M145 22h1M149 22h1M151 22h1M45 23h1M48 23h1M50 23h1M56 23h1M59 23h1M61 23h2M67 23h1M89 23h1M128 23h1M149 23h1M151 23h1M155 23h1M157 23h1M159 23h1M12 24h1M19 24h1M25 24h2M88 24h1M110 24h1M121 24h2M0 25h1M2 25h1M12 25h1M14 25h1M24 25h1M27 25h1M68 25h1M81 25h1M110 25h1M119 25h1M122 25h1M2 26h1M4 26h1M24 26h1M88 26h1M93 26h1M98 26h1M110 26h1M154 26h1M25 27h1M48 27h1M66 27h2M74 27h1M113 27h1M127 27h1M138 27h1M141 27h1M150 27h1M4 28h1M19 28h1M49 28h1M55 28h4M61 28h1M74 28h1M89 28h1M128 28h1M138 28h1M157 28h1M12 29h1M22 29h1M57 29h1M68 29h1M135 29h1M49 30h1M59 30h2M62 30h1M67 30h1M79 30h1M130 30h1M136 30h1M152 30h1M48 31h1M51 31h1M89 31h1M125 31h1M130 31h1M143 31h1M150 31h2M4 32h1M9 32h1M62 32h1M69 32h1M73 32h2M84 32h1M89 32h1M112 32h1M125 32h1M129 32h1M134 32h1M137 32h1M143 32h1M151 32h1M49 33h1M59 33h1M71 33h1M125 33h1M129 33h1M137 33h1M139 33h1M142 33h1M51 34h1M76 34h1M107 34h1M133 34h2M138 34h1M140 34h1M156 34h1M158 34h1M5 35h1M50 35h2M53 35h1M60 35h1M63 35h1M74 35h1M84 35h1M107 35h1M125 35h1M132 35h1M138 35h1M152 35h1M154 35h1M45 36h1M53 36h1M65 36h1M70 36h1M107 36h1M125 36h1M129 36h2M152 36h1M19 37h1M48 37h1M50 37h1M58 37h1M60 37h1M78 37h1M127 37h2M138 37h1M148 37h1M150 37h1M152 37h1M155 37h1M9 38h1M58 38h1M74 38h1M89 38h1M125 38h1M127 38h1M131 38h1M159 38h1M51 39h1M55 39h1M74 39h1M131 39h1M134 39h1M143 39h1M158 39h1M54 40h1M70 40h1M107 40h1M129 40h1M139 40h1M143 40h1M5 41h1M59 41h1M69 41h1M131 41h1M135 41h1M49 42h1M53 42h1M67 42h1M69 42h1M74 42h1M77 42h2M132 42h1M135 42h1M151 42h1M154 42h2M158 42h1M14 43h1M57 43h1M87 43h1M93 43h1M110 43h1M121 43h1M4 44h1M47 44h1M50 44h1M57 44h1M78 44h1M115 44h1M127 44h1M130 44h2M133 44h1M148 44h2M10 45h1M13 45h1M23 45h1M36 45h1M75 45h1M54 46h1M77 46h1M22 47h1M44 47h1M80 47h1M94 47h1M96 47h1M111 47h1M116 47h1M2 48h1M17 48h1M23 48h1M27 48h1M31 48h1M37 48h1M80 48h1M90 48h1M124 48h1M15 49h1M17 49h1M28 49h1M30 49h1M33 49h1M42 49h1M144 49h1M0 50h1M7 50h1M10 50h1M20 50h1M23 50h1M35 50h1M37 50h1M44 50h1M91 50h1M102 50h1M8 51h1M13 51h1M31 51h1M34 51h2M39 51h1M147 51h1M1 52h1M3 52h1M7 52h1M10 52h1M15 52h1M18 52h1M21 52h1M80 52h1M124 52h1M10 53h1M35 53h2M42 53h1M72 53h1M75 53h1M80 53h1M147 53h1M16 54h1M40 54h1M46 54h1M79 54h1M144 54h1M152 54h1M1 55h1M28 55h1M39 55h1M15 56h1M23 56h1M28 56h1M108 56h2M124 56h1M147 56h1M12 57h1M14 57h1M20 57h1M28 57h2M43 57h2M94 57h1M101 57h1M104 57h1M116 57h2M28 58h1M37 58h2M75 58h1M86 58h1M7 59h1M17 59h2M23 59h1M30 59h1M33 59h1M41 59h1M1 60h1M6 60h1M8 60h1M14 60h1M18 60h1M30 60h1M35 60h1M37 60h1M82 60h1M101 60h1M7 61h1M23 61h1M28 61h1M91 61h1M102 61h1M17 62h1M23 62h1M30 62h1M32 62h1M146 62h1M1 63h1M35 63h1M7 64h1M21 64h1M81 64h2M90 64h1M118 64h1M36 65h1M75 65h1M27 66h1M72 66h2M7 67h1M23 67h1M27 67h1M30 67h1M42 67h1M97 67h1M99 67h1M102 67h1M2 68h1M13 68h1M19 68h1M25 68h1M29 68h1M83 68h1M92 68h1M108 68h1M13 69h1M32 69h1M41 69h2M72 69h1M104 69h1M128 69h1M144 69h1M158 69h1M21 70h1M36 70h1M40 70h1M73 70h1M146 70h2M6 71h1M15 71h1M22 71h1M33 71h1M53 72h1M66 72h1M69 72h1M125 72h1M127 72h2M134 72h1M154 72h1M32 73h1M66 73h1M70 73h1M144 73h1M8 74h1M18 74h1M27 74h2M32 74h1M35 74h1M38 74h2M42 74h1M86 74h1M100 74h1M45 75h1M53 75h1M58 75h1M65 75h1M134 75h1M138 75h1M140 75h1M145 75h1M7 76h1M34 76h1M82 76h1M146 76h2M42 77h1M46 77h1M2 78h1M22 78h1M37 78h1M42 78h1M44 78h1M102 78h2M109 78h1M15 79h1M30 79h1M54 79h1M47 80h2M52 80h2M25 81h1M64 81h1M89 81h1M98 81h1M113 81h1M135 81h1M9 82h1M60 82h1M64 82h1M76 82h1M130 82h1M135 82h1M19 83h1M68 83h1M84 83h1M113 83h1M135 83h1M32 84h1M35 84h1M83 84h1M97 84h1M110 84h1M114 84h1M120 84h1M112 85h1M135 85h1M141 85h1M149 85h1M58 86h1M74 86h1M156 86h1M11 87h1M43 87h1M9 88h1M24 88h1M26 88h1M136 88h1M2 89h1M6 89h1M8 89h1M10 89h1M23 89h1M28 89h1M31 89h2M38 89h1M81 89h1M96 89h1M100 89h2M108 89h1M114 89h1M117 89h1M119 89h1M5 90h1M48 90h1M64 90h1M133 90h1M152 90h1M4 91h1M50 91h1M61 91h1M132 91h2M135 91h1M138 91h1M151 91h1M155 91h1M68 92h1M107 92h1M112 92h1M131 92h1M148 92h1M26 93h1M43 93h1M150 93h1M47 94h1M57 94h1M126 94h1M107 95h1M138 95h1M154 95h1M4 96h2M47 96h1M89 96h1M133 96h1M136 96h1M151 96h1M155 96h1M67 97h1M84 97h1M132 97h1M156 97h1M11 98h1M26 98h1M81 98h1M67 99h1M130 99h2M159 99h1M74 100h1M89 100h1M140 100h1M155 100h1M5 101h1M57 101h1M60 101h1M89 101h1M128 101h1M140 101h2M152 101h1M158 101h1M50 102h1M61 102h1M67 102h1M78 102h1M131 102h1M140 102h1M154 102h1M156 102h1M78 103h1M113 103h1M132 103h1M150 103h1M57 104h1M69 104h1M112 104h1M151 104h1M5 105h1M9 105h1M107 105h1M125 105h1M131 105h1M145 105h1M150 105h1M152 105h1M156 105h1M113 106h1M149 106h1M10 107h1M34 107h3M40 107h1M92 107h1M95 107h1M105 107h1M116 107h1M9 108h1M56 108h1M68 108h1M89 108h1M112 108h2M127 108h1M133 108h1M135 108h2M56 109h1M78 109h1M145 109h1M149 109h1M158 109h1M11 110h1M19 110h1M24 110h3M43 110h1M84 110h1M112 110h1M115 110h1M132 110h1M141 110h1M151 110h1M47 111h1M130 111h2M135 111h2M148 111h1M155 111h1M1 112h1M6 112h1M22 112h1M32 112h1M85 112h1M92 112h1M104 112h1M108 112h1M110 112h1M119 112h1M122 112h1M3 113h1M18 113h1M27 113h1M81 113h1M83 113h1M103 113h1M106 113h1M108 113h1M121 113h1M11 114h1M84 114h1M89 114h1M135 114h1M44 115h1M110 115h1M117 115h1M120 115h1M4 116h1M19 116h1M47 116h1M57 116h1M107 116h1M130 116h1M136 116h1M148 116h1M57 117h1M89 117h1M115 117h1M140 117h1M148 117h2M151 117h1M154 117h1M64 118h1M125 118h1M136 118h3M156 118h1M159 118h1M4 119h1M9 119h1M25 119h1M89 119h1M112 119h1M125 119h1M135 119h1M9 120h1M11 120h1M84 120h1M115 120h1M130 120h1M136 120h1M141 120h1M11 121h1M24 121h1M43 121h1M113 121h1M128 121h1M141 121h1M150 121h2M9 122h1M24 122h2M112 122h1M155 122h1M141 123h1M48 124h1M52 124h1M56 124h1M136 124h1M154 124h1M8 125h1M12 125h1M18 125h1M31 125h3M35 125h2M38 125h1M72 125h1M105 125h1M118 125h2M147 125h1M1 126h1M3 126h1M6 126h1M13 126h1M94 126h1M1 127h1M18 127h1M27 127h1M37 127h2M44 127h1M72 127h1M108 127h1M22 128h2M28 128h1M37 128h1M69 128h1M72 128h1M101 128h1M121 128h1M18 129h1M32 129h2M36 129h1M40 129h1M147 129h1M10 130h1M30 130h2M36 130h1M44 130h1M82 130h1M99 130h1M111 130h1M116 130h1M120 130h1M10 131h1M22 131h1M38 131h2M41 131h1M44 131h1M92 131h1M99 131h1M102 131h1M105 131h1M111 131h1M3 132h1M35 132h1M42 132h1M91 132h1M97 132h1M103 132h1M110 132h1M1 133h1M8 133h1M34 133h1M44 133h1M90 133h2M96 133h1M108 133h1M17 134h1M32 134h1M34 134h1M39 134h1M72 134h1M75 134h1M158 134h1M18 135h1M29 135h1M41 135h2M81 135h3M85 135h1M91 135h1M108 135h1M111 135h1M114 135h1M119 135h1M17 136h1M30 136h1M88 136h1M96 136h1M108 136h1M111 136h1M116 136h1M118 136h1M120 136h1M124 136h1M1 137h1M10 137h1M13 137h1M21 137h1M32 137h2M118 137h1M147 137h1M18 138h1M21 138h1M27 138h2M34 138h2M37 138h1M75 138h1M91 138h1M95 138h1M118 138h1M147 138h1M33 139h1M40 139h1M142 139h1M153 139h1M157 139h1M3 140h1M10 140h1M13 140h1M18 140h1M34 140h1M75 140h1M100 140h3M117 140h1M12 141h1M20 141h1M27 141h1M85 141h1M101 141h1M110 141h1M120 141h2M123 141h1M3 142h1M33 142h1M139 142h1M146 142h1M7 143h1M13 143h1M21 143h1M31 143h2M39 143h2M147 143h1M49 144h1M54 144h1M69 144h1M73 144h1M146 144h1M17 145h1M22 145h1M75 145h1M105 145h1M109 145h1M62 146h1M70 146h1M76 146h1M142 146h1M144 146h1M51 147h1M53 147h1M56 147h1M70 147h1M76 147h1M125 147h1M129 147h1M137 147h2M143 147h1M6 148h2M15 148h1M18 148h1M37 148h1M44 148h1M92 148h1M111 148h1M116 148h2M2 149h2M10 149h1M22 149h2M44 149h1M85 149h1M106 149h1M109 149h1M117 149h1M6 150h1M27 150h1M31 150h1M37 150h1M93 150h1M103 150h1M105 150h1M121 150h1M3 151h1M17 151h2M22 151h2M31 151h2M42 151h1M91 151h1M96 151h1M104 151h1M110 151h1M117 151h1M121 151h1M1 152h1M10 152h1M30 152h1M35 152h3M54 152h1M90 152h1M101 152h1M105 152h1M139 153h1M2 154h1M17 154h2M26 154h1M35 154h1M42 154h1M72 154h1M95 154h1M102 154h1M117 154h1M124 154h1M1 155h1M10 155h1M15 155h1M17 155h1M23 155h1M37 155h1M42 155h1M91 155h1M96 155h1M100 155h1M111 155h1M122 155h1M6 156h1M12 156h1M15 156h1M34 156h1M86 156h1M97 156h1M102 156h1M105 156h1M118 156h1M18 157h1M21 157h1M23 157h1M28 157h1M139 157h1M1 158h1M13 158h1M17 158h2M34 158h1M39 158h1M42 158h1M69 158h1M101 158h1M109 158h1M134 158h1M0 159h2M10 159h1M23 159h1M38 159h1M99 159h1M118 159h1"/>
<path stroke="#57ffa7" stroke-width="1" d="M24 0h1M43 0h1M71 0h1M78 0h1M121 0h1M150 0h2M12 1h1M47 1h1M50 1h1M53 1h1M56 1h1M62 1h1M74 1h1M84 1h1M128 1h1M130 1h1M145 1h1M150 1h1M19 2h1M43 2h2M52 2h1M81 2h1M85 2h1M120 2h1M127 2h1M135 2h1M141 2h1M12 3h1M45 3h1M47 3h1M50 3h2M53 3h1M71 3h1M78 3h1M125 3h1M133 3h1M135 3h1M154 3h2M158 3h1M7 4h1M10 4h1M20 4h1M34 4h1M38 4h2M42 4h1M83 4h1M88 4h1M94 4h1M100 4h1M104 4h1M121 4h1M33 5h1M92 5h1M110 5h1M9 6h1M48 6h1M55 6h2M61 6h1M113 6h1M151 6h1M4 7h1M43 7h1M45 7h1M49 7h1M68 7h1M84 7h1M89 7h1M127 7h1M157 7h1M19 8h1M48 8h1M50 8h1M98 8h1M127 8h1M6 9h1M21 9h1M23 9h1M35 9h1M37 9h1M39 9h1M95 9h1M97 9h1M99 9h2M104 9h1M106 9h1M109 9h1M116 9h1M4 10h1M47 10h2M63 10h1M74 10h1M126 10h1M136 10h1M143 10h1M148 10h1M14 11h1M24 11h2M29 11h1M37 11h1M68 11h1M81 11h1M85 11h1M94 11h1M119 11h1M1 12h1M3 12h1M27 12h1M52 12h1M68 12h1M87 12h1M120 12h1M150 12h1M49 13h1M52 13h1M71 13h1M89 13h1M112 13h1M138 13h1M154 13h3M11 14h1M47 14h1M83 14h1M115 14h1M47 15h1M50 15h1M59 15h1M64 15h1M67 15h1M131 15h1M135 15h1M138 15h1M46 16h1M70 16h1M72 16h1M128 16h1M157 16h1M25 17h1M43 17h1M53 17h1M60 17h1M63 17h1M67 17h1M76 17h1M126 17h1M130 17h2M137 17h2M141 17h1M143 17h1M149 17h2M25 18h1M47 18h1M51 18h1M61 18h1M115 18h1M130 18h1M136 18h1M2 19h1M8 19h1M27 19h1M92 19h1M103 19h1M118 19h1M4 20h1M92 20h1M98 20h1M115 20h1M133 20h1M156 20h1M9 21h1M50 21h1M66 21h1M128 21h1M131 21h1M134 21h1M140 21h1M149 21h1M45 22h1M64 22h1M66 22h1M125 22h1M127 22h1M133 22h1M138 22h1M140 22h1M148 22h1M155 22h1M158 22h1M9 23h1M53 23h1M60 23h1M66 23h1M71 23h1M127 23h1M132 23h1M135 23h1M148 23h1M0 24h1M11 24h1M85 24h1M87 24h1M98 24h1M106 24h1M111 24h1M116 24h2M120 24h1M11 25h1M17 25h2M28 25h1M88 25h1M93 25h1M100 25h1M114 25h1M117 25h1M28 26h3M38 26h1M81 26h1M87 26h1M96 26h1M106 26h1M108 26h1M120 26h1M12 27h1M19 27h1M29 27h1M43 27h1M52 27h2M68 27h1M98 27h1M133 27h1M135 27h1M149 27h1M25 28h2M47 28h1M51 28h2M59 28h2M62 28h1M78 28h1M113 28h1M130 28h1M135 28h1M150 28h1M11 29h1M26 29h2M31 29h1M44 29h1M87 29h1M26 30h1M56 30h1M71 30h1M89 30h1M126 30h1M155 30h1M29 31h1M57 31h1M61 31h1M113 31h1M131 31h1M133 31h1M149 31h1M154 31h1M45 32h1M49 32h2M53 32h1M57 32h1M60 32h1M65 32h1M77 32h1M130 32h1M132 32h1M136 32h1M148 32h2M153 32h1M5 33h1M45 33h1M62 33h1M69 33h1M76 33h1M128 33h1M157 33h2M4 34h1M55 34h2M126 34h1M130 34h1M136 34h1M143 34h1M148 34h1M152 34h1M9 35h1M58 35h2M67 35h1M127 35h1M129 35h1M135 35h3M145 35h1M149 35h3M157 35h1M50 36h3M128 36h1M140 36h1M145 36h1M158 36h1M9 37h1M11 37h1M68 37h1M76 37h1M126 37h1M132 37h1M135 37h1M141 37h1M4 38h1M26 38h1M43 38h1M53 38h1M60 38h2M76 38h1M126 38h1M129 38h2M140 38h1M145 38h1M149 38h2M153 38h1M4 39h1M9 39h1M48 39h2M60 39h2M67 39h1M136 39h1M138 39h1M142 39h1M155 39h1M64 40h1M77 40h1M142 40h1M145 40h1M157 40h1M159 40h1M45 41h1M55 41h1M63 41h1M66 41h1M76 41h1M79 41h1M128 41h1M142 41h1M145 41h1M4 42h1M45 42h1M47 42h1M59 42h1M129 42h1M131 42h1M133 42h1M148 42h1M150 42h1M0 43h1M2 43h1M7 43h1M17 43h1M27 43h1M38 43h1M88 43h1M118 43h1M2 44h1M29 44h1M67 44h2M121 44h1M132 44h1M135 44h1M151 44h1M3 45h1M7 45h1M22 45h1M32 45h2M41 45h2M72 45h1M16 46h1M65 46h1M79 46h1M1 47h1M3 47h1M10 47h1M14 47h2M18 47h1M28 47h1M42 47h1M77 47h1M99 47h1M6 48h1M8 48h1M10 48h1M39 48h1M72 48h1M119 48h1M7 49h1M13 49h1M32 49h1M39 49h1M101 49h1M1 50h1M3 50h1M8 50h1M15 50h1M21 50h1M32 50h1M36 50h1M65 50h1M75 50h1M94 50h1M111 50h1M3 51h1M18 51h1M28 51h1M36 51h1M75 51h1M2 52h1M12 52h2M27 52h2M36 52h1M86 52h1M90 52h1M102 52h1M105 52h1M1 53h1M3 53h1M17 53h1M23 53h1M27 53h1M32 53h1M38 53h1M86 53h1M74 54h1M76 54h1M137 54h1M6 55h1M34 55h1M41 55h1M1 56h1M6 56h1M30 56h1M34 56h1M72 56h1M119 56h1M146 56h1M31 57h2M90 57h1M93 57h1M99 57h2M108 57h1M147 57h1M35 58h1M15 59h1M28 59h1M35 59h1M42 59h1M146 59h2M17 60h1M23 60h1M28 60h1M32 60h1M38 60h2M72 60h1M119 60h1M6 61h1M18 61h1M31 61h1M38 61h2M119 61h1M1 62h1M28 62h1M33 62h1M10 63h1M17 63h1M41 63h1M82 63h1M96 63h1M146 63h1M15 64h1M22 64h1M40 64h1M117 64h1M32 65h1M46 65h1M50 65h1M69 65h1M71 65h1M73 65h1M21 66h3M41 66h1M128 66h1M15 67h1M17 67h1M35 67h1M39 67h1M44 67h1M109 67h1M7 68h1M11 68h2M27 68h1M37 68h1M44 68h1M82 68h1M96 68h1M109 68h1M119 68h1M121 68h1M124 68h1M33 69h1M65 69h1M16 70h1M157 70h1M0 71h1M3 71h1M13 71h1M23 71h1M30 71h1M65 71h1M16 72h1M45 72h1M48 72h1M56 72h1M60 72h1M143 72h1M152 72h1M158 72h1M65 73h1M1 74h1M10 74h1M54 74h1M75 74h1M104 74h1M50 75h2M74 75h1M77 75h1M126 75h1M128 75h1M150 75h1M17 76h1M33 76h1M37 76h2M41 76h1M54 76h1M97 76h1M99 76h1M124 76h1M32 77h1M40 77h1M47 77h1M75 77h1M152 77h1M0 78h1M3 78h1M28 78h1M80 78h1M124 78h1M146 78h1M41 79h1M46 79h1M142 79h1M78 80h1M125 80h3M129 80h1M137 80h2M143 80h1M145 80h1M148 80h2M155 80h1M158 80h1M2 81h1M11 81h1M26 81h1M63 82h1M68 82h1M84 82h1M112 82h1M129 82h1M132 82h1M151 82h1M159 82h1M4 83h1M14 83h1M87 83h1M127 83h1M141 83h1M1 84h1M7 84h1M82 84h1M92 84h1M94 84h2M101 84h1M109 84h1M116 84h4M124 84h1M2 85h1M11 85h1M24 85h1M52 86h2M126 86h1M130 86h2M135 86h3M148 86h1M155 86h1M159 86h1M12 87h1M24 87h1M26 87h1M29 87h1M83 87h1M98 87h1M140 87h2M4 88h1M25 88h1M43 88h1M115 88h1M132 88h1M148 88h1M7 89h1M13 89h1M30 89h1M90 89h1M95 89h1M102 89h1M104 89h1M111 89h1M122 89h1M52 90h1M57 90h1M89 90h1M107 90h1M129 90h1M150 90h1M156 90h1M158 90h1M112 91h2M5 92h1M19 92h2M84 92h1M98 92h1M113 92h1M130 92h1M141 92h1M25 93h1M57 93h1M115 93h1M4 94h1M11 94h1M50 94h1M84 94h1M127 94h1M132 94h1M141 94h1M154 94h1M9 95h1M84 95h1M89 95h1M127 95h1M135 95h1M141 95h1M143 95h1M151 95h1M26 96h1M63 96h1M68 96h1M127 96h1M131 96h1M9 97h1M76 97h1M107 97h1M113 97h1M133 97h1M136 97h1M139 97h1M8 98h1M20 98h1M24 98h1M27 98h1M87 98h1M92 98h1M106 98h1M111 98h1M9 99h1M47 99h1M57 99h1M76 99h1M107 99h1M125 99h3M132 99h2M154 99h1M156 99h1M4 100h1M9 100h1M25 100h1M57 100h1M136 100h3M141 100h1M149 100h1M49 101h1M84 101h1M129 101h1M133 101h1M137 101h1M154 101h1M159 101h1M52 102h1M89 102h1M112 102h1M133 102h1M138 102h1M150 102h1M19 103h1M127 103h1M151 103h1M4 104h1M9 104h1M74 104h1M89 104h1M107 104h1M127 104h1M129 104h2M132 104h1M136 104h1M155 104h1M159 104h1M52 105h1M112 105h1M126 105h1M138 105h1M149 105h1M9 106h1M24 106h1M26 106h1M98 106h1M90 107h1M97 107h1M99 107h1M104 107h1M110 107h1M122 107h1M26 108h1M57 108h1M148 108h2M151 108h1M9 109h1M67 109h2M84 109h1M112 109h1M127 109h1M132 109h1M136 109h1M151 109h1M154 109h1M5 110h1M107 110h1M24 111h1M50 111h1M89 111h1M98 111h1M151 111h1M156 111h1M159 111h1M13 112h1M82 112h1M91 112h1M102 112h1M105 112h1M109 112h1M6 113h1M28 113h1M31 113h1M91 113h2M97 113h1M118 113h1M122 113h1M124 113h1M25 114h1M115 114h1M150 114h1M14 115h1M18 115h1M20 115h1M88 115h1M93 115h1M114 115h1M121 115h2M9 116h1M24 116h1M84 116h1M127 116h1M154 116h1M24 117h2M64 117h1M84 117h1M126 117h1M155 117h1M19 118h1M43 118h1M84 118h1M113 118h1M130 118h1M11 119h1M48 119h1M56 119h1M60 119h2M68 119h1M84 119h1M127 119h1M141 119h1M2 120h1M12 120h1M24 120h1M26 120h1M0 121h1M4 121h1M44 121h1M68 121h1M115 121h1M89 122h1M107 122h1M113 122h1M115 122h1M136 122h1M149 122h1M149 123h1M68 124h1M76 124h1M78 124h1M84 124h1M113 124h1M125 124h1M131 124h1M137 124h1M149 124h2M3 125h1M22 125h1M80 125h1M99 125h1M124 125h1M10 126h1M17 126h1M30 126h1M34 126h1M37 126h2M75 126h1M80 126h1M86 126h1M99 126h1M105 126h1M117 126h1M2 127h1M7 127h2M22 127h2M35 127h1M80 127h1M83 127h1M94 127h3M99 127h1M103 127h2M109 127h1M116 127h1M119 127h1M147 127h1M1 128h1M16 128h1M21 128h1M33 128h1M36 128h1M41 128h1M66 128h1M75 128h1M143 128h2M35 129h1M38 129h1M42 129h1M80 129h1M82 129h1M90 129h1M101 129h1M104 129h1M1 130h1M17 130h2M28 130h1M32 130h1M34 130h1M38 130h1M86 130h1M92 130h1M104 130h1M118 130h1M147 130h1M15 131h1M17 131h1M21 131h1M31 131h1M42 131h1M86 131h1M96 131h1M124 131h1M139 131h1M23 132h1M32 132h1M37 132h1M44 132h1M82 132h1M88 132h1M94 132h1M99 132h1M104 132h1M109 132h1M3 133h1M20 133h1M22 133h1M27 133h1M31 133h1M42 133h1M97 133h1M99 133h1M101 133h2M21 134h1M142 134h1M2 135h2M15 135h1M23 135h1M27 135h2M35 135h1M37 135h1M44 135h1M86 135h1M95 135h1M147 135h1M10 136h1M18 136h1M32 136h1M34 136h2M39 136h1M86 136h1M97 136h1M100 136h1M104 136h1M109 136h1M122 136h1M17 137h1M35 137h1M54 137h1M80 137h1M86 137h1M100 137h2M124 137h1M13 138h1M15 138h1M17 138h1M22 138h1M39 138h1M80 138h1M100 138h1M102 138h1M105 138h1M97 139h1M131 139h1M144 139h1M21 140h2M36 140h1M38 140h1M87 140h1M2 141h1M17 141h1M37 141h1M83 141h1M87 141h1M92 141h1M94 141h2M100 141h1M119 141h1M39 142h3M79 142h1M134 142h1M10 143h1M17 143h1M34 143h1M72 143h1M80 143h1M95 143h1M128 143h1M128 144h1M139 144h1M1 145h1M35 145h2M38 145h1M40 145h2M80 145h1M146 145h1M56 146h1M59 146h1M63 146h1M78 146h1M145 146h1M153 146h1M156 146h1M57 147h1M59 147h1M127 147h1M130 147h1M135 147h1M148 147h4M10 148h1M22 148h2M32 148h1M34 148h1M42 148h1M80 148h1M86 148h1M88 148h1M108 148h1M147 148h1M17 149h1M21 149h1M27 149h1M31 149h2M35 149h1M38 149h1M80 149h1M100 149h1M105 149h1M108 149h1M122 149h3M147 149h1M0 150h2M12 150h1M17 150h1M28 150h1M35 150h1M38 150h1M42 150h1M75 150h1M90 150h1M102 150h1M114 150h1M124 150h1M147 150h1M0 151h1M6 151h1M35 151h1M44 151h1M82 151h1M95 151h1M103 151h1M108 151h2M111 151h1M147 151h1M34 152h1M72 152h1M77 152h1M32 153h1M38 153h1M146 153h1M3 154h1M13 154h1M31 154h1M94 154h1M99 154h1M101 154h1M109 154h1M116 154h1M3 155h1M13 155h1M22 155h1M30 155h1M39 155h1M80 155h1M86 155h1M104 155h1M117 155h1M13 156h1M20 156h1M90 156h1M99 156h1M111 156h1M146 156h1M7 157h1M16 157h1M33 157h1M35 157h1M40 157h1M70 157h1M3 158h1M22 158h1M33 158h1M36 158h1M72 158h1M80 158h1M90 158h1M40 159h1M82 159h1M86 159h1M101 159h1M104 159h1M111 159h1"/>
<path stroke="#67ff97" stroke-width="1" d="M19 0h1M26 0h2M64 0h1M88 0h1M141 0h1M43 1h1M59 1h1M64 1h1M115 1h1M131 1h1M148 1h2M154 1h1M83 2h1M98 2h1M115 2h1M132 2h1M60 3h1M130 3h1M148 3h1M156 3h2M13 4h1M21 4h1M37 4h1M82 4h1M90 4h1M92 4h1M108 4h1M111 4h1M123 4h1M30 5h1M32 5h1M34 5h1M80 5h1M99 5h1M104 5h1M11 6h1M43 6h1M64 6h1M67 6h1M78 6h1M154 6h2M19 7h1M29 7h1M47 7h1M112 7h1M129 7h2M132 7h1M136 7h1M145 7h1M26 8h1M64 8h1M78 8h1M87 8h2M91 8h1M110 8h1M113 8h1M140 8h2M10 9h1M17 9h1M28 9h1M40 9h1M44 9h1M9 10h1M11 10h1M49 10h1M56 10h1M64 10h1M67 10h1M127 10h1M132 10h1M145 10h1M150 10h1M154 10h1M6 11h1M10 11h1M22 11h1M32 11h1M83 11h1M101 11h1M105 11h1M122 11h1M26 12h1M83 12h1M98 12h1M121 12h1M4 13h1M43 13h1M53 13h1M56 13h1M60 13h1M107 13h1M135 13h1M141 13h1M148 13h1M159 13h1M26 14h1M29 14h1M67 14h2M93 14h2M103 14h1M19 15h1M55 15h1M60 15h1M78 15h1M113 15h1M133 15h1M145 15h1M151 15h1M65 16h1M73 16h1M139 16h1M143 16h1M9 17h1M89 17h1M112 17h1M125 17h1M132 17h1M135 17h1M50 18h1M58 18h1M67 18h1M83 18h1M88 18h1M98 18h1M132 18h1M150 18h1M155 18h1M0 19h1M7 19h1M15 19h1M30 19h3M38 19h1M42 19h1M86 19h1M93 19h1M102 19h1M106 19h1M117 19h1M122 19h1M124 19h1M24 20h1M26 20h1M85 20h1M87 20h1M103 20h1M114 20h1M4 21h1M24 21h1M45 21h1M53 21h1M59 21h1M61 21h1M67 21h1M76 21h1M84 21h1M89 21h1M107 21h1M113 21h1M125 21h2M129 21h2M145 21h1M148 21h1M152 21h1M155 21h1M11 22h1M25 22h1M43 22h1M52 22h1M57 22h3M61 22h1M68 22h1M74 22h1M76 22h1M130 22h1M132 22h1M135 22h1M150 22h1M26 23h1M52 23h1M57 23h1M64 23h1M81 23h1M87 23h1M131 23h1M133 23h1M20 24h2M27 24h1M92 24h1M94 24h1M97 24h1M109 24h1M22 25h1M31 25h1M91 25h1M105 25h2M0 26h1M8 26h1M12 26h1M14 26h1M20 26h1M23 26h1M99 26h1M101 26h1M103 26h2M121 26h1M123 26h1M0 27h1M24 27h1M50 27h1M57 27h1M78 27h1M114 27h2M9 28h1M43 28h1M50 28h1M115 28h1M125 28h1M127 28h1M133 28h1M143 28h1M155 28h1M7 29h1M14 29h1M81 29h1M96 29h1M98 29h1M114 29h1M122 29h1M5 30h1M19 30h1M45 30h1M50 30h1M52 30h2M64 30h1M68 30h1M127 30h1M135 30h1M148 30h3M158 30h1M19 31h1M25 31h1M64 31h1M115 31h1M135 31h2M141 31h1M155 31h1M5 32h1M11 32h1M19 32h1M47 32h1M52 32h1M54 32h1M61 32h1M64 32h1M71 32h1M126 32h1M133 32h1M145 32h1M154 32h1M159 32h1M50 33h1M55 33h1M74 33h1M89 33h1M131 33h1M134 33h1M145 33h1M5 34h1M61 34h1M63 34h1M125 34h1M131 34h1M149 34h1M48 35h1M56 35h1M61 35h2M71 35h1M78 35h1M113 35h1M131 35h1M133 35h1M156 35h1M47 36h1M55 36h1M74 36h1M76 36h1M84 36h1M112 36h1M139 36h1M149 36h1M4 37h1M47 37h1M57 37h1M62 37h1M140 37h1M149 37h1M19 38h1M48 38h1M52 38h1M67 38h1M136 38h1M62 39h2M71 39h1M84 39h1M112 39h1M125 39h2M129 39h1M140 39h1M149 39h1M156 39h1M9 40h1M51 40h1M59 40h1M84 40h1M153 40h1M52 41h1M56 41h1M58 41h1M74 41h1M77 41h1M84 41h1M113 41h1M127 41h1M129 41h1M138 41h2M149 41h1M154 41h1M157 41h2M19 42h1M60 42h2M64 42h1M84 42h1M113 42h1M127 42h1M130 42h1M149 42h1M1 43h1M6 43h1M13 43h1M22 43h1M28 43h1M44 43h1M83 43h1M95 43h1M106 43h1M114 43h1M116 43h1M123 43h1M9 44h1M43 44h1M64 44h1M21 45h1M30 45h1M146 45h1M153 45h1M70 46h1M76 46h1M131 46h1M159 46h1M7 47h1M32 47h1M36 47h2M54 47h1M90 47h1M97 47h1M124 47h1M35 48h1M38 48h1M10 49h1M54 49h1M65 49h1M70 49h1M77 49h1M18 50h1M27 50h2M30 50h1M33 50h1M147 50h1M40 51h1M58 51h1M79 51h1M146 51h1M22 52h2M30 52h1M32 52h1M38 52h1M41 52h1M72 52h1M91 52h1M13 53h1M21 53h1M30 53h1M32 54h1M47 54h1M49 54h1M133 54h1M15 55h1M33 55h1M36 55h1M145 55h1M10 56h1M13 56h1M35 56h1M41 56h1M70 56h1M82 56h1M22 57h2M27 57h1M37 57h1M72 57h1M80 57h1M105 57h1M109 57h1M119 57h1M18 58h1M22 58h1M41 58h1M51 58h1M79 58h1M1 59h1M21 59h2M40 59h1M75 59h1M3 60h1M13 60h1M15 60h1M42 60h1M90 60h1M21 61h2M32 61h1M34 61h2M42 61h1M75 61h1M80 61h1M35 62h1M37 62h1M39 62h1M75 62h1M142 62h1M34 63h1M39 63h1M72 63h1M0 64h2M6 64h1M8 64h1M10 64h1M23 64h1M30 64h3M42 64h1M44 64h1M80 64h1M102 64h1M124 64h1M147 64h1M16 65h1M49 65h1M70 65h1M74 65h1M79 65h1M129 65h1M139 65h1M145 65h1M157 65h1M157 66h1M6 67h1M10 67h1M14 67h1M18 67h1M21 67h1M38 67h1M101 67h1M14 68h1M22 68h1M30 68h1M80 68h1M90 68h2M99 68h1M101 68h2M73 69h1M153 69h1M46 70h1M49 70h1M56 70h1M65 70h1M128 70h1M159 70h1M32 71h1M35 71h1M39 71h1M72 71h1M146 71h1M52 72h1M57 72h1M63 72h1M71 72h1M74 72h1M76 72h1M145 72h1M149 72h1M155 72h1M16 73h1M69 73h1M76 73h1M127 73h1M143 73h1M152 73h1M22 74h1M33 74h1M36 74h1M41 74h1M65 74h1M72 74h1M102 74h1M59 75h1M61 75h2M137 75h1M159 75h1M21 76h2M36 76h1M46 76h1M72 76h2M41 77h1M49 77h1M6 78h1M8 78h1M15 78h1M27 78h1M35 78h1M145 78h1M147 78h1M51 79h1M58 79h1M65 79h1M129 79h1M144 79h1M153 79h1M157 79h2M5 80h1M57 80h1M61 80h1M64 80h1M68 80h1M112 80h1M132 80h1M136 80h1M156 80h1M23 81h1M29 81h1M85 81h1M88 81h1M103 81h1M141 81h1M4 82h1M56 82h1M113 82h1M149 82h1M155 82h1M2 83h1M11 83h2M18 83h1M43 83h1M106 83h1M115 83h1M21 84h1M36 84h1M39 84h4M99 84h2M104 84h1M20 85h1M81 85h1M93 85h1M19 86h1M112 86h1M125 86h1M132 86h1M149 86h2M8 87h1M20 87h1M23 87h1M0 88h1M8 88h1M18 88h1M81 88h1M119 88h2M141 88h1M17 89h1M21 89h1M33 89h1M91 89h1M124 89h1M4 90h1M47 90h1M60 90h1M68 90h1M112 90h1M125 90h1M127 90h1M135 90h1M140 90h1M149 90h1M8 91h1M25 91h1M52 91h1M68 91h1M89 91h1M150 91h1M4 92h1M24 92h1M155 92h1M14 93h1M19 93h1M85 93h1M98 93h1M14 94h1M24 94h1M43 95h1M113 95h1M136 95h1M155 95h1M29 96h1M113 96h1M145 96h1M24 97h1M47 97h1M127 97h1M141 97h1M148 97h1M150 97h2M2 98h1M12 98h1M18 98h1M29 98h1M93 98h1M120 98h1M123 98h1M5 99h1M26 99h1M68 99h1M84 99h1M115 99h1M140 99h1M143 99h1M148 99h1M150 99h1M155 99h1M84 100h1M113 100h1M132 100h1M11 101h1M26 101h1M67 101h2M113 101h1M155 101h1M19 102h1M64 102h1M68 102h1M74 102h1M107 102h1M127 102h1M136 102h1M14 103h1M20 103h1M26 103h1M81 103h1M5 104h1M26 104h1M84 104h1M135 104h1M138 104h1M143 104h1M154 104h1M11 105h1M25 105h1M57 105h1M127 105h1M135 105h1M148 105h1M19 106h1M25 106h1M43 106h1M83 106h1M13 107h1M21 107h1M102 107h1M109 107h1M124 107h1M4 108h1M126 108h1M24 109h1M57 109h1M107 109h1M115 109h1M130 109h1M155 109h1M8 110h1M4 111h1M7 112h1M17 112h1M36 112h1M39 112h1M80 112h1M86 112h1M90 112h1M117 112h2M8 113h1M15 113h1M21 113h1M35 113h1M41 113h2M82 113h1M95 113h2M100 113h2M116 113h1M20 114h1M27 114h1M29 114h1M43 114h1M151 114h1M1 115h2M27 115h2M31 115h1M83 115h1M99 115h1M109 115h1M43 116h1M113 116h1M151 116h1M19 117h1M112 117h1M133 117h1M136 117h1M141 117h1M150 117h1M112 118h1M57 119h1M88 119h1M136 119h1M88 120h1M98 120h1M12 121h1M26 121h1M11 122h1M19 122h1M29 122h1M4 123h1M26 123h1M43 123h1M98 123h1M151 123h1M19 124h1M47 124h1M64 124h1M89 124h1M107 124h1M130 124h1M135 124h1M143 124h1M155 124h1M159 124h1M17 125h1M21 125h1M28 125h1M34 125h1M39 125h1M86 125h1M90 125h1M144 125h1M21 126h1M32 126h1M39 126h1M108 126h1M146 126h1M10 127h1M28 127h1M30 127h1M41 127h2M73 127h1M90 127h1M97 127h1M102 127h1M105 127h1M70 128h1M146 128h1M7 129h1M21 129h1M39 129h1M41 129h1M65 129h1M79 129h1M140 129h1M3 130h1M7 130h1M21 130h2M42 130h1M109 130h1M124 130h1M1 131h1M23 131h1M33 131h3M46 131h1M2 132h1M7 132h1M10 132h1M17 132h2M22 132h1M80 132h1M86 132h1M100 132h1M147 132h1M15 133h1M23 133h1M28 133h1M32 133h1M35 133h1M54 133h1M117 133h1M33 134h1M13 135h1M17 135h1M22 135h1M30 135h2M90 135h1M104 135h2M124 135h1M7 136h1M31 136h1M38 136h1M80 136h1M95 136h1M102 136h1M117 136h1M119 136h1M147 136h1M75 137h1M146 137h1M41 138h1M104 138h1M146 138h1M16 139h1M36 139h1M41 139h1M65 139h1M8 140h1M37 140h1M39 140h1M90 140h1M99 140h1M129 140h1M147 140h1M0 141h1M8 141h1M13 141h1M31 141h1M81 141h1M88 141h1M97 141h1M117 141h1M62 142h1M16 143h1M28 143h1M73 143h1M99 143h1M104 143h1M124 143h1M79 144h1M125 144h1M145 144h1M157 144h1M7 145h1M10 145h1M15 145h1M21 145h1M32 145h2M55 145h1M65 145h1M72 145h1M78 145h1M96 145h1M144 145h1M45 146h1M51 146h1M71 146h1M126 146h1M128 146h1M137 146h2M158 146h2M50 147h1M64 147h1M78 147h1M132 147h1M136 147h1M140 147h1M1 148h1M3 148h1M13 148h1M21 148h1M30 148h1M97 148h1M99 148h1M105 148h1M1 149h1M30 149h1M34 149h1M36 149h2M39 149h1M41 149h2M72 149h1M82 149h1M86 149h1M90 149h1M10 150h1M18 150h1M22 150h1M30 150h1M86 150h1M91 150h1M97 150h1M99 150h1M117 150h1M15 151h1M97 151h1M114 151h1M116 151h1M123 151h1M21 152h1M73 152h1M40 153h1M45 153h1M69 153h1M79 153h1M1 154h1M6 154h1M10 154h1M32 154h1M41 154h1M104 154h1M6 155h1M18 155h1M21 155h1M28 155h1M31 155h1M72 155h1M82 155h1M92 155h1M95 155h1M99 155h1M101 155h1M109 155h1M124 155h1M3 156h1M35 156h1M39 156h1M80 156h1M3 157h1M41 157h1M65 157h2M79 157h1M144 157h1M30 158h1M41 158h1M79 158h1M146 158h1M13 159h1M32 159h1M46 159h1M70 159h1M75 159h1M124 159h1M146 159h1"/>
<path stroke="#77ff87" stroke-width="1" d="M68 0h1M92 0h1M98 0h1M120 0h1M127 0h1M7 1h1M24 1h1M27 1h1M29 1h1M57 1h1M71 1h1M78 1h1M91 1h1M98 1h1M113 1h1M135 1h1M138 1h1M140 1h1M156 1h1M18 2h1M20 2h1M22 2h1M24 2h1M29 2h1M67 2h1M121 2h1M151 2h1M4 3h1M9 3h1M14 3h1M24 3h2M61 3h1M63 3h1M115 3h1M117 3h1M136 3h1M3 4h1M17 4h2M30 4h1M80 4h1M87 4h1M95 4h1M101 4h1M103 4h1M106 4h1M110 4h1M117 4h2M120 4h1M40 5h1M29 6h1M57 6h1M68 6h1M115 6h1M127 6h1M132 6h1M135 6h2M1 7h1M20 7h1M24 7h1M27 7h1M60 7h1M115 7h1M149 7h1M151 7h1M11 8h1M25 8h1M29 8h1M57 8h1M67 8h2M115 8h1M149 8h2M3 9h1M13 9h1M30 9h1M34 9h1M42 9h1M80 9h1M86 9h1M90 9h1M118 9h1M124 9h1M59 10h1M61 10h1M66 10h1M84 10h1M113 10h1M133 10h1M151 10h1M158 10h1M8 11h1M18 11h1M21 11h1M23 11h1M31 11h1M36 11h1M42 11h1M80 11h1M102 11h1M108 11h1M123 11h1M14 12h1M42 12h1M81 12h1M85 12h2M119 12h1M9 13h1M48 13h1M61 13h1M64 13h1M66 13h1M78 13h1M125 13h1M133 13h1M150 13h1M3 14h1M12 14h1M17 14h2M24 14h1M37 14h1M81 14h1M88 14h1M110 14h1M118 14h1M24 15h1M26 15h1M136 15h1M76 16h1M130 16h1M134 16h1M152 16h2M158 16h1M4 17h1M14 17h1M26 17h2M64 17h1M127 17h1M133 17h1M2 18h1M4 18h1M11 18h1M14 18h1M57 18h1M64 18h1M21 19h3M35 19h1M44 19h1M94 19h3M99 19h1M101 19h1M108 19h1M111 19h1M119 19h1M2 20h1M7 20h1M44 20h1M68 20h1M81 20h1M93 20h2M100 20h1M116 20h1M122 20h1M127 20h1M11 21h1M19 21h1M51 21h1M55 21h2M60 21h1M68 21h1M127 21h1M135 21h1M150 21h2M2 22h1M19 22h1M60 22h1M136 22h1M154 22h1M11 23h1M19 23h1M98 23h1M115 23h1M136 23h1M141 23h1M150 23h1M154 23h1M1 24h3M7 24h1M14 24h2M30 24h3M42 24h1M82 24h1M90 24h1M95 24h1M100 24h1M102 24h1M108 24h1M114 24h1M118 24h2M3 25h1M8 25h1M33 25h1M42 25h1M44 25h1M80 25h1M82 25h1M94 25h2M97 25h1M99 25h1M108 25h2M111 25h1M118 25h1M15 26h1M17 26h1M44 26h1M83 26h1M86 26h1M94 26h1M111 26h1M119 26h1M122 26h1M1 27h1M7 27h1M17 27h1M48 28h1M76 28h1M149 28h1M1 29h2M6 29h1M8 29h1M82 29h1M85 29h1M105 29h1M110 29h1M116 29h1M4 30h1M9 30h1M24 30h1M47 30h2M76 30h1M98 30h1M115 30h1M133 30h1M11 31h1M24 31h1M24 32h1M48 32h1M59 32h1M67 32h1M78 32h1M140 32h1M150 32h1M25 33h1M53 33h1M58 33h1M61 33h1M64 33h1M66 33h2M107 33h1M113 33h1M126 33h2M132 33h1M143 33h1M148 33h1M154 33h1M9 34h1M57 34h1M68 34h1M84 34h1M113 34h1M137 34h1M150 34h1M19 35h1M64 35h1M68 35h1M126 35h1M134 35h1M143 35h1M155 35h1M158 35h1M11 36h1M49 36h1M57 36h3M61 36h1M66 36h1M78 36h1M89 36h1M126 36h1M136 36h1M142 36h1M155 36h1M14 37h1M52 37h1M85 37h1M87 37h1M103 37h1M115 37h1M133 37h1M47 38h1M50 38h1M56 38h2M59 38h1M78 38h1M113 38h1M132 38h1M137 38h1M155 38h1M47 39h1M53 39h1M56 39h2M59 39h1M76 39h1M78 39h1M89 39h1M113 39h1M151 39h1M5 40h1M45 40h1M49 40h1M53 40h1M58 40h1M62 40h2M71 40h1M76 40h1M112 40h1M131 40h2M138 40h1M144 40h1M156 40h1M48 41h2M51 41h1M67 41h1M136 41h1M150 41h1M159 41h1M9 42h1M11 42h2M24 42h2M43 42h1M50 42h1M52 42h1M57 42h1M89 42h1M116 42h1M136 42h1M140 42h1M42 43h1M85 43h1M90 43h2M94 43h1M109 43h1M111 43h1M19 44h2M25 44h2M61 44h1M141 44h1M150 44h1M40 45h1M128 45h1M73 46h1M125 46h1M128 46h2M137 46h3M145 46h1M30 47h1M38 47h2M65 47h1M73 47h1M147 47h1M13 48h1M28 48h1M30 48h1M32 48h1M41 48h1M73 48h1M86 48h1M101 48h1M36 49h1M40 49h2M72 49h1M38 50h1M42 50h1M21 51h1M41 51h1M66 51h1M73 51h1M37 52h1M42 52h1M82 52h1M99 52h1M147 52h1M33 53h1M39 53h2M144 53h1M73 54h1M77 54h1M131 54h1M138 54h1M143 54h1M159 54h1M21 55h1M70 55h1M77 55h1M152 55h1M21 56h1M38 56h2M1 57h1M6 57h1M8 57h1M18 57h1M34 57h1M36 57h1M38 57h2M42 57h1M82 57h1M86 57h1M33 58h1M36 58h1M40 58h1M59 58h1M147 58h1M157 58h1M10 59h1M32 59h1M36 59h1M38 59h2M58 59h1M7 60h1M21 60h2M75 60h1M146 60h1M3 61h1M10 61h1M13 61h1M33 61h1M36 61h1M44 61h1M147 61h1M40 62h1M65 62h1M72 62h1M79 62h1M3 63h1M40 63h1M73 63h1M13 64h1M17 64h2M33 64h1M35 64h1M86 64h1M146 64h1M47 65h1M62 65h1M66 65h1M144 65h1M10 66h1M13 66h1M33 66h1M36 66h1M51 66h1M65 66h1M77 66h1M2 67h1M8 67h1M32 67h2M41 67h1M72 67h1M105 67h1M147 67h1M0 68h1M6 68h1M8 68h1M20 68h2M34 68h2M105 68h1M118 68h1M147 68h1M70 69h1M55 70h1M69 70h1M77 70h1M79 70h1M129 70h1M136 70h1M139 70h1M155 70h1M1 71h1M40 71h1M75 71h1M79 71h1M128 71h1M49 72h1M62 72h1M67 72h1M131 72h1M138 72h1M140 72h1M151 72h1M46 73h3M51 73h1M54 73h1M63 73h1M79 73h1M128 73h1M135 73h1M137 73h1M148 73h1M157 73h1M139 74h1M146 74h1M60 75h1M71 75h1M131 75h1M136 75h1M143 75h1M148 75h2M16 76h1M28 76h1M30 76h1M39 76h2M153 76h1M54 77h2M66 77h1M70 77h1M79 77h1M135 77h1M145 77h1M1 78h1M13 78h1M32 78h1M36 78h1M38 78h2M86 78h1M62 79h1M70 79h2M73 79h1M77 79h1M138 79h1M156 79h1M4 80h1M9 80h1M11 80h1M25 80h1M89 80h1M12 81h1M14 81h1M20 81h1M121 81h1M24 82h2M29 82h1M52 82h1M57 82h1M89 82h1M98 82h1M26 83h1M114 83h1M10 84h1M34 84h1M86 84h1M96 84h1M102 84h1M108 84h1M12 85h1M29 85h1M37 85h1M43 85h1M98 85h1M114 85h2M9 86h1M12 86h1M26 86h1M48 86h1M57 86h1M64 86h1M78 86h1M84 86h1M113 86h1M127 86h1M140 86h1M4 87h1M37 87h1M114 87h2M14 88h1M121 88h1M36 89h1M39 89h1M42 89h1M80 89h1M82 89h1M99 89h1M9 90h1M24 90h1M43 90h1M113 90h1M136 90h1M154 90h2M1 91h1M43 91h1M0 92h1M115 92h1M20 93h1M103 93h1M110 93h1M19 94h2M25 94h2M43 94h1M149 94h1M4 95h1M19 95h1M24 95h2M112 95h1M115 95h1M19 96h1M84 96h1M130 96h1M149 96h1M25 97h1M138 97h1M140 97h1M0 98h2M23 98h1M30 98h1M82 98h1M85 98h1M116 98h1M19 99h1M25 99h1M52 99h1M89 99h1M149 99h1M20 100h1M24 100h1M115 100h1M135 100h1M4 101h1M19 101h1M48 101h1M149 101h1M151 101h1M11 102h1M24 102h1M84 102h1M113 102h1M115 102h1M135 102h1M141 102h1M4 103h1M37 103h1M93 103h1M115 104h1M126 104h1M150 104h1M29 105h1M67 105h2M113 105h1M132 105h1M136 105h1M155 105h1M4 106h1M110 106h1M115 106h1M141 106h1M33 107h1M118 107h1M11 108h1M19 108h1M24 108h2M84 108h1M25 109h1M43 109h1M113 109h1M133 109h1M4 110h1M14 110h1M29 110h1M93 110h1M106 110h1M121 110h1M19 111h1M25 111h2M43 111h1M113 111h1M40 112h1M95 112h1M1 113h1M10 113h1M33 113h2M38 113h2M86 113h1M90 113h1M102 113h1M105 113h1M109 113h1M111 113h1M24 114h1M83 114h1M85 114h1M87 114h1M3 115h1M6 115h3M23 115h1M30 115h1M37 115h1M85 115h1M87 115h1M92 115h1M95 115h1M100 115h1M102 115h1M104 115h1M106 115h1M116 115h1M20 116h1M29 116h1M42 116h1M98 116h1M115 116h1M3 117h2M4 118h1M9 118h1M14 118h1M24 118h2M68 118h1M107 118h1M133 118h1M149 118h1M12 119h1M19 119h1M24 119h1M26 119h1M0 120h1M4 120h1M2 121h1M81 121h1M88 121h1M110 121h1M20 122h1M26 122h1M11 123h1M9 124h1M133 124h1M13 125h1M46 125h1M146 125h1M33 126h1M35 126h2M104 126h1M0 127h1M6 127h1M17 127h1M20 127h2M33 127h1M86 127h1M45 128h2M71 128h1M73 128h1M137 128h1M142 128h1M46 129h1M70 129h1M157 129h2M16 130h1M96 130h1M152 130h1M40 131h1M54 131h1M72 131h1M75 131h1M146 131h1M6 132h1M33 132h1M38 132h1M40 132h1M105 132h1M153 132h1M10 133h1M13 133h1M17 133h1M30 133h1M37 133h1M109 133h1M118 133h1M124 133h1M16 134h1M35 134h1M146 134h1M157 134h1M1 135h1M6 135h1M21 135h1M73 135h1M77 135h1M100 135h1M102 135h1M144 135h1M3 136h1M6 136h1M15 136h1M22 136h2M36 136h1M41 136h2M70 136h1M75 136h1M90 136h1M105 136h1M34 137h1M38 137h1M46 137h1M73 137h1M128 137h1M1 138h1M40 138h1M46 138h1M54 138h1M72 138h1M79 138h1M97 138h1M46 139h1M70 139h1M74 139h1M1 140h1M32 140h1M42 140h1M72 140h1M86 140h1M97 140h1M23 141h1M44 141h1M102 141h1M106 141h1M36 142h1M128 142h1M158 142h1M33 143h1M35 143h1M54 143h1M75 143h1M40 144h1M53 144h1M65 144h1M135 144h1M152 144h2M159 144h1M46 145h1M77 145h1M60 146h1M64 146h1M74 146h1M125 146h1M131 146h1M134 146h1M150 146h1M154 146h1M47 147h1M52 147h1M58 147h1M61 147h1M67 147h2M154 147h1M33 148h1M73 148h1M75 148h1M153 148h1M7 149h2M28 149h1M75 149h1M94 149h1M96 149h1M99 149h1M101 149h1M118 149h1M8 150h1M13 150h1M21 150h1M23 150h1M32 150h1M34 150h1M41 150h1M44 150h1M104 150h1M146 150h1M2 151h1M7 151h1M10 151h1M21 151h1M39 151h1M72 151h1M101 151h1M16 152h1M55 152h1M130 152h1M144 152h1M16 153h1M76 153h1M132 153h1M144 153h1M148 153h1M22 154h2M33 154h1M90 154h1M146 154h2M35 155h2M38 155h1M70 155h1M90 155h1M105 155h1M1 156h1M40 156h1M79 156h1M58 157h1M73 157h1M129 157h1M134 157h1M10 158h1M16 158h1M35 158h1M129 158h1M142 158h1M41 159h1M54 159h1M144 159h1"/>
<path stroke="#87ff77" stroke-width="1" d="M2 0h1M12 0h1M14 0h1M17 0h1M29 0h1M83 0h1M93 0h1M110 0h1M123 0h1M11 1h1M19 1h1M26 1h1M48 1h1M132 1h1M136 1h1M151 1h1M0 2h1M39 2h1M42 2h1M122 2h1M11 3h1M19 3h1M48 3h1M57 3h1M67 3h2M87 3h1M95 3h1M98 3h1M111 3h1M127 3h1M6 4h1M22 4h2M33 4h1M99 4h1M102 4h1M105 4h1M109 4h1M16 5h1M82 5h1M4 6h1M19 6h1M26 6h1M47 6h1M52 6h1M103 6h1M110 6h1M149 6h1M11 7h2M25 7h2M78 7h1M140 7h1M14 8h1M24 8h1M114 8h1M41 9h1M101 9h1M24 10h2M57 10h1M68 10h1M78 10h1M115 10h1M135 10h1M1 11h1M3 11h1M7 11h1M17 11h1M30 11h1M39 11h1M44 11h1M82 11h1M93 11h1M99 11h1M106 11h1M111 11h1M116 11h2M124 11h1M0 12h1M7 12h1M17 12h2M31 12h1M44 12h1M80 12h1M88 12h1M92 12h2M99 12h1M101 12h1M111 12h1M14 13h1M25 13h1M29 13h1M67 13h1M76 13h1M113 13h1M149 13h1M0 14h1M8 14h1M13 14h1M87 14h1M96 14h1M99 14h1M108 14h1M120 14h1M27 15h1M48 15h1M115 15h1M120 15h1M140 15h2M159 15h1M5 16h1M59 16h2M69 16h1M77 16h1M129 16h1M142 16h1M159 16h1M0 17h1M11 17h2M24 17h1M47 17h1M55 17h1M57 17h1M78 17h1M115 17h1M12 18h1M24 18h1M30 18h1M68 18h1M78 18h1M106 18h1M1 19h1M3 19h1M6 19h1M39 19h1M80 19h1M82 19h1M85 19h1M91 19h1M114 19h1M23 20h1M27 20h1M29 20h1M43 20h1M95 20h1M106 20h1M110 20h1M123 20h1M47 21h1M78 21h1M122 21h1M136 21h1M154 21h1M4 22h1M24 22h1M50 22h1M81 22h1M115 22h1M126 22h1M4 23h1M20 23h1M24 23h2M29 23h1M43 23h1M78 23h1M8 24h1M10 24h1M17 24h2M22 24h2M33 24h1M36 24h1M38 24h1M44 24h1M99 24h1M105 24h1M7 25h1M10 25h1M13 25h1M23 25h1M30 25h1M35 25h1M38 25h1M85 25h1M92 25h1M101 25h1M124 25h1M1 26h1M6 26h2M31 26h2M34 26h1M92 26h1M124 26h1M15 27h1M20 27h1M87 27h2M99 27h1M103 27h1M136 27h1M31 28h1M67 28h1M106 28h1M0 29h1M13 29h1M20 29h1M23 29h1M32 29h1M36 29h1M86 29h1M97 29h1M102 29h1M111 29h1M118 29h1M121 29h1M11 30h1M18 30h1M25 30h1M78 30h1M106 30h1M132 30h1M141 30h1M12 31h1M26 31h1M28 31h1M43 31h1M83 31h1M93 31h1M117 31h1M26 32h1M29 32h1M43 32h1M58 32h1M68 32h1M83 32h1M113 32h1M120 32h1M127 32h1M155 32h1M4 33h1M24 33h1M48 33h1M52 33h1M60 33h1M115 33h1M130 33h1M136 33h1M150 33h1M155 33h1M26 34h1M43 34h1M47 34h2M50 34h1M52 34h1M64 34h1M67 34h1M78 34h1M81 34h1M112 34h1M151 34h1M25 35h1M43 35h1M47 35h1M140 35h1M24 36h1M29 36h1M48 36h1M56 36h1M62 36h1M67 36h1M71 36h1M132 36h1M135 36h1M143 36h1M151 36h1M156 36h1M159 36h1M83 37h1M88 37h1M130 37h1M136 37h1M24 38h2M133 38h1M154 38h1M2 39h1M11 39h1M19 39h1M43 39h1M52 39h1M68 39h1M127 39h1M135 39h1M141 39h1M148 39h1M150 39h1M61 40h1M137 40h1M152 40h1M155 40h1M158 40h1M9 41h1M47 41h1M50 41h1M53 41h1M60 41h1M64 41h1M68 41h1M107 41h1M125 41h2M130 41h1M134 41h1M156 41h1M2 42h1M55 42h1M68 42h1M93 42h1M115 42h1M125 42h1M20 43h1M23 43h1M31 43h2M34 43h2M39 43h1M82 43h1M97 43h1M99 43h2M102 43h3M108 43h1M119 43h1M122 43h1M11 44h2M24 44h1M98 44h1M53 45h2M70 45h1M49 46h1M62 46h1M71 46h1M158 46h1M6 47h1M17 47h1M21 47h1M34 47h2M41 47h1M72 47h1M131 47h1M142 47h1M1 48h1M3 48h1M15 48h1M33 48h2M36 48h1M53 48h1M46 49h1M142 49h1M149 49h1M153 49h1M22 50h1M34 50h1M41 50h1M69 50h1M80 50h1M53 51h2M77 51h1M142 51h1M144 51h1M157 51h1M6 52h1M33 52h2M39 52h1M41 53h1M45 53h1M48 53h1M51 53h1M54 53h1M73 53h1M79 53h1M146 53h1M45 54h1M51 54h1M53 54h1M129 54h2M134 54h1M158 54h1M17 55h1M42 55h1M128 55h1M142 55h1M144 55h1M36 56h1M75 56h1M77 56h1M3 57h1M10 57h1M17 57h1M124 57h1M146 57h1M32 58h1M62 58h1M77 58h1M128 58h1M144 58h1M146 58h1M16 59h1M16 60h1M33 60h1M41 60h1M80 60h1M153 60h1M40 61h1M36 62h1M46 62h1M58 62h1M144 62h1M153 62h1M77 63h1M145 63h1M34 64h1M41 64h1M73 64h1M75 64h1M128 65h1M131 65h1M135 65h1M138 65h1M152 65h1M159 65h1M69 66h1M79 66h1M138 66h1M144 66h1M152 66h2M3 67h1M13 67h1M28 67h1M34 67h1M36 67h1M90 67h1M3 68h1M10 68h1M18 68h1M32 68h1M39 68h1M41 68h2M75 68h1M86 68h1M100 68h1M16 69h1M50 69h1M66 69h1M71 69h1M142 69h1M157 69h1M45 70h1M130 70h1M152 70h2M36 71h1M46 71h1M69 71h1M153 71h1M47 72h1M78 72h1M135 72h1M150 72h1M159 72h1M53 73h1M64 73h1M136 73h1M138 73h1M142 73h1M145 73h1M150 73h1M155 73h1M56 75h1M64 75h1M68 75h1M127 75h1M135 75h1M154 75h1M156 75h1M13 76h1M144 76h1M16 77h1M51 77h1M56 77h1M58 77h1M63 77h1M126 77h1M134 77h1M138 77h1M144 77h1M156 77h1M158 77h1M7 78h1M10 78h1M17 78h2M21 78h1M23 78h1M30 78h1M34 78h1M72 78h1M144 78h1M53 79h1M66 79h1M135 79h1M155 79h1M12 80h1M19 80h1M50 80h1M60 80h1M133 80h1M150 80h1M159 80h1M22 81h1M34 81h1M100 81h1M115 81h1M5 82h1M11 82h1M19 82h1M43 82h1M115 82h1M133 82h1M148 82h1M0 83h1M31 83h2M37 83h1M88 83h1M93 83h1M120 83h1M122 83h1M90 84h1M19 85h1M25 85h1M123 85h1M29 86h1M68 86h1M151 86h1M154 86h1M3 87h1M14 87h1M27 87h1M106 87h1M109 87h2M12 88h1M27 88h1M37 88h1M83 88h1M98 88h1M102 88h1M109 88h2M105 89h1M67 90h1M84 90h1M132 90h1M141 90h1M19 91h1M12 92h1M25 92h2M117 92h1M135 92h1M0 93h1M11 93h2M31 93h1M42 93h1M83 93h1M111 93h1M123 94h1M133 94h1M3 95h1M20 95h1M98 95h1M114 95h1M116 95h1M14 96h1M98 96h1M114 96h2M141 96h1M29 97h1M43 97h1M114 97h2M3 98h1M44 98h1M88 98h1M95 98h2M103 98h1M114 98h2M117 98h1M4 99h1M11 99h2M14 99h1M24 99h1M27 99h1M43 99h1M113 99h1M117 99h1M135 99h1M43 100h1M68 100h1M81 100h1M9 101h1M12 101h1M25 101h1M115 101h1M132 101h1M4 102h1M29 102h1M43 102h1M88 102h1M6 103h1M27 103h1M43 103h1M98 103h1M106 103h1M43 104h1M4 105h1M24 105h1M89 105h1M140 105h2M11 106h1M18 106h1M20 106h1M28 106h1M30 106h1M87 106h1M103 106h1M41 107h1M14 108h1M43 108h1M120 108h1M4 109h1M87 109h2M141 109h1M0 110h1M6 110h1M20 110h1M87 110h2M111 110h1M3 111h1M11 111h2M29 111h1M93 111h1M110 111h1M115 111h1M141 111h1M34 112h1M124 112h1M13 113h1M32 113h1M99 113h1M119 113h1M8 114h1M19 114h1M95 114h4M123 114h1M141 114h1M10 115h1M15 115h1M17 115h1M22 115h1M33 115h1M42 115h1M81 115h2M96 115h3M101 115h1M111 115h1M123 115h1M11 116h1M95 116h1M120 116h1M11 117h1M31 117h1M92 117h1M98 117h2M29 118h1M43 119h1M113 119h1M14 120h2M32 120h1M83 120h1M108 120h1M116 120h1M121 120h2M29 121h1M120 121h1M2 122h1M21 122h1M43 122h1M83 122h1M120 122h1M0 123h1M20 123h1M85 123h1M94 123h1M114 123h2M11 124h1M25 124h2M57 124h1M112 124h1M127 124h1M41 125h2M22 126h1M41 126h1M77 126h1M144 126h1M3 127h1M32 127h1M39 127h1M75 127h1M124 127h1M157 127h1M55 128h1M58 128h1M65 128h1M16 129h1M54 129h1M139 129h1M144 129h1M33 130h1M37 130h1M41 130h1M54 130h1M70 130h1M153 130h1M47 131h1M65 131h1M144 131h1M153 131h1M1 132h1M30 132h1M36 132h1M90 132h1M101 132h1M38 133h1M80 133h1M82 133h1M94 133h1M41 134h1M54 134h1M77 134h1M144 134h1M153 134h1M10 135h1M36 135h1M39 135h1M65 135h1M72 135h1M75 135h1M79 135h1M92 135h1M99 135h1M138 135h1M1 136h1M21 136h1M27 136h1M33 136h1M37 136h1M73 136h1M40 137h1M145 137h1M65 138h2M73 138h1M77 138h1M135 138h1M144 138h1M129 139h1M145 139h1M159 139h1M7 140h1M15 140h1M35 140h1M105 140h1M146 140h1M157 140h1M15 141h1M30 141h1M39 141h1M90 141h1M96 141h1M105 141h1M109 141h1M111 141h1M114 141h1M147 141h1M16 142h1M47 142h1M49 142h1M51 142h1M55 142h1M69 142h1M73 142h1M36 143h1M153 143h1M51 144h1M55 144h1M58 144h1M62 144h1M66 144h1M76 144h3M126 144h1M129 144h1M131 144h1M134 144h1M138 144h1M150 144h1M63 145h1M73 145h1M137 145h1M139 145h1M153 145h1M53 146h1M57 146h2M140 146h1M141 147h1M39 148h1M82 148h1M6 149h1M13 149h1M49 149h1M33 150h1M39 150h1M72 150h2M80 150h1M144 150h1M1 151h1M34 151h1M36 151h1M86 151h1M40 152h1M65 152h2M70 152h1M49 153h1M60 153h1M62 153h1M66 153h1M70 153h2M130 153h2M134 153h1M143 153h1M145 153h1M157 153h1M21 154h1M38 154h1M75 154h1M86 154h1M32 155h2M40 155h1M73 155h1M79 155h1M36 156h1M41 156h1M75 156h1M77 156h1M51 157h1M69 157h1M127 157h1M140 157h1M153 157h1M40 158h1M46 158h1M54 158h1M77 158h1M15 159h2M36 159h1M65 159h1M72 159h1M80 159h1M139 159h1"/>
<path stroke="#97ff67" stroke-width="1" d="M20 0h2M31 0h1M34 0h1M44 0h1M81 0h1M94 0h1M99 0h1M106 0h1M114 0h1M4 1h1M68 1h1M7 2h1M12 2h1M15 2h1M17 2h1M28 2h1M32 2h1M34 2h1M37 2h1M87 2h1M93 2h2M100 2h2M103 2h2M106 2h1M110 2h1M114 2h1M116 2h1M119 2h1M123 2h1M18 3h1M26 3h1M29 3h1M43 3h1M121 3h1M1 4h1M36 4h1M86 4h1M124 4h1M25 6h1M100 6h1M114 6h1M116 6h1M2 7h1M18 7h1M98 7h1M103 7h1M108 7h1M110 7h1M117 7h1M20 8h1M81 8h1M99 8h1M103 8h1M105 8h2M119 8h1M121 8h1M154 8h1M33 9h1M12 10h1M19 10h2M26 10h1M29 10h1M43 10h1M83 10h1M98 10h1M13 11h1M40 11h1M88 11h1M91 11h1M97 11h1M104 11h1M2 12h1M10 12h1M20 12h1M37 12h1M100 12h1M102 12h1M106 12h1M118 12h1M122 12h1M124 12h1M11 13h1M19 13h1M44 13h1M47 13h1M50 13h1M115 13h1M136 13h1M30 14h2M38 14h1M85 14h1M92 14h1M102 14h1M109 14h1M111 14h1M116 14h2M122 14h1M2 15h1M29 15h1M43 15h1M57 15h1M68 15h1M81 15h1M98 15h1M154 15h1M45 16h1M49 16h1M51 16h2M62 16h2M66 16h1M71 16h1M89 16h1M131 16h1M145 16h1M2 17h1M19 17h1M29 17h1M68 17h1M94 17h1M119 17h1M121 17h1M3 18h1M7 18h1M26 18h1M29 18h1M43 18h1M81 18h1M93 18h1M116 18h1M118 18h1M121 18h1M123 18h1M141 18h1M10 19h1M13 19h1M17 19h1M34 19h1M41 19h1M90 19h1M97 19h1M104 19h1M0 20h1M8 20h1M10 20h1M12 20h1M22 20h1M30 20h1M39 20h1M42 20h1M97 20h1M104 20h1M111 20h1M0 21h1M43 21h1M49 21h1M63 21h1M71 21h1M88 21h1M123 21h1M133 21h1M156 21h1M20 22h1M87 22h1M116 22h1M123 22h1M141 22h1M68 23h1M88 23h1M94 23h1M28 24h1M96 24h1M104 24h1M6 25h1M34 25h1M39 25h1M90 25h1M96 25h1M116 25h1M3 26h1M10 26h1M18 26h1M27 26h1M35 26h1M42 26h1M80 26h1M85 26h1M90 26h1M95 26h1M97 26h1M100 26h1M116 26h1M26 27h1M44 27h1M82 27h2M85 27h1M122 27h1M2 28h1M24 28h1M68 28h1M85 28h1M97 28h1M121 28h1M132 28h1M3 29h1M10 29h1M15 29h1M17 29h2M30 29h1M34 29h2M37 29h1M39 29h1M80 29h1M88 29h1M92 29h1M95 29h1M100 29h1M104 29h1M106 29h1M108 29h1M117 29h1M119 29h1M123 29h1M14 30h1M20 30h1M29 30h1M57 30h1M88 30h1M93 30h1M108 30h1M118 30h1M151 30h1M0 31h1M14 31h1M81 31h1M88 31h1M98 31h1M100 31h1M106 31h1M114 31h1M2 32h1M81 32h1M121 32h1M135 32h1M9 33h1M57 33h1M78 33h1M112 33h1M140 33h1M149 33h1M0 34h1M2 34h1M19 34h1M25 34h1M29 34h1M115 34h1M132 34h1M141 34h1M26 35h1M29 35h1M49 35h1M52 35h1M57 35h1M81 35h1M89 35h1M120 35h1M4 36h1M64 36h1M133 36h1M137 36h2M148 36h1M154 36h1M2 37h1M12 37h1M29 37h1M43 37h1M92 37h2M98 37h1M109 37h1M121 37h1M14 38h1M64 38h1M68 38h1M88 38h1M120 38h1M20 39h1M25 39h1M29 39h1M130 39h1M133 39h1M11 40h1M50 40h1M74 40h1M78 40h1M89 40h1M128 40h1M134 40h1M148 40h1M19 41h1M89 41h1M132 41h1M137 41h1M140 41h1M143 41h1M151 41h1M155 41h1M20 42h1M26 42h1M117 42h1M126 42h1M3 43h1M10 43h1M15 43h1M18 43h1M21 43h1M37 43h1M96 43h1M117 43h1M124 43h1M0 44h1M13 44h1M27 44h1M91 44h1M93 44h1M97 44h1M110 44h1M114 44h1M16 45h1M69 45h1M77 45h1M55 46h1M63 46h1M141 46h1M152 46h2M155 46h1M157 46h1M13 47h1M75 47h1M55 48h1M75 48h1M77 48h1M104 48h1M16 49h1M21 49h1M35 49h1M69 49h1M73 49h1M79 49h1M137 49h1M145 49h1M13 50h1M40 50h1M72 50h1M77 50h1M16 51h1M70 51h1M128 51h1M134 51h1M145 51h1M16 52h1M35 52h1M146 52h1M139 53h1M153 53h1M55 54h1M61 54h3M65 54h1M78 54h1M126 54h1M140 54h1M142 54h1M148 54h2M46 55h1M48 55h1M54 55h1M65 55h1M71 55h1M159 55h1M58 56h1M69 56h1M73 56h1M144 56h1M15 57h1M30 57h1M33 57h1M35 57h1M56 58h1M73 58h1M131 58h1M137 58h1M152 58h2M65 59h1M70 59h1M73 59h2M78 59h2M144 59h1M156 59h1M158 59h1M77 60h1M54 61h1M62 61h1M70 61h1M144 61h1M146 61h1M153 61h1M16 62h1M54 62h1M61 62h1M63 62h1M138 62h2M143 62h1M159 62h1M16 63h1M21 63h1M46 63h1M54 63h1M62 63h1M66 63h1M142 63h1M153 63h1M155 63h1M36 64h1M38 64h1M144 64h1M158 64h1M54 65h2M59 65h1M155 65h1M158 65h1M16 66h1M63 66h1M70 66h1M156 66h1M1 68h1M15 68h1M17 68h1M23 68h1M28 68h1M38 68h1M72 68h1M97 68h1M146 68h1M153 68h1M45 69h1M49 69h1M56 69h1M134 69h1M137 69h1M152 69h1M51 70h1M59 70h1M61 70h1M66 70h1M74 70h1M125 70h1M127 70h1M131 70h1M135 70h1M145 70h1M154 70h1M16 71h1M21 71h1M55 71h1M137 71h1M142 71h1M144 71h1M50 72h1M68 72h1M133 72h1M136 72h2M156 72h1M49 73h1M56 73h1M58 73h2M78 73h1M125 73h1M130 73h1M139 73h1M40 74h1M59 74h1M70 74h1M144 74h1M47 75h2M78 75h1M132 75h2M151 75h1M155 75h1M77 76h1M133 76h1M45 77h1M48 77h1M50 77h1M60 77h1M76 77h1M143 77h1M157 77h1M33 78h1M40 78h1M54 78h1M59 78h1M73 78h1M75 78h1M49 79h1M59 79h1M128 79h1M136 79h1M139 79h1M143 79h1M146 79h1M149 79h1M154 79h1M26 80h1M29 80h1M107 80h1M113 80h1M135 80h1M0 81h1M8 81h1M15 81h1M18 81h1M31 81h2M35 81h1M83 81h1M87 81h1M93 81h1M111 81h1M114 81h1M119 81h1M27 82h1M10 83h1M27 83h1M81 83h1M110 83h1M116 83h1M123 83h1M14 85h1M26 85h3M87 85h1M92 85h1M4 86h1M133 86h1M141 86h1M2 87h1M22 87h1M81 87h1M85 87h1M94 87h1M97 87h1M108 87h1M117 87h2M11 88h1M21 88h1M23 88h1M29 88h3M38 88h1M114 88h1M16 89h1M35 89h1M40 89h2M19 90h1M25 90h2M11 91h1M44 91h1M93 91h1M115 91h1M120 91h1M141 91h1M14 92h1M29 92h1M37 92h1M85 92h1M114 92h1M121 92h1M2 93h1M18 93h1M30 93h1M37 93h1M44 93h1M81 93h1M91 93h1M96 93h1M109 93h1M114 93h1M120 93h1M123 93h1M0 94h1M2 94h1M17 94h1M23 94h1M87 94h1M103 94h1M113 94h1M115 94h1M122 94h1M26 95h1M29 95h1M121 95h1M24 96h2M43 96h1M93 96h1M121 96h1M123 96h1M11 97h1M19 97h2M26 97h1M28 97h1M44 97h1M68 97h1M87 97h1M121 97h1M7 98h1M10 98h1M15 98h1M31 98h1M37 98h1M102 98h1M104 98h2M108 98h3M0 99h1M8 99h1M2 100h1M6 100h1M12 100h1M26 100h1M29 100h1M31 100h1M2 101h1M110 101h1M127 101h1M135 101h2M12 102h1M14 102h1M98 102h1M114 102h1M151 102h1M2 103h1M7 103h2M94 103h1M110 103h1M114 103h1M2 104h1M11 104h1M19 104h2M24 104h1M29 104h1M48 104h1M98 104h1M106 104h1M113 104h1M133 104h1M8 105h1M98 105h1M115 105h1M119 105h1M0 106h1M2 106h1M8 106h1M12 106h1M29 106h1M31 106h1M104 106h1M114 106h1M116 106h1M121 106h1M123 106h1M80 107h1M7 108h1M29 108h2M87 108h1M98 108h1M123 108h1M141 108h1M14 109h1M37 109h1M93 109h1M98 109h1M2 110h1M7 110h1M44 110h1M83 110h1M98 110h1M101 110h1M103 110h1M116 110h2M14 111h1M20 111h1M81 111h1M33 112h1M80 113h1M94 113h1M104 113h1M0 114h1M2 114h1M6 114h1M31 114h1M44 114h1M81 114h1M88 114h1M92 114h2M102 114h2M106 114h1M13 115h1M34 115h1M91 115h1M94 115h1M105 115h1M118 115h1M124 115h1M2 116h1M6 116h1M14 116h1M18 116h1M22 116h1M25 116h2M83 116h1M106 116h1M110 116h1M122 116h1M7 117h1M14 117h1M29 117h1M42 117h2M87 117h1M110 117h1M121 117h1M12 118h1M18 118h1M30 118h1M87 118h1M115 118h1M2 119h1M8 119h1M17 119h1M29 119h1M81 119h1M105 119h1M35 120h1M38 120h1M91 120h1M93 120h1M3 121h1M8 121h1M17 121h2M28 121h1M32 121h1M37 121h1M92 121h1M95 121h3M106 121h1M117 121h1M12 122h1M14 122h1M27 122h1M94 122h1M116 122h1M2 123h1M18 123h1M21 123h2M29 123h1M83 123h1M93 123h1M96 123h1M106 123h1M108 123h1M124 123h1M4 124h1M12 124h1M43 124h1M115 124h1M123 124h1M141 124h1M70 125h1M73 125h1M42 126h1M54 126h1M139 126h1M157 126h1M70 127h1M101 127h1M40 128h1M51 128h1M79 128h1M138 128h2M153 128h1M155 128h1M157 128h1M130 129h2M153 129h1M156 129h1M39 130h1M73 130h1M129 130h1M142 130h1M16 131h1M58 131h1M70 131h1M129 131h1M143 131h1M28 132h1M34 132h1M41 132h1M75 132h1M146 132h1M21 133h1M36 133h1M39 133h1M72 133h1M75 133h2M86 133h1M104 133h1M152 133h1M40 134h1M51 134h1M69 134h1M139 134h1M32 135h1M70 135h1M80 135h1M101 135h1M13 136h1M72 136h1M79 136h1M101 136h1M144 136h1M36 137h1M41 137h1M49 137h1M58 137h1M69 137h1M71 137h2M153 137h1M157 137h1M36 138h1M62 138h1M128 138h1M139 138h1M145 138h1M53 139h1M62 139h1M73 139h1M79 139h1M126 139h1M128 139h1M134 139h1M138 139h1M154 139h1M33 140h1M41 140h1M54 140h1M142 140h1M144 140h1M18 141h1M22 141h1M34 141h1M46 141h1M86 141h1M91 141h1M108 141h1M124 141h1M54 142h1M63 142h1M71 142h1M130 142h1M140 142h1M145 142h1M157 142h1M41 143h1M62 143h1M77 143h1M79 143h1M131 143h1M144 143h1M56 144h1M59 144h1M61 144h1M64 144h1M71 144h1M74 144h1M136 144h1M140 144h1M143 144h1M151 144h1M156 144h1M16 145h1M49 145h1M51 145h1M70 145h1M138 145h1M142 145h1M156 145h1M52 146h1M61 146h1M68 146h1M79 146h1M132 146h1M148 146h1M36 148h1M40 148h1M54 148h1M146 148h1M33 149h1M54 149h1M79 149h1M30 151h1M41 151h1M75 151h1M102 151h1M144 151h1M46 152h1M58 152h1M69 152h1M133 152h1M157 152h1M159 152h1M46 153h1M53 153h1M58 153h1M61 153h1M63 153h1M68 153h1M128 153h2M137 153h1M158 153h2M8 154h1M15 154h1M36 154h1M70 154h1M79 154h1M139 154h1M41 155h1M46 155h1M63 155h1M65 155h1M75 155h1M128 155h1M21 156h1M59 156h1M66 156h1M72 156h1M129 156h1M144 156h2M46 157h1M77 157h1M126 157h1M128 157h1M137 157h1M142 157h1M152 157h1M59 158h1M64 158h2M153 158h1M55 159h1M62 159h1M152 159h2"/>
<path stroke="#a7ff57" stroke-width="1" d="M6 0h1M11 0h1M13 0h1M18 0h1M30 0h1M33 0h1M85 0h1M100 0h1M103 0h1M108 0h1M111 0h1M122 0h1M2 1h1M61 1h1M103 1h1M106 1h1M121 1h2M141 1h1M1 2h1M3 2h1M6 2h1M8 2h1M27 2h1M30 2h2M82 2h1M86 2h1M88 2h1M91 2h2M118 2h1M2 3h1M27 3h1M93 3h1M103 3h1M114 3h1M118 3h1M123 3h1M35 4h1M0 6h1M2 6h1M12 6h1M24 6h1M81 6h1M87 6h2M92 6h2M96 6h1M98 6h1M106 6h1M109 6h1M10 7h1M15 7h1M30 7h1M88 7h1M93 7h1M104 7h1M106 7h1M120 7h1M141 7h1M2 8h1M13 8h1M23 8h1M28 8h1M35 8h1M85 8h1M90 8h1M92 8h1M96 8h1M122 8h2M36 9h1M7 10h1M92 10h1M103 10h1M120 10h1M0 11h1M15 11h1M28 11h1M33 11h1M38 11h1M92 11h1M95 11h2M109 11h1M6 12h1M15 12h1M21 12h3M28 12h1M32 12h1M39 12h1M91 12h1M96 12h2M104 12h1M108 12h1M114 12h1M0 13h1M8 13h1M26 13h1M57 13h1M81 13h1M98 13h1M127 13h1M130 13h1M22 14h1M33 14h2M44 14h1M86 14h1M95 14h1M98 14h1M101 14h1M104 14h1M114 14h1M121 14h1M123 14h1M7 15h1M11 15h2M25 15h1M85 15h1M87 15h1M106 15h1M108 15h1M110 15h1M122 15h1M64 16h1M138 16h1M155 16h2M34 17h1M81 17h1M85 17h1M88 17h1M93 17h1M98 17h1M114 17h1M122 17h1M0 18h1M20 18h1M22 18h1M27 18h1M85 18h1M87 18h1M92 18h1M108 18h1M114 18h1M117 18h1M119 18h1M122 18h1M33 19h1M100 19h1M18 20h1M32 20h1M83 20h1M88 20h1M96 20h1M108 20h1M117 20h3M121 20h1M12 21h1M25 21h2M57 21h1M132 21h1M12 22h1M14 22h1M18 22h1M26 22h1M93 22h1M100 22h1M117 22h1M8 23h1M12 23h1M31 23h1M83 23h1M93 23h1M97 23h1M103 23h1M114 23h1M118 23h1M120 23h2M6 24h1M37 24h1M41 24h1M91 24h1M15 25h1M21 25h1M32 25h1M40 25h1M13 26h1M21 26h2M33 26h1M36 26h1M39 26h1M91 26h1M105 26h1M109 26h1M117 26h1M2 27h2M18 27h1M81 27h1M92 27h2M105 27h2M110 27h1M120 27h1M8 28h1M11 28h2M81 28h1M93 28h1M98 28h1M110 28h1M114 28h1M119 28h1M141 28h1M42 29h1M83 29h1M91 29h1M94 29h1M99 29h1M0 30h1M2 30h1M7 30h1M43 30h1M81 30h1M111 30h1M120 30h1M2 31h1M23 31h1M37 31h1M41 31h1M44 31h1M82 31h1M85 31h1M96 31h1M101 31h1M103 31h1M108 31h1M12 32h1M20 32h1M25 32h1M98 32h1M115 32h1M0 33h1M11 33h1M14 33h1M19 33h1M26 33h1M47 33h1M56 33h1M133 33h1M156 33h1M14 34h1M17 34h1M85 34h1M110 34h1M122 34h1M127 34h1M135 34h1M154 34h1M4 35h1M8 35h1M115 35h1M122 35h1M141 35h1M9 36h1M26 36h1M68 36h1M113 36h1M127 36h1M150 36h1M24 37h1M31 37h1M111 37h1M120 37h1M122 37h1M11 38h1M87 38h1M110 38h1M115 38h1M141 38h1M12 39h1M26 39h1M117 39h1M25 40h1M48 40h1M55 40h1M57 40h1M60 40h1M68 40h1M125 40h1M127 40h1M130 40h1M133 40h1M140 40h1M24 41h1M31 41h1M57 41h1M61 41h1M71 41h1M78 41h1M98 41h1M115 41h1M133 41h1M152 41h1M29 42h1M81 42h1M92 42h1M98 42h1M106 42h1M141 42h1M30 43h1M101 43h1M105 43h1M14 44h1M31 44h1M81 44h1M85 44h1M87 44h1M106 44h1M108 44h1M111 44h1M116 44h1M123 44h1M46 45h1M49 45h1M58 45h2M125 45h1M138 45h1M142 45h1M45 46h1M52 46h1M58 46h1M130 46h1M133 46h1M140 46h1M143 46h1M148 46h1M154 46h1M33 47h1M79 47h1M143 47h1M146 47h1M40 48h1M65 48h1M144 48h1M146 48h1M45 49h1M51 49h1M58 49h1M61 49h1M129 49h1M139 49h1M54 50h1M58 50h1M142 50h1M156 50h1M49 51h1M63 51h1M65 51h1M130 51h1M150 51h1M153 51h1M46 52h1M153 52h1M157 52h1M77 53h1M136 53h1M50 54h1M58 54h1M71 54h1M135 54h1M145 54h1M155 54h1M157 54h1M40 55h1M56 55h1M58 55h2M69 55h1M73 55h2M79 55h1M33 56h1M55 56h1M62 56h1M65 56h1M79 56h1M131 56h1M152 56h2M158 56h1M13 57h1M21 57h1M40 57h2M75 57h1M45 58h2M49 58h2M54 58h2M65 58h2M69 58h2M139 58h1M142 58h2M159 58h1M45 59h1M55 59h1M128 59h1M143 59h1M152 59h2M40 60h1M70 60h1M79 60h1M144 60h2M1 61h1M41 61h1M49 61h1M138 61h1M142 61h1M56 62h1M73 62h1M158 62h1M51 63h1M69 63h2M125 63h2M128 63h2M139 63h1M144 63h1M159 63h1M16 64h1M70 64h1M153 64h1M48 65h1M51 65h1M56 65h1M58 65h1M76 65h1M136 65h2M149 65h1M154 65h1M156 65h1M58 66h1M129 66h1M134 66h1M139 66h1M75 67h1M146 67h1M36 68h1M40 68h1M69 68h1M55 69h1M58 69h1M63 69h1M68 69h1M126 69h2M132 69h2M154 69h1M156 69h1M58 70h1M60 70h1M63 70h2M76 70h1M78 70h1M134 70h1M137 70h1M140 70h1M142 70h1M149 70h1M158 70h1M41 71h1M54 71h1M73 71h1M152 71h1M55 73h1M62 73h1M71 73h1M126 73h1M129 73h1M134 73h1M151 73h1M158 73h1M55 74h1M77 74h1M151 74h1M159 74h1M57 75h1M67 75h1M130 75h1M65 76h1M70 76h1M126 76h1M129 76h1M145 76h1M53 77h1M74 77h1M128 77h2M132 77h1M140 77h1M142 77h1M150 77h1M159 77h1M41 78h1M70 78h1M137 78h1M142 78h1M153 78h1M157 78h1M47 79h1M55 79h2M60 79h1M131 79h1M134 79h1M141 79h1M159 79h1M83 80h1M115 80h1M141 80h1M151 80h1M6 81h1M13 81h1M17 81h1M27 81h2M30 81h1M42 81h1M44 81h1M91 81h1M94 81h1M96 81h1M106 81h1M108 81h1M110 81h1M116 81h2M122 81h3M2 82h1M31 82h1M93 82h1M108 82h1M141 82h1M20 83h1M23 83h1M29 83h1M80 83h1M85 83h1M91 83h2M100 83h1M103 83h1M121 83h1M0 85h1M8 85h1M15 85h1M17 85h2M31 85h1M34 85h1M44 85h1M83 85h1M86 85h1M103 85h1M106 85h1M109 85h2M122 85h1M2 86h1M14 86h1M85 86h1M88 86h2M115 86h1M120 86h1M6 87h1M15 87h1M18 87h1M38 87h1M44 87h1M88 87h1M92 87h2M99 87h1M121 87h1M2 88h1M6 88h2M17 88h1M20 88h1M86 88h2M92 88h1M103 88h1M111 88h1M116 88h2M86 89h1M8 90h1M151 90h1M2 91h1M12 91h1M24 91h1M26 91h1M29 91h1M81 91h1M83 91h1M103 91h1M121 91h2M2 92h1M6 92h1M8 92h1M10 92h2M18 92h1M27 92h1M42 92h1M83 92h1M87 92h2M93 92h2M96 92h1M110 92h1M3 93h1M6 93h2M17 93h1M22 93h2M27 93h2M82 93h1M87 93h1M92 93h1M95 93h1M100 93h1M105 93h1M119 93h1M121 93h2M29 94h1M81 94h1M92 94h1M98 94h1M119 94h1M11 95h1M14 95h1M93 95h1M6 96h1M8 96h1M11 96h2M20 96h1M31 96h1M81 96h1M92 96h1M103 96h1M108 96h1M12 97h1M23 97h1M6 98h1M13 98h2M17 98h1M28 98h1M32 98h1M41 98h2M94 98h1M101 98h1M118 98h1M124 98h1M29 99h1M87 99h1M141 99h1M0 100h1M19 100h1M22 100h1M83 100h1M93 100h1M120 100h1M14 101h1M31 101h1M43 101h1M98 101h1M120 102h1M0 103h2M3 103h1M10 103h1M23 103h1M31 103h1M83 103h1M85 103h1M88 103h1M91 103h1M96 103h1M119 103h3M7 104h1M12 104h1M14 104h1M110 104h1M141 104h1M26 105h2M43 105h1M93 105h1M1 106h1M6 106h2M15 106h1M27 106h1M42 106h1M44 106h1M81 106h1M85 106h1M118 106h1M120 106h1M0 108h1M12 108h1M15 108h1M18 108h1M20 108h1M31 108h1M44 108h1M81 108h2M96 108h1M114 108h2M119 108h1M121 108h1M6 109h1M11 109h1M26 109h1M85 109h1M15 110h1M27 110h2M34 110h1M38 110h1M81 110h1M85 110h1M92 110h1M104 110h1M120 110h1M122 110h1M0 111h1M30 111h1M37 111h1M44 111h1M88 111h1M114 111h1M36 113h1M3 114h1M12 114h1M14 114h1M17 114h2M23 114h1M28 114h1M108 114h1M111 114h1M119 114h2M32 115h1M35 115h1M38 115h1M41 115h1M80 115h1M86 115h1M108 115h1M44 116h1M81 116h1M88 116h1M18 117h1M20 117h1M22 117h1M26 117h1M39 117h1M81 117h1M88 117h1M2 118h2M20 118h1M23 118h1M98 118h1M106 118h1M18 119h1M20 119h1M28 119h1M93 119h2M103 119h1M108 119h1M114 119h1M7 120h1M10 120h1M23 120h1M27 120h1M30 120h1M37 120h1M86 120h1M100 120h1M102 120h2M106 120h1M110 120h1M114 120h1M1 121h1M14 121h1M20 121h1M23 121h1M83 121h1M87 121h1M91 121h1M93 121h1M103 121h1M108 121h1M0 122h2M8 122h1M15 122h1M17 122h2M34 122h2M37 122h1M81 122h1M85 122h1M91 122h1M93 122h1M110 122h1M3 123h1M8 123h1M14 123h1M44 123h1M81 123h1M81 124h1M98 124h1M151 124h1M40 125h1M45 125h1M63 125h1M63 126h1M69 126h1M73 126h1M76 126h1M129 126h1M134 126h1M145 126h1M153 126h1M13 127h1M34 127h1M36 127h1M40 127h1M69 127h1M144 127h1M59 128h1M63 128h1M77 128h1M132 128h1M136 128h1M141 128h1M49 129h1M63 129h1M66 129h1M73 129h1M76 129h2M126 129h1M13 130h1M40 130h1M46 130h1M51 130h1M75 130h1M146 130h1M56 131h1M79 131h1M158 131h1M21 132h1M69 132h1M77 132h1M128 132h1M142 132h1M144 132h1M33 133h1M40 133h2M46 133h1M69 133h1M146 133h1M66 134h1M70 134h1M73 134h1M79 134h1M126 134h1M34 135h1M54 135h1M146 135h1M53 136h1M65 136h1M128 136h1M146 136h1M153 136h1M65 137h1M70 137h1M78 137h1M139 137h1M16 138h1M45 138h1M61 138h1M142 138h1M152 138h1M49 139h1M58 139h1M63 139h1M66 139h1M137 139h1M140 139h1M148 139h1M151 139h1M156 139h1M158 139h1M40 140h1M46 140h1M70 140h1M77 140h1M139 140h1M1 141h1M7 141h1M28 141h1M35 141h1M38 141h1M42 141h1M79 141h2M82 141h1M99 141h1M104 141h1M128 141h1M45 142h1M50 142h1M58 142h1M61 142h1M70 142h1M77 142h2M132 142h1M138 142h1M144 142h1M152 142h2M46 143h2M58 143h2M48 144h1M60 144h1M63 144h1M127 144h1M132 144h1M142 144h1M149 144h1M155 144h1M54 145h1M60 145h1M76 145h1M126 145h1M47 146h2M67 146h1M130 146h1M133 146h1M135 146h2M149 146h1M46 148h1M139 148h1M65 149h1M70 149h1M144 149h1M146 149h1M36 150h1M51 150h1M77 150h1M153 150h1M73 151h2M80 151h1M90 151h1M124 151h1M139 151h1M157 151h1M41 152h1M56 152h1M59 152h1M71 152h1M138 152h1M142 152h1M153 152h1M51 153h2M56 153h1M59 153h1M64 153h1M78 153h1M126 153h1M136 153h1M142 153h1M150 153h1M152 153h1M154 153h1M34 154h1M46 154h1M65 154h1M69 154h1M153 154h1M16 155h1M54 155h1M144 155h1M16 156h1M33 156h1M50 156h1M65 156h1M69 156h1M139 156h1M159 156h1M52 157h1M54 157h1M78 157h1M151 157h1M56 158h1M62 158h1M70 158h1M73 158h1M131 158h1M139 158h1M58 159h1M63 159h1M74 159h1M77 159h1M79 159h1M156 159h1"/>
<path stroke="#b7ff47" stroke-width="1" d="M7 0h2M15 0h1M37 0h2M91 0h1M95 0h2M116 0h1M118 0h2M14 1h1M28 1h1M30 1h1M85 1h1M87 1h1M92 1h1M110 1h1M120 1h1M123 1h1M10 2h1M35 2h1M38 2h1M95 2h3M102 2h1M108 2h1M111 2h1M117 2h1M8 3h1M15 3h1M42 3h1M81 3h1M88 3h1M94 3h1M97 3h1M108 3h1M110 3h1M116 3h1M120 3h1M141 3h1M40 4h2M8 6h1M20 6h1M22 6h1M34 6h1M42 6h1M83 6h1M85 6h1M94 6h2M120 6h1M123 6h1M0 7h1M8 7h1M32 7h1M83 7h1M85 7h1M92 7h1M111 7h1M121 7h1M123 7h1M0 8h1M3 8h1M6 8h2M12 8h1M22 8h1M27 8h1M30 8h1M37 8h1M39 8h1M83 8h1M95 8h1M100 8h1M108 8h1M111 8h1M117 8h2M16 9h1M2 10h1M123 10h1M141 10h1M34 11h2M86 11h1M90 11h1M8 12h1M13 12h1M30 12h1M33 12h2M41 12h1M82 12h1M94 12h2M109 12h1M117 12h1M12 13h1M37 13h1M87 13h2M93 13h1M96 13h1M106 13h1M118 13h1M121 13h1M123 13h1M1 14h1M20 14h2M28 14h1M32 14h1M90 14h2M97 14h1M100 14h1M106 14h1M0 15h1M3 15h1M83 15h1M93 15h1M116 15h1M121 15h1M9 16h1M19 16h1M50 16h1M55 16h2M61 16h1M78 16h1M84 16h1M112 16h1M115 16h1M125 16h2M132 16h1M140 16h1M151 16h1M20 17h1M31 17h1M37 17h1M83 17h1M101 17h1M106 17h1M108 17h1M110 17h1M120 17h1M28 18h1M38 18h1M91 18h1M97 18h1M103 18h1M16 19h1M40 19h1M6 20h1M14 20h1M17 20h1M37 20h1M82 20h1M86 20h1M120 20h1M14 21h1M29 21h1M48 21h1M87 21h1M103 21h1M117 21h2M120 21h1M141 21h1M6 22h1M8 22h1M23 22h1M31 22h1M88 22h1M98 22h1M101 22h1M108 22h1M114 22h1M120 22h1M22 23h1M37 23h1M85 23h1M92 23h1M116 23h1M119 23h1M35 24h1M40 24h1M86 24h1M124 24h1M86 25h1M37 26h1M82 26h1M102 26h1M118 26h1M8 27h1M32 27h1M91 27h1M95 27h2M104 27h1M108 27h1M116 27h1M118 27h2M121 27h1M124 27h1M1 28h1M14 28h1M18 28h1M37 28h1M87 28h1M94 28h1M100 28h1M102 28h2M122 28h1M21 29h1M38 29h1M41 29h1M90 29h1M101 29h1M109 29h1M124 29h1M1 30h1M8 30h1M12 30h1M87 30h1M95 30h1M97 30h1M110 30h1M116 30h2M122 30h2M17 31h1M22 31h1M38 31h1M87 31h1M95 31h1M97 31h1M99 31h1M109 31h1M111 31h1M116 31h1M120 31h2M123 31h2M7 32h1M14 32h1M27 32h1M88 32h1M103 32h1M108 32h1M114 32h1M141 32h1M12 33h1M83 33h1M88 33h1M93 33h1M135 33h1M6 34h1M11 34h2M60 34h1M88 34h1M93 34h1M98 34h1M104 34h1M106 34h1M2 35h1M11 35h1M24 35h1M85 35h1M88 35h1M90 35h1M111 35h1M121 35h1M121 36h1M123 36h1M141 36h1M0 37h1M8 37h1M13 37h1M17 37h1M20 37h1M23 37h1M26 37h1M28 37h1M81 37h1M99 37h1M108 37h1M0 38h1M2 38h1M18 38h1M29 38h1M31 38h1M92 38h1M98 38h1M100 38h1M108 38h1M114 38h1M123 38h1M8 39h1M64 39h1M87 39h1M94 39h1M110 39h1M114 39h1M120 39h1M4 40h1M19 40h1M24 40h1M47 40h1M52 40h1M67 40h1M110 40h1M113 40h1M126 40h1M135 40h2M141 40h1M150 40h2M4 41h1M12 41h1M29 41h1M43 41h1M62 41h1M141 41h1M3 42h1M6 42h1M85 42h1M87 42h2M103 42h1M105 42h1M110 42h2M121 42h2M41 43h1M80 44h1M88 44h1M94 44h1M100 44h1M117 44h1M120 44h1M122 44h1M51 45h1M63 45h1M66 45h1M73 45h1M129 45h1M139 45h1M144 45h1M157 45h1M47 46h1M50 46h2M56 46h2M68 46h1M40 47h1M46 47h1M139 47h1M153 47h1M157 47h2M21 48h1M50 48h1M66 48h1M76 48h1M79 48h1M134 48h1M139 48h1M153 48h1M50 49h1M59 49h1M66 49h1M152 49h1M16 50h1M46 50h1M48 50h2M70 50h2M128 50h1M139 50h1M144 50h1M45 51h2M56 51h1M69 51h1M71 51h1M74 51h1M76 51h1M135 51h1M152 51h1M156 51h1M158 51h1M40 52h1M65 52h1M70 52h1M139 52h1M142 52h1M140 53h1M56 54h1M59 54h1M66 54h1M141 54h1M151 54h1M16 55h1M125 55h2M132 55h1M135 55h1M143 55h1M153 55h1M158 55h1M16 56h1M46 56h1M51 56h1M54 56h1M61 56h1M64 56h1M76 56h1M125 56h1M142 56h1M46 57h1M58 57h1M66 57h1M70 57h1M77 57h1M130 57h1M142 57h1M144 57h1M57 58h1M61 58h1M74 58h1M76 58h1M129 58h1M145 58h1M158 58h1M49 59h1M54 59h1M69 59h1M76 59h1M131 59h1M140 59h1M145 59h1M157 59h1M34 60h1M158 60h1M16 61h1M56 61h1M58 61h1M65 61h1M154 61h1M41 62h1M66 62h1M69 62h2M125 62h1M131 62h1M137 62h1M157 62h1M45 63h1M64 63h2M71 63h1M135 63h1M138 63h1M140 63h1M39 64h1M56 64h1M63 64h1M128 64h1M52 65h1M61 65h1M63 65h1M67 65h1M140 65h1M143 65h1M148 65h1M45 66h1M48 66h2M54 66h1M57 66h1M62 66h1M76 66h1M142 66h1M145 66h1M40 67h1M65 67h1M70 67h1M77 67h1M128 67h1M145 67h1M46 68h1M134 68h1M144 68h1M51 69h1M59 69h1M62 69h1M74 69h1M76 69h2M129 69h2M136 69h1M139 69h1M145 69h1M155 69h1M50 70h1M52 70h1M57 70h1M62 70h1M67 70h1M126 70h1M133 70h1M138 70h1M143 70h1M50 71h2M63 71h1M125 71h1M135 71h1M140 71h1M145 71h1M157 71h1M141 72h1M45 73h1M74 73h1M77 73h1M132 73h1M51 74h1M58 74h1M69 74h1M73 74h1M79 74h1M129 74h1M134 74h1M137 74h1M156 74h1M158 74h1M141 75h1M48 76h1M51 76h1M56 76h1M58 76h2M66 76h1M69 76h1M128 76h1M139 76h1M143 76h1M149 76h1M156 76h1M57 77h1M67 77h1M69 77h1M73 77h1M130 77h2M133 77h1M137 77h1M16 78h1M128 78h1M139 78h1M149 78h1M48 79h1M74 79h1M125 79h2M130 79h1M145 79h1M152 79h1M44 80h1M93 80h1M154 80h1M3 81h1M37 81h1M92 81h1M97 81h1M12 82h1M20 82h1M26 82h1M87 82h1M114 82h1M117 82h1M120 82h1M127 82h1M6 83h3M15 83h1M17 83h1M33 83h1M95 83h1M101 83h1M111 83h1M118 83h2M16 84h1M1 85h1M6 85h2M23 85h1M35 85h1M42 85h1M88 85h1M91 85h1M100 85h1M116 85h2M120 85h2M11 86h1M20 86h1M24 86h2M1 87h1M13 87h1M21 87h1M28 87h1M30 87h2M39 87h1M42 87h1M82 87h1M91 87h1M95 87h2M100 87h1M103 87h2M111 87h1M116 87h1M120 87h1M122 87h2M3 88h1M13 88h1M22 88h1M32 88h4M42 88h1M44 88h1M85 88h1M95 88h1M99 88h2M106 88h1M108 88h1M122 88h2M11 90h1M14 90h1M29 90h1M35 90h1M98 90h1M103 90h1M121 90h2M0 91h1M14 91h1M18 91h1M27 91h1M85 91h1M87 91h1M98 91h1M117 91h1M123 91h1M1 92h1M7 92h1M23 92h1M38 92h1M81 92h1M95 92h1M97 92h1M116 92h1M118 92h1M13 93h1M15 93h1M33 93h2M80 93h1M104 93h1M106 93h1M117 93h1M3 94h1M6 94h1M12 94h1M28 94h1M39 94h1M44 94h1M114 94h1M120 94h1M0 95h1M2 95h1M6 95h1M8 95h1M12 95h1M27 95h1M30 95h2M83 95h1M87 95h2M92 95h1M103 95h1M106 95h1M0 96h1M2 96h1M13 96h1M27 96h1M87 96h1M101 96h1M2 97h2M14 97h1M18 97h1M30 97h2M81 97h1M92 97h1M98 97h1M22 98h1M34 98h1M38 98h1M90 98h2M97 98h1M100 98h1M121 98h2M31 99h1M37 99h1M88 99h1M120 99h2M123 99h1M8 100h1M14 100h1M28 100h1M38 100h1M44 100h1M85 100h1M87 100h2M98 100h1M17 101h1M22 101h1M29 101h1M83 101h1M96 101h1M106 101h1M116 101h1M2 102h1M26 102h1M28 102h1M111 102h1M121 102h2M18 103h1M21 103h1M28 103h1M32 103h1M42 103h1M87 103h1M90 103h1M95 103h1M111 103h1M115 103h1M117 103h1M27 104h1M34 104h1M87 104h1M93 104h1M42 105h1M106 105h1M123 105h1M13 106h2M17 106h1M34 106h1M88 106h1M93 106h1M95 106h1M101 106h1M105 106h1M108 106h2M111 106h1M2 108h2M8 108h1M17 108h1M22 108h1M27 108h1M32 108h1M37 108h2M88 108h1M106 108h1M111 108h1M116 108h1M12 109h1M29 109h1M31 109h1M106 109h1M120 109h1M123 109h1M1 110h1M3 110h1M17 110h1M30 110h1M39 110h2M42 110h1M114 110h1M123 110h1M2 111h1M7 111h2M31 111h1M35 111h1M42 111h1M83 111h1M87 111h1M102 111h2M106 111h1M108 111h1M121 111h1M16 112h1M40 113h1M22 114h1M32 114h1M38 114h2M82 114h1M94 114h1M110 114h1M116 114h2M16 115h1M103 115h1M119 115h1M0 116h1M3 116h1M15 116h1M23 116h1M27 116h1M30 116h2M85 116h1M87 116h1M92 116h1M101 116h1M108 116h1M114 116h1M121 116h1M2 117h1M8 117h1M12 117h1M21 117h1M30 117h1M44 117h1M82 117h1M85 117h1M91 117h1M93 117h1M103 117h1M114 117h1M120 117h1M122 117h1M0 118h1M8 118h1M13 118h1M21 118h1M26 118h2M83 118h1M92 118h1M0 119h1M23 119h1M27 119h1M83 119h1M115 119h1M121 119h3M1 120h1M3 120h1M6 120h1M17 120h1M20 120h3M31 120h1M39 120h1M44 120h1M82 120h1M85 120h1M87 120h1M94 120h1M99 120h1M109 120h1M117 120h1M7 121h1M13 121h1M15 121h1M27 121h1M31 121h1M35 121h2M42 121h1M85 121h1M90 121h1M98 121h2M102 121h1M111 121h1M116 121h1M119 121h1M123 121h2M28 122h1M30 122h1M42 122h1M44 122h1M87 122h2M90 122h1M98 122h1M102 122h1M117 122h1M119 122h1M1 123h1M6 123h2M10 123h1M13 123h1M30 123h2M36 123h1M38 123h1M87 123h2M91 123h1M99 123h1M105 123h1M109 123h2M119 123h1M121 123h1M24 124h1M27 124h1M29 124h1M31 124h1M121 124h1M16 125h1M55 125h2M62 125h1M71 125h1M79 125h1M128 125h1M153 125h1M16 126h1M40 126h1M55 126h1M70 126h1M79 126h1M132 126h1M82 127h1M129 127h1M146 127h1M50 128h1M64 128h1M67 128h1M76 128h1M78 128h1M125 128h1M140 128h1M152 128h1M154 128h1M45 129h1M58 129h1M69 129h1M74 129h1M127 129h1M145 129h1M57 130h1M69 130h1M77 130h1M79 130h1M139 130h1M59 131h1M62 131h1M77 131h1M142 131h1M151 131h2M16 132h1M55 132h1M73 132h1M126 132h1M152 132h1M70 133h1M77 133h1M142 133h1M144 133h1M156 133h1M48 134h1M68 134h1M74 134h1M138 134h1M152 134h1M33 135h1M40 135h1M51 135h1M55 135h1M63 135h1M71 135h1M40 136h1M69 136h1M139 136h1M62 137h1M74 137h1M77 137h1M142 137h1M144 137h1M63 138h1M70 138h1M134 138h1M153 138h1M159 138h1M45 139h1M47 139h2M50 139h1M52 139h1M69 139h1M76 139h1M78 139h1M130 139h1M136 139h1M141 139h1M155 139h1M16 140h1M53 140h1M59 140h1M63 140h1M65 140h1M71 140h1M128 140h1M3 141h1M10 141h1M21 141h1M32 141h1M36 141h1M40 141h2M54 141h1M72 141h1M75 141h1M139 141h1M153 141h1M52 142h1M56 142h2M66 142h1M131 142h1M133 142h1M137 142h1M156 142h1M55 143h1M65 143h1M70 143h1M76 143h1M148 143h1M156 143h2M45 144h1M50 144h1M57 144h1M68 144h1M133 144h1M137 144h1M148 144h1M154 144h1M158 144h1M58 145h2M66 145h2M69 145h1M71 145h1M79 145h1M129 145h1M155 145h1M157 145h1M127 146h1M65 148h1M143 148h2M76 149h1M78 149h1M153 149h1M40 150h1M16 151h1M40 151h1M54 151h1M131 151h1M49 152h1M51 152h1M79 152h1M128 152h1M131 152h2M134 152h1M47 153h2M55 153h1M125 153h1M138 153h1M141 153h1M149 153h1M61 154h1M80 154h1M128 154h1M144 154h1M69 155h1M139 155h1M145 155h1M51 156h1M74 156h1M76 156h1M133 156h1M142 156h2M157 156h2M45 157h1M47 157h1M59 157h1M62 157h1M71 157h1M143 157h1M145 157h1M156 157h1M158 157h1M47 158h1M51 158h1M55 158h1M58 158h1M60 158h1M74 158h1M144 158h1M156 158h2M138 159h1"/>
<path stroke="#c7ff37" stroke-width="1" d="M1 0h1M10 0h1M23 0h1M28 0h1M42 0h1M87 0h1M102 0h1M0 1h1M3 1h1M6 1h1M10 1h1M20 1h1M37 1h1M94 1h1M100 1h1M114 1h1M33 2h1M99 2h1M105 2h1M109 2h1M1 3h1M7 3h1M28 3h1M30 3h1M44 3h1M83 3h1M85 3h2M100 3h1M104 3h1M106 3h1M119 3h1M1 6h1M7 6h1M13 6h2M28 6h1M38 6h1M90 6h1M101 6h1M104 6h2M122 6h1M124 6h1M3 7h1M6 7h1M14 7h1M22 7h1M81 7h1M87 7h1M90 7h2M96 7h1M109 7h1M114 7h1M118 7h1M15 8h1M17 8h2M21 8h1M31 8h2M40 8h1M82 8h1M93 8h2M104 8h1M116 8h1M120 8h1M0 10h2M27 10h2M81 10h1M85 10h1M93 10h2M114 10h1M117 10h1M35 12h2M38 12h1M90 12h1M105 12h1M116 12h1M6 13h1M27 13h1M83 13h1M92 13h1M104 13h1M108 13h1M110 13h1M119 13h2M6 14h2M15 14h1M23 14h1M27 14h1M36 14h1M39 14h1M82 14h1M119 14h1M8 15h1M14 15h1M20 15h1M23 15h1M28 15h1M30 15h1M44 15h1M88 15h1M91 15h1M95 15h1M105 15h1M114 15h1M117 15h1M43 16h1M47 16h1M53 16h1M57 16h2M74 16h1M98 16h1M113 16h1M133 16h1M135 16h2M148 16h3M8 17h1M28 17h1M32 17h1M42 17h1M96 17h2M99 17h1M116 17h1M123 17h1M8 18h1M42 18h1M44 18h1M96 18h1M100 18h2M110 18h1M120 18h1M124 18h1M1 20h1M15 20h1M21 20h1M35 20h1M38 20h1M90 20h2M99 20h1M102 20h1M105 20h1M109 20h1M124 20h1M8 21h1M20 21h1M92 21h3M98 21h1M106 21h1M111 21h1M114 21h1M119 21h1M7 22h1M32 22h1M37 22h1M42 22h1M44 22h1M82 22h2M95 22h1M103 22h1M110 22h2M0 23h1M14 23h2M27 23h2M30 23h1M41 23h1M44 23h1M86 23h1M91 23h1M96 23h1M102 23h1M106 23h1M122 23h1M34 24h1M39 24h1M41 25h1M10 27h1M13 27h2M23 27h1M30 27h2M34 27h2M37 27h1M86 27h1M94 27h1M102 27h1M111 27h1M117 27h1M0 28h1M3 28h1M6 28h1M10 28h1M15 28h1M17 28h1M23 28h1M29 28h2M38 28h1M42 28h1M44 28h1M83 28h1M88 28h1M92 28h1M96 28h1M99 28h1M108 28h1M120 28h1M28 29h1M103 29h1M3 30h1M15 30h1M23 30h1M27 30h2M31 30h2M83 30h1M85 30h1M103 30h1M109 30h1M119 30h1M121 30h1M8 31h1M27 31h1M30 31h1M94 31h1M104 31h1M122 31h1M8 32h1M17 32h1M22 32h1M30 32h1M87 32h1M96 32h1M100 32h1M110 32h1M123 32h1M2 33h1M68 33h1M110 33h1M121 33h1M123 33h1M141 33h1M24 34h1M27 34h1M35 34h1M37 34h1M83 34h1M87 34h1M101 34h1M118 34h1M12 35h1M20 35h1M27 35h1M34 35h1M44 35h1M83 35h1M93 35h2M96 35h1M98 35h1M100 35h1M103 35h1M117 35h1M12 36h1M14 36h1M43 36h1M98 36h1M115 36h1M118 36h1M1 37h1M22 37h1M27 37h1M34 37h1M44 37h1M82 37h1M86 37h1M91 37h1M96 37h1M110 37h1M114 37h1M117 37h1M119 37h1M123 37h1M6 38h1M12 38h1M20 38h1M28 38h1M82 38h1M105 38h2M121 38h1M14 39h1M24 39h1M81 39h1M92 39h1M98 39h1M106 39h1M111 39h1M115 39h1M8 40h1M56 40h1M98 40h1M115 40h1M149 40h1M154 40h1M23 41h1M25 41h1M88 41h1M93 41h1M110 41h1M0 42h1M17 42h2M22 42h1M28 42h1M44 42h1M96 42h1M99 42h1M112 42h1M114 42h1M118 42h1M120 42h1M16 43h1M36 43h1M80 43h1M86 43h1M3 44h1M15 44h1M18 44h1M22 44h2M28 44h1M35 44h1M37 44h1M42 44h1M83 44h1M86 44h1M103 44h2M118 44h2M50 45h1M57 45h1M67 45h1M79 45h1M130 45h1M154 45h1M59 46h1M61 46h1M74 46h1M135 46h1M150 46h2M156 46h1M16 47h1M49 47h1M70 47h1M145 47h1M148 47h1M49 48h1M51 48h1M54 48h1M61 48h1M70 48h1M154 48h2M157 48h1M159 48h1M47 49h2M53 49h1M55 49h2M134 49h1M143 49h1M158 49h2M45 50h1M55 50h1M63 50h1M73 50h2M131 50h1M143 50h1M145 50h1M48 51h1M52 51h1M59 51h1M78 51h1M129 51h1M138 51h2M51 52h1M63 52h1M77 52h1M79 52h1M125 52h1M16 53h1M49 53h1M63 53h1M65 53h2M69 53h1M125 53h1M128 53h1M142 53h1M48 54h1M125 54h1M136 54h1M154 54h1M156 54h1M49 55h2M63 55h1M129 55h1M131 55h1M134 55h1M139 55h1M148 55h1M154 55h2M157 55h1M40 56h1M49 56h1M59 56h1M63 56h1M66 56h1M128 56h1M137 56h1M139 56h1M16 57h1M45 57h1M74 57h1M129 57h1M153 57h1M16 58h1M125 58h1M127 58h1M46 59h1M51 59h1M56 59h1M64 59h1M77 59h1M129 59h1M136 59h1M142 59h1M148 59h1M62 60h1M65 60h1M131 60h1M134 60h1M139 60h1M46 61h1M48 61h1M69 61h1M77 61h1M133 61h1M137 61h1M139 61h1M157 61h2M60 62h1M78 62h1M128 62h1M140 62h1M151 62h1M156 62h1M50 63h1M52 63h2M55 63h2M67 63h1M79 63h1M157 63h1M59 64h1M66 64h1M134 64h1M137 64h1M53 65h1M60 65h1M125 65h1M130 65h1M132 65h1M151 65h1M53 66h1M56 66h1M64 66h1M78 66h1M125 66h1M148 66h1M155 66h1M159 66h1M45 67h1M63 67h1M139 67h1M142 67h1M153 67h1M33 68h1M53 69h1M61 69h1M79 69h1M131 69h1M135 69h1M138 69h1M140 69h1M148 69h2M47 70h2M71 70h1M148 70h1M150 70h1M156 70h1M70 71h1M138 71h2M149 71h1M158 71h1M50 73h1M131 73h1M140 73h2M159 73h1M16 74h1M46 74h1M50 74h1M57 74h1M142 74h1M150 74h1M152 74h1M157 74h1M152 76h1M52 77h1M59 77h1M61 77h1M125 77h1M155 77h1M51 78h1M62 78h1M66 78h1M130 78h3M158 78h1M45 79h1M52 79h1M63 79h1M69 79h1M133 79h1M140 79h1M151 79h1M43 80h1M97 80h1M7 81h1M10 81h1M39 81h1M95 81h1M99 81h1M101 81h1M105 81h1M120 81h1M8 82h1M14 82h1M22 82h1M37 82h2M83 82h1M85 82h1M118 82h2M3 83h1M13 83h1M22 83h1M28 83h1M30 83h1M34 83h2M44 83h1M82 83h1M94 83h1M97 83h1M99 83h1M104 83h2M124 83h1M3 85h1M10 85h1M30 85h1M82 85h1M95 85h3M3 86h1M23 86h1M27 86h1M37 86h1M43 86h2M87 86h1M94 86h2M98 86h1M116 86h1M0 87h1M7 87h1M32 87h1M34 87h1M86 87h1M105 87h1M15 88h1M28 88h1M41 88h1M90 88h1M93 88h1M96 88h1M101 88h1M118 88h1M6 90h2M12 90h1M20 90h1M88 90h1M93 90h1M114 90h2M7 91h1M15 91h1M20 91h1M23 91h1M37 91h1M95 91h2M101 91h1M108 91h1M114 91h1M119 91h1M13 92h1M21 92h1M28 92h1M39 92h1M100 92h1M105 92h1M120 92h1M122 92h1M8 93h1M10 93h1M21 93h1M35 93h1M41 93h1M88 93h1M90 93h1M99 93h1M116 93h1M124 93h1M1 94h1M8 94h1M10 94h1M21 94h1M27 94h1M31 94h1M35 94h1M83 94h1M86 94h1M100 94h1M104 94h1M110 94h1M116 94h1M121 94h1M15 95h1M22 95h1M81 95h1M85 95h2M91 95h1M99 95h1M109 95h1M120 95h1M123 95h1M7 96h1M17 96h2M23 96h1M28 96h1M32 96h1M35 96h1M37 96h1M42 96h1M85 96h1M88 96h1M91 96h1M102 96h1M111 96h1M17 97h1M80 97h1M83 97h1M85 97h1M108 97h1M118 97h2M123 97h1M16 98h1M21 98h1M35 98h2M39 98h2M86 98h1M119 98h1M2 99h1M17 99h1M20 99h1M28 99h1M42 99h1M81 99h1M83 99h1M93 99h1M95 99h1M110 99h1M122 99h1M1 100h1M3 100h1M18 100h1M32 100h1M35 100h1M92 100h1M94 100h1M103 100h1M108 100h1M121 100h1M123 100h1M6 101h1M18 101h1M34 101h1M81 101h1M88 101h1M91 101h1M114 101h1M121 101h1M0 102h1M20 102h1M23 102h1M27 102h1M96 102h1M110 102h1M116 102h1M123 102h1M22 103h1M29 103h2M35 103h1M44 103h1M100 103h1M109 103h1M122 103h2M3 104h1M6 104h1M8 104h1M13 104h1M31 104h1M44 104h1M83 104h1M94 104h1M123 104h1M2 105h1M6 105h1M12 105h1M15 105h1M20 105h1M38 105h1M81 105h1M83 105h1M87 105h1M92 105h1M108 105h1M114 105h1M120 105h1M3 106h1M21 106h1M23 106h1M38 106h2M122 106h1M13 108h1M28 108h1M91 108h1M97 108h1M100 108h1M105 108h1M110 108h1M117 108h1M2 109h1M7 109h1M20 109h1M30 109h1M95 109h1M103 109h1M117 109h1M13 110h1M18 110h1M22 110h1M32 110h2M37 110h1M41 110h1M94 110h1M99 110h1M102 110h1M108 110h1M118 110h1M21 111h2M27 111h1M39 111h1M96 111h1M117 111h2M42 112h1M16 113h1M1 114h1M7 114h1M10 114h1M15 114h1M21 114h1M37 114h1M42 114h1M90 114h2M101 114h1M105 114h1M121 114h2M36 115h1M39 115h2M90 115h1M8 116h1M12 116h1M17 116h1M86 116h1M93 116h2M102 116h1M117 116h1M123 116h1M10 117h1M15 117h1M27 117h1M35 117h1M37 117h1M108 117h2M111 117h1M116 117h1M123 117h1M7 118h1M34 118h1M36 118h1M42 118h1M44 118h1M82 118h1M88 118h1M97 118h1M110 118h2M119 118h3M123 118h2M3 119h1M13 119h2M21 119h1M30 119h1M37 119h1M44 119h1M82 119h1M91 119h1M97 119h2M118 119h1M8 120h1M13 120h1M18 120h1M28 120h1M42 120h1M81 120h1M92 120h1M95 120h1M105 120h1M118 120h1M123 120h2M30 121h1M33 121h1M38 121h1M94 121h1M100 121h2M114 121h1M118 121h1M122 121h1M6 122h1M23 122h1M31 122h1M92 122h1M99 122h1M103 122h1M106 122h1M114 122h1M121 122h1M123 122h1M17 123h1M32 123h2M37 123h1M95 123h1M97 123h1M100 123h1M102 123h3M116 123h3M120 123h1M122 123h1M6 124h1M18 124h1M20 124h1M83 124h1M93 124h1M118 124h1M120 124h1M52 125h3M58 125h1M65 125h2M77 125h1M126 125h1M136 125h1M142 125h1M150 125h1M125 126h1M128 126h1M142 126h1M159 126h1M58 127h1M134 127h1M137 127h1M139 127h1M145 127h1M153 127h1M53 128h1M56 128h1M62 128h1M126 128h1M133 128h1M145 128h1M158 128h1M51 129h1M55 129h1M57 129h1M59 129h1M133 129h2M142 129h1M149 129h1M45 130h1M65 130h1M78 130h1M144 130h1M157 130h2M50 131h1M55 131h1M60 131h1M69 131h1M73 131h1M78 131h1M157 131h1M65 132h1M78 132h1M134 132h1M149 132h1M157 132h1M16 133h1M61 133h1M79 133h1M128 133h2M49 134h1M55 134h1M60 134h1M64 134h1M127 134h1M129 134h1M132 134h1M137 134h1M143 134h1M149 134h1M159 134h1M16 135h1M46 135h1M69 135h1M145 135h1M153 135h1M16 136h1M54 136h1M59 136h1M125 136h1M157 136h1M56 137h1M61 137h1M64 137h1M127 137h1M134 137h1M141 137h1M152 137h1M154 137h1M158 137h1M51 138h1M69 138h1M71 138h1M150 138h1M156 138h1M51 139h1M55 139h2M60 139h2M67 139h1M71 139h1M127 139h1M143 139h1M62 140h1M69 140h1M73 140h1M79 140h1M145 140h1M153 140h1M33 141h1M73 141h1M137 141h1M142 141h1M53 142h1M59 142h1M67 142h1M74 142h1M125 142h2M129 142h1M141 142h1M143 142h1M159 142h1M49 143h2M134 143h1M139 143h1M142 143h1M158 143h2M130 144h1M47 145h1M50 145h1M127 145h2M135 145h1M140 145h1M158 145h1M151 146h1M155 146h1M16 148h1M47 148h1M55 148h1M59 148h1M66 148h1M69 148h2M157 148h2M16 149h1M40 149h1M69 149h1M71 149h1M129 149h1M132 149h1M134 149h1M16 150h1M46 150h1M70 150h1M74 150h1M125 150h1M138 150h1M159 150h1M46 151h1M62 151h1M65 151h1M79 151h1M146 151h1M156 151h1M74 152h1M76 152h1M137 152h1M158 152h1M57 153h1M67 153h1M127 153h1M135 153h1M140 153h1M40 154h1M45 154h1M48 154h1M54 154h2M137 154h1M48 155h1M55 155h1M66 155h1M77 155h1M146 155h1M159 155h1M46 156h1M54 156h1M62 156h1M70 156h1M138 156h1M151 156h1M48 157h1M55 157h1M61 157h1M63 157h1M74 157h1M130 157h3M136 157h1M148 157h1M49 158h1M61 158h1M71 158h1M78 158h1M128 158h1M130 158h1M137 158h1M143 158h1M145 158h1M148 158h1M152 158h1M48 159h2M66 159h1M73 159h1M126 159h1M134 159h1M142 159h2M150 159h1M155 159h1"/>
<path stroke="#d7ff27" stroke-width="1" d="M3 0h1M22 0h1M32 0h1M39 0h1M41 0h1M82 0h1M97 0h1M101 0h1M109 0h1M117 0h1M124 0h1M15 1h1M17 1h2M39 1h1M44 1h1M81 1h1M83 1h1M86 1h1M95 1h1M99 1h1M104 1h2M111 1h1M23 2h1M36 2h1M0 3h1M6 3h1M20 3h1M22 3h1M32 3h1M35 3h1M37 3h1M92 3h1M96 3h1M99 3h1M102 3h1M109 3h1M16 4h1M3 6h1M15 6h1M17 6h1M30 6h3M44 6h1M82 6h1M86 6h1M99 6h1M118 6h2M121 6h1M17 7h1M28 7h1M31 7h1M33 7h1M35 7h1M38 7h1M44 7h1M97 7h1M116 7h1M119 7h1M122 7h1M34 8h1M38 8h1M42 8h1M97 8h1M101 8h1M109 8h1M14 10h2M18 10h1M22 10h1M30 10h1M86 10h2M96 10h1M106 10h1M110 10h2M121 10h1M123 12h1M18 13h1M24 13h1M28 13h1M38 13h1M86 13h1M95 13h1M103 13h1M109 13h1M111 13h1M124 13h1M10 14h1M124 14h1M1 15h1M6 15h1M10 15h1M17 15h1M22 15h1M31 15h1M35 15h1M82 15h1M92 15h1M96 15h2M100 15h3M104 15h1M109 15h1M111 15h1M4 16h1M48 16h1M67 16h1M107 16h1M127 16h1M137 16h1M154 16h1M1 17h1M6 17h2M15 17h1M87 17h1M91 17h1M103 17h1M111 17h1M117 17h2M124 17h1M1 18h1M10 18h1M13 18h1M21 18h1M23 18h1M37 18h1M82 18h1M86 18h1M94 18h1M36 19h1M3 20h1M28 20h1M31 20h1M41 20h1M18 21h1M35 21h1M38 21h1M44 21h1M83 21h1M85 21h1M110 21h1M115 21h1M121 21h1M0 22h1M3 22h1M10 22h1M15 22h1M30 22h1M38 22h1M85 22h1M91 22h1M102 22h1M106 22h1M121 22h2M2 23h1M18 23h1M35 23h1M42 23h1M110 23h1M123 23h1M13 24h1M80 24h1M36 25h1M104 25h1M41 26h1M28 27h1M41 27h1M100 27h2M109 27h1M123 27h1M7 28h1M13 28h1M20 28h1M27 28h1M32 28h2M80 28h1M82 28h1M111 28h1M117 28h2M33 29h1M40 29h1M6 30h1M10 30h1M22 30h1M42 30h1M82 30h1M94 30h1M96 30h1M100 30h1M102 30h1M105 30h1M114 30h1M6 31h2M15 31h1M20 31h1M34 31h1M86 31h1M91 31h2M102 31h1M105 31h1M110 31h1M118 31h2M0 32h1M3 32h1M6 32h1M28 32h1M44 32h1M85 32h1M92 32h1M94 32h1M105 32h1M111 32h1M118 32h1M124 32h1M7 33h1M28 33h2M43 33h1M81 33h1M94 33h1M98 33h1M102 33h1M111 33h1M116 33h1M120 33h1M151 33h1M8 34h1M31 34h1M38 34h1M82 34h1M92 34h1M96 34h1M117 34h1M119 34h1M121 34h1M123 34h1M3 35h1M7 35h1M15 35h1M21 35h1M23 35h1M37 35h2M42 35h1M87 35h1M91 35h1M97 35h1M102 35h1M109 35h2M114 35h1M2 36h1M19 36h1M25 36h1M60 36h1M87 36h1M93 36h1M110 36h2M120 36h1M3 37h1M18 37h1M35 37h1M38 37h2M42 37h1M94 37h1M100 37h2M104 37h2M116 37h1M118 37h1M124 37h1M7 38h2M13 38h1M21 38h2M34 38h2M37 38h1M81 38h1M93 38h1M97 38h1M103 38h1M116 38h4M122 38h1M0 39h2M37 39h1M44 39h1M82 39h2M85 39h1M88 39h1M91 39h1M93 39h1M97 39h1M99 39h1M121 39h1M29 40h1M44 40h1M83 40h1M114 40h1M0 41h1M20 41h1M26 41h2M83 41h1M87 41h1M91 41h1M103 41h1M119 41h2M148 41h1M8 42h1M23 42h1M30 42h1M35 42h1M37 42h1M83 42h1M91 42h1M95 42h1M100 42h1M102 42h1M109 42h1M119 42h1M123 42h1M33 43h1M1 44h1M6 44h2M21 44h1M32 44h1M39 44h2M90 44h1M96 44h1M99 44h1M102 44h1M105 44h1M62 45h1M64 45h1M126 45h1M134 45h1M137 45h1M140 45h1M145 45h1M156 45h1M159 45h1M53 46h1M60 46h1M66 46h2M78 46h1M126 46h2M132 46h1M59 47h1M61 47h1M74 47h1M76 47h1M133 47h2M138 47h1M140 47h1M156 47h1M16 48h1M58 48h1M69 48h1M127 48h1M131 48h1M74 49h1M76 49h1M131 49h2M138 49h1M154 49h2M157 49h1M53 50h1M62 50h1M66 50h1M78 50h2M129 50h1M138 50h1M152 50h3M157 50h2M67 51h1M131 51h1M133 51h1M136 51h2M159 51h1M58 52h1M66 52h1M73 52h1M126 52h1M143 52h3M152 52h1M46 53h1M50 53h1M126 53h1M130 53h1M138 53h1M143 53h1M145 53h1M152 53h1M157 53h2M64 54h1M67 54h1M127 54h1M132 54h1M150 54h1M60 55h3M64 55h1M66 55h2M76 55h1M78 55h1M137 55h2M156 55h1M57 56h1M129 56h1M156 56h1M56 57h1M61 57h1M65 57h1M73 57h1M79 57h1M48 58h1M52 58h1M63 58h1M78 58h1M134 58h1M151 58h1M154 58h1M156 58h1M47 59h1M127 59h1M130 59h1M134 59h1M137 59h2M154 59h1M36 60h1M46 60h1M55 60h1M69 60h1M74 60h1M125 60h1M127 60h1M157 60h1M159 60h1M47 61h1M55 61h1M57 61h1M71 61h1M73 61h1M129 61h1M134 61h1M143 61h1M145 61h1M148 61h1M45 62h1M50 62h1M55 62h1M126 62h1M145 62h1M148 62h1M155 62h1M58 63h1M76 63h1M130 63h1M134 63h1M137 63h1M152 63h1M45 64h1M54 64h2M79 64h1M138 64h2M143 64h1M57 65h1M78 65h1M126 65h1M133 65h1M46 66h1M50 66h1M52 66h1M55 66h1M67 66h1M71 66h1M126 66h2M130 66h1M132 66h1M135 66h1M137 66h1M143 66h1M149 66h1M158 66h1M16 67h1M46 67h1M51 67h1M54 67h2M66 67h1M134 67h1M151 67h1M73 68h1M78 68h2M48 69h1M60 69h1M143 69h1M151 69h1M151 70h1M61 71h1M66 71h1M74 71h1M76 71h2M127 71h1M130 71h1M134 71h1M148 71h1M159 71h1M52 73h1M57 73h1M61 73h1M68 73h1M133 73h1M149 73h1M47 74h1M49 74h1M60 74h1M71 74h1M76 74h1M130 74h1M138 74h1M145 74h1M154 74h1M47 76h1M49 76h1M55 76h1M63 76h1M71 76h1M74 76h1M79 76h1M134 76h1M150 76h1M71 77h1M127 77h1M139 77h1M149 77h1M151 77h1M46 78h1M50 78h1M55 78h1M58 78h1M65 78h1M68 78h1M125 78h1M129 78h1M138 78h1M140 78h1M50 79h1M57 79h1M64 79h1M68 79h1M76 79h1M132 79h1M137 79h1M148 79h1M24 80h1M28 80h1M114 80h1M1 81h1M33 81h1M38 81h1M82 81h1M90 81h1M109 81h1M118 81h1M0 82h1M6 82h1M15 82h1M18 82h1M28 82h1M30 82h1M34 82h1M39 82h1M81 82h1M90 82h1M94 82h1M103 82h1M110 82h1M121 82h1M1 83h1M21 83h1M39 83h4M96 83h1M108 83h2M117 83h1M21 85h2M32 85h1M39 85h1M94 85h1M102 85h1M105 85h1M1 86h1M6 86h1M10 86h1M13 86h1M18 86h1M31 86h1M93 86h1M123 86h1M10 87h1M17 87h1M35 87h2M41 87h1M101 87h2M119 87h1M39 88h1M91 88h1M94 88h1M104 88h2M124 88h1M44 90h1M81 90h2M110 90h1M120 90h1M17 91h1M22 91h1M31 91h1M35 91h1M39 91h1M41 91h2M88 91h1M94 91h1M109 91h1M111 91h1M3 92h1M15 92h1M31 92h2M34 92h1M101 92h1M106 92h1M108 92h2M111 92h1M119 92h1M123 92h1M36 93h1M38 93h2M86 93h1M102 93h1M108 93h1M118 93h1M18 94h1M30 94h1M32 94h2M37 94h1M82 94h1M85 94h1M88 94h1M91 94h1M95 94h2M99 94h1M102 94h1M105 94h2M108 94h1M117 94h2M124 94h1M1 95h1M13 95h1M42 95h1M94 95h1M108 95h1M110 95h1M117 95h1M119 95h1M3 96h1M10 96h1M15 96h1M30 96h1M34 96h1M44 96h1M83 96h1M94 96h1M97 96h1M106 96h1M110 96h1M116 96h1M0 97h1M7 97h2M15 97h1M35 97h1M38 97h2M96 97h1M102 97h1M110 97h1M122 97h1M33 98h1M99 98h1M1 99h1M3 99h1M6 99h1M39 99h1M44 99h1M94 99h1M98 99h1M101 99h1M103 99h1M114 99h1M118 99h1M15 100h1M27 100h1M30 100h1M37 100h1M42 100h1M106 100h1M117 100h1M122 100h1M0 101h1M8 101h1M15 101h1M27 101h1M37 101h1M87 101h1M92 101h1M99 101h1M119 101h1M123 101h1M3 102h1M15 102h1M22 102h1M30 102h2M33 102h1M35 102h1M42 102h1M44 102h1M85 102h1M87 102h1M93 102h2M97 102h1M117 102h1M13 103h1M17 103h1M38 103h1M41 103h1M82 103h1M99 103h1M104 103h2M1 104h1M15 104h1M25 104h1M37 104h1M88 104h1M103 104h1M109 104h1M119 104h1M1 105h1M30 105h3M37 105h1M44 105h1M85 105h1M88 105h1M94 105h1M103 105h1M10 106h1M22 106h1M92 106h1M94 106h1M96 106h1M100 106h1M117 106h1M16 107h1M83 108h1M92 108h4M109 108h1M122 108h1M0 109h1M3 109h1M8 109h1M13 109h1M15 109h1M27 109h1M35 109h1M42 109h1M81 109h1M83 109h1M91 109h2M104 109h1M108 109h1M114 109h1M119 109h1M121 109h1M10 110h1M21 110h1M23 110h1M31 110h1M35 110h2M82 110h1M90 110h1M95 110h3M119 110h1M1 111h1M10 111h1M13 111h1M15 111h1M17 111h1M28 111h1M32 111h2M36 111h1M91 111h2M120 111h1M123 111h1M30 114h1M35 114h1M40 114h1M80 114h1M99 114h1M109 114h1M21 115h1M7 116h1M33 116h1M37 116h2M96 116h1M118 116h1M0 117h1M17 117h1M28 117h1M34 117h1M38 117h1M83 117h1M94 117h2M100 117h1M102 117h1M106 117h1M118 117h1M6 118h1M17 118h1M28 118h1M31 118h2M37 118h2M81 118h1M93 118h2M99 118h1M116 118h2M122 118h1M6 119h2M31 119h1M34 119h1M38 119h1M41 119h2M87 119h1M92 119h1M95 119h1M101 119h1M104 119h1M109 119h2M33 120h1M36 120h1M41 120h1M90 120h1M111 120h1M6 121h1M10 121h1M21 121h2M34 121h1M39 121h1M82 121h1M109 121h1M7 122h1M22 122h1M38 122h1M97 122h1M100 122h1M108 122h1M118 122h1M12 123h1M23 123h1M27 123h1M34 123h1M42 123h1M86 123h1M92 123h1M101 123h1M111 123h1M0 124h1M13 124h2M17 124h1M32 124h1M37 124h1M88 124h1M94 124h1M60 125h1M78 125h1M131 125h1M135 125h1M139 125h1M152 125h1M156 125h1M45 126h2M52 126h2M62 126h1M65 126h2M131 126h1M143 126h1M151 126h2M154 126h1M156 126h1M16 127h1M46 127h1M48 127h1M54 127h1M59 127h2M66 127h1M71 127h1M77 127h1M142 127h1M152 127h1M131 128h1M134 128h2M148 128h1M159 128h1M50 129h1M56 129h1M61 129h1M78 129h1M132 129h1M138 129h1M150 129h1M159 129h1M53 130h1M59 130h1M63 130h1M66 130h1M71 130h1M74 130h1M131 130h1M136 130h1M48 131h2M51 131h1M125 131h2M128 131h1M130 131h1M134 131h1M136 131h1M141 131h1M145 131h1M154 131h2M159 131h1M46 132h1M49 132h1M54 132h1M66 132h1M79 132h1M129 132h1M143 132h1M158 132h1M47 133h1M51 133h1M65 133h1M73 133h1M153 133h1M157 133h1M45 134h1M47 134h1M58 134h2M61 134h1M63 134h1M67 134h1M71 134h1M76 134h1M128 134h1M131 134h1M140 134h1M145 134h1M66 135h1M125 135h1M128 135h1M142 135h1M51 136h1M130 136h2M142 136h1M152 136h1M16 137h1M45 137h1M51 137h1M55 137h1M59 137h1M63 137h1M66 137h1M79 137h1M148 137h1M155 137h1M47 138h1M49 138h2M53 138h1M55 138h1M59 138h1M64 138h1M74 138h1M78 138h1M129 138h1M148 138h1M64 139h1M77 139h1M125 139h1M149 139h1M45 140h1M47 140h1M78 140h1M134 140h1M143 140h1M156 140h1M158 140h2M131 141h1M127 142h1M135 142h2M149 142h3M154 142h1M52 143h2M61 143h1M64 143h1M66 143h1M69 143h1M126 143h1M132 143h1M140 143h1M52 144h1M45 145h1M52 145h2M61 145h2M74 145h1M131 145h1M134 145h1M151 145h1M41 148h1M61 148h2M71 148h1M79 148h1M128 148h1M137 148h2M66 149h1M73 149h1M77 149h1M139 149h1M142 149h1M156 149h1M54 150h1M76 150h1M129 150h1M142 150h1M157 150h1M33 151h1M58 151h1M67 151h1M69 151h2M77 151h1M126 151h1M142 151h1M145 151h1M153 151h1M155 151h1M50 152h1M52 152h2M63 152h1M125 152h3M136 152h1M154 152h1M50 153h1M133 153h1M151 153h1M155 153h1M16 154h1M49 154h2M58 154h2M74 154h1M126 154h1M131 154h1M142 154h1M152 154h1M156 154h3M49 155h1M62 155h1M131 155h1M137 155h1M151 155h1M153 155h1M158 155h1M45 156h1M47 156h1M55 156h2M58 156h1M125 156h2M140 156h1M149 156h1M154 156h1M49 157h2M53 157h1M60 157h1M133 157h1M150 157h1M154 157h1M159 157h1M50 158h1M53 158h1M66 158h1M132 158h1M140 158h1M154 158h2M45 159h1M51 159h1M60 159h1M71 159h1M128 159h2M131 159h1M140 159h1M157 159h1"/>
<path stroke="#e7ff17" stroke-width="1" d="M16 0h1M35 0h1M90 0h1M22 1h1M34 1h1M38 1h1M88 1h1M93 1h1M96 1h1M101 1h1M108 1h1M116 1h1M119 1h1M124 1h1M13 2h1M21 2h1M41 2h1M90 2h1M31 3h1M33 3h2M36 3h1M39 3h1M90 3h2M122 3h1M124 3h1M18 6h1M23 6h1M27 6h1M33 6h1M37 6h1M97 6h1M102 6h1M108 6h1M13 7h1M34 7h1M36 7h2M82 7h1M95 7h1M100 7h3M124 7h1M41 8h1M80 8h1M102 8h1M13 10h1M31 10h1M38 10h1M40 10h1M44 10h1M104 10h1M109 10h1M116 10h1M119 10h1M41 11h1M16 12h1M2 13h1M7 13h1M10 13h1M20 13h1M30 13h1M32 13h1M35 13h1M42 13h1M117 13h1M122 13h1M35 14h1M42 14h1M80 14h1M105 14h1M21 15h1M34 15h1M39 15h1M86 15h1M90 15h1M99 15h1M103 15h1M124 15h1M0 16h1M12 16h1M25 16h2M37 16h1M96 16h1M18 17h1M22 17h1M30 17h1M33 17h1M40 17h1M44 17h1M82 17h1M92 17h1M95 17h1M102 17h1M6 18h1M17 18h1M41 18h1M80 18h1M99 18h1M102 18h1M109 18h1M13 20h1M80 20h1M101 20h1M2 21h1M15 21h1M23 21h1M27 21h1M30 21h1M42 21h1M81 21h1M95 21h1M102 21h1M104 21h1M108 21h1M116 21h1M1 22h1M17 22h1M27 22h1M34 22h2M96 22h2M99 22h1M104 22h1M109 22h1M119 22h1M124 22h1M6 23h1M21 23h1M38 23h2M90 23h1M95 23h1M99 23h1M108 23h2M101 24h1M16 25h1M16 26h1M40 26h1M6 27h1M21 27h2M38 27h2M42 27h1M97 27h1M34 28h1M39 28h1M86 28h1M95 28h1M101 28h1M104 28h2M109 28h1M116 28h1M123 28h1M13 30h1M17 30h1M21 30h1M92 30h1M104 30h1M124 30h1M3 31h1M10 31h1M42 31h1M13 32h1M36 32h3M42 32h1M82 32h1M86 32h1M95 32h1M104 32h1M106 32h1M117 32h1M3 33h1M6 33h1M17 33h1M44 33h1M85 33h1M92 33h1M100 33h2M108 33h1M1 34h1M3 34h1M7 34h1M15 34h1M22 34h1M28 34h1M44 34h1M97 34h1M99 34h1M103 34h1M105 34h1M108 34h1M0 35h1M13 35h2M22 35h1M39 35h1M82 35h1M86 35h1M99 35h1M106 35h1M116 35h1M119 35h1M123 35h1M3 36h1M7 36h1M32 36h1M83 36h1M88 36h1M91 36h2M97 36h1M99 36h1M6 37h2M16 37h1M32 37h1M95 37h1M106 37h1M1 38h1M10 38h1M23 38h1M27 38h1M32 38h1M83 38h1M85 38h1M102 38h1M3 39h1M15 39h1M23 39h1M27 39h2M35 39h1M116 39h1M122 39h1M10 40h1M17 40h1M26 40h1M81 40h1M101 40h1M103 40h1M106 40h1M2 41h1M8 41h1M11 41h1M18 41h1M81 41h1M116 41h1M121 41h2M13 42h2M21 42h1M27 42h1M31 42h2M101 42h1M124 42h1M10 44h1M17 44h1M33 44h2M92 44h1M124 44h1M74 45h1M76 45h1M131 45h1M143 45h1M150 45h1M48 46h1M64 46h1M53 47h1M137 47h1M144 47h1M46 48h1M59 48h1M62 48h1M67 48h1M74 48h1M130 48h1M142 48h2M60 49h1M63 49h1M67 49h2M71 49h1M130 49h1M135 49h1M140 49h1M150 49h1M156 49h1M51 50h1M76 50h1M136 50h2M149 50h1M155 50h1M50 51h1M55 51h1M60 51h1M62 51h1M64 51h1M126 51h2M132 51h1M53 52h2M69 52h1M75 52h2M128 52h1M140 52h1M150 52h1M158 52h1M47 53h1M52 53h1M57 53h1M59 53h2M67 53h1M70 53h1M131 53h1M134 53h1M52 54h1M57 54h1M60 54h1M68 54h1M51 55h1M127 55h1M130 55h1M149 55h1M151 55h1M71 56h1M78 56h1M127 56h1M132 56h1M143 56h1M145 56h1M53 57h2M134 57h1M139 57h1M145 57h1M157 57h1M60 58h1M130 58h1M138 58h1M148 58h1M155 58h1M48 59h1M53 59h1M66 59h1M71 59h1M125 59h2M133 59h1M135 59h1M149 59h1M151 59h1M49 60h1M51 60h1M53 60h2M58 60h1M78 60h1M128 60h2M138 60h1M142 60h1M156 60h1M63 61h1M74 61h1M76 61h1M78 61h2M127 61h2M136 61h1M155 61h1M48 62h1M51 62h1M67 62h1M71 62h1M74 62h1M129 62h2M49 63h1M61 63h1M131 63h1M136 63h1M141 63h1M143 63h1M148 63h2M151 63h1M158 63h1M46 64h1M51 64h1M69 64h1M77 64h1M126 64h1M156 64h2M68 65h1M127 65h1M141 65h1M150 65h1M59 66h1M74 66h1M151 66h1M154 66h1M48 67h2M53 67h1M62 67h1M79 67h1M129 67h1M137 67h1M143 67h1M49 68h1M54 68h1M65 68h1M77 68h1M128 68h2M137 68h1M157 68h1M52 69h1M64 69h1M78 69h1M125 69h1M150 69h1M53 70h1M132 70h1M141 70h1M49 71h1M56 71h1M59 71h1M62 71h1M131 71h1M133 71h1M156 73h1M45 74h1M48 74h1M61 74h2M66 74h1M78 74h1M125 74h1M128 74h1M153 74h1M52 75h1M45 76h1M50 76h1M52 76h1M61 76h1M140 76h2M148 76h1M64 77h1M68 77h1M136 77h1M154 77h1M56 78h1M60 78h2M69 78h1M74 78h1M134 78h1M156 78h1M61 79h1M67 79h1M150 79h1M8 80h1M14 80h1M18 80h1M20 80h1M85 80h1M87 80h2M94 80h1M98 80h1M100 80h1M106 80h1M120 80h1M123 80h1M21 81h1M40 81h2M86 81h1M102 81h1M7 82h1M17 82h1M32 82h1M35 82h1M88 82h1M95 82h2M111 82h1M116 82h1M123 82h1M36 83h1M38 83h1M33 85h1M38 85h1M80 85h1M90 85h1M104 85h1M108 85h1M15 86h1M28 86h1M32 86h1M35 86h1M81 86h1M100 86h1M109 86h3M118 86h1M121 86h2M124 86h1M80 87h1M124 87h1M1 88h1M36 88h1M80 88h1M82 88h1M97 88h1M0 90h1M2 90h2M15 90h1M23 90h1M85 90h1M91 90h2M94 90h1M100 90h1M108 90h1M116 90h1M119 90h1M3 91h1M36 91h1M90 91h1M92 91h1M99 91h2M104 91h2M110 91h1M17 92h1M30 92h1M33 92h1M36 92h1M44 92h1M90 92h2M103 92h1M1 93h1M80 94h1M90 94h1M109 94h1M7 95h1M17 95h1M21 95h1M23 95h1M28 95h1M32 95h1M37 95h1M82 95h1M97 95h1M105 95h1M118 95h1M122 95h1M1 96h1M16 96h1M22 96h1M82 96h1M100 96h1M118 96h3M122 96h1M6 97h1M22 97h1M27 97h1M34 97h1M36 97h1M88 97h1M95 97h1M109 97h1M116 97h2M120 97h1M124 97h1M80 98h1M15 99h1M18 99h1M22 99h2M34 99h3M91 99h1M105 99h2M108 99h1M111 99h1M7 100h1M33 100h1M80 100h1M86 100h1M90 100h2M96 100h1M110 100h1M114 100h1M116 100h1M118 100h2M1 101h1M7 101h1M20 101h1M24 101h1M28 101h1M33 101h1M40 101h1M42 101h1M104 101h1M118 101h1M120 101h1M122 101h1M6 102h3M17 102h2M21 102h1M38 102h1M81 102h1M105 102h1M118 102h1M15 103h1M34 103h1M40 103h1M92 103h1M116 103h1M118 103h1M124 103h1M10 104h1M21 104h2M28 104h1M30 104h1M32 104h1M85 104h1M91 104h1M101 104h1M108 104h1M111 104h1M120 104h2M14 105h1M28 105h1M34 105h1M91 105h1M95 105h1M99 105h1M102 105h1M110 105h1M118 105h1M121 105h1M32 106h1M35 106h1M37 106h1M40 106h1M80 106h1M99 106h1M119 106h1M124 106h1M1 108h1M6 108h1M21 108h1M23 108h1M33 108h2M85 108h1M90 108h1M99 108h1M104 108h1M10 109h1M18 109h1M22 109h2M28 109h1M86 109h1M94 109h1M97 109h1M110 109h1M116 109h1M118 109h1M86 110h1M91 110h1M100 110h1M105 110h1M109 110h1M124 110h1M82 111h1M86 111h1M99 111h1M104 111h1M116 111h1M119 111h1M124 111h1M100 114h1M118 114h1M1 116h1M10 116h1M21 116h1M28 116h1M35 116h1M39 116h1M41 116h1M82 116h1M90 116h1M97 116h1M100 116h1M103 116h1M109 116h1M111 116h1M124 116h1M13 117h1M32 117h1M97 117h1M119 117h1M124 117h1M86 118h1M95 118h2M100 118h4M105 118h1M109 118h1M114 118h1M1 119h1M10 119h1M22 119h1M35 119h1M90 119h1M96 119h1M100 119h1M106 119h1M111 119h1M117 119h1M120 119h1M80 120h1M96 120h2M101 120h1M104 120h1M119 120h1M41 121h1M86 121h1M104 121h2M3 122h1M13 122h1M39 122h1M41 122h1M86 122h1M95 122h2M101 122h1M28 123h1M35 123h1M80 123h1M82 123h1M1 124h1M3 124h1M7 124h1M15 124h1M22 124h1M30 124h1M42 124h1M44 124h1M86 124h2M97 124h1M103 124h1M106 124h1M110 124h2M116 124h2M59 125h1M69 125h1M74 125h1M129 125h1M132 125h3M143 125h1M148 125h2M154 125h2M157 125h2M51 126h1M59 126h1M64 126h1M130 126h1M149 126h1M51 127h1M55 127h2M61 127h1M65 127h1M148 127h1M158 127h1M52 128h1M60 128h2M68 128h1M74 128h1M129 128h2M149 128h1M60 129h1M62 129h1M67 129h2M125 129h1M128 129h1M137 129h1M151 129h2M154 129h1M48 130h2M55 130h1M58 130h1M62 130h1M126 130h1M128 130h1M132 130h1M143 130h1M145 130h1M159 130h1M45 131h1M53 131h1M63 131h1M71 131h1M132 131h1M135 131h1M137 131h2M51 132h1M56 132h1M70 132h1M125 132h1M130 132h2M137 132h1M156 132h1M59 133h1M71 133h1M125 133h1M138 133h1M158 133h1M53 134h1M57 134h1M78 134h1M125 134h1M148 134h1M150 134h2M49 135h1M59 135h1M131 135h1M139 135h2M143 135h1M148 135h1M152 135h1M157 135h1M50 136h1M61 136h1M63 136h1M77 136h1M151 136h1M154 136h1M158 136h2M47 137h1M50 137h1M67 137h2M129 137h1M131 137h2M143 137h1M58 138h1M60 138h1M131 138h1M133 138h1M143 138h1M157 138h1M57 139h1M135 139h1M150 139h1M49 140h1M52 140h1M76 140h1M135 140h1M63 141h1M65 141h1M70 141h1M76 141h1M146 141h1M157 141h1M48 142h1M60 142h1M155 142h1M45 143h1M48 143h1M56 143h1M63 143h1M67 143h1M125 143h1M130 143h1M135 143h1M137 143h2M152 143h1M154 143h1M47 144h1M56 145h2M130 145h1M148 145h2M152 145h1M154 145h1M159 145h1M141 146h1M58 148h1M63 148h1M76 148h1M125 148h1M127 148h1M134 148h2M145 148h1M50 149h1M55 149h1M59 149h1M63 149h1M125 149h2M128 149h1M145 149h1M157 149h2M45 150h1M49 150h1M52 150h1M65 150h1M69 150h1M79 150h1M134 150h1M139 150h1M158 150h1M55 151h1M59 151h1M63 151h1M66 151h1M129 151h1M134 151h1M136 151h1M129 152h1M135 152h1M143 152h1M145 152h1M74 153h1M66 154h1M77 154h1M125 154h1M129 154h1M136 154h1M143 154h1M145 154h1M159 154h1M50 155h1M58 155h1M61 155h1M125 155h1M142 155h1M49 156h1M60 156h1M64 156h1M73 156h1M78 156h1M132 156h1M57 157h1M64 157h1M68 157h1M125 157h1M135 157h1M138 157h1M141 157h1M149 157h1M52 158h1M63 158h1M125 158h1M127 158h1M133 158h1M136 158h1M149 158h2M159 158h1M130 159h1M136 159h1M145 159h1M154 159h1M158 159h1"/>
<path stroke="#f7ff07" stroke-width="1" d="M80 0h1M86 0h1M104 0h1M23 1h1M31 1h1M42 1h1M82 1h1M117 1h2M40 2h1M124 2h1M10 3h1M13 3h1M23 3h1M101 3h1M105 3h1M10 6h1M21 6h1M39 6h1M80 6h1M111 6h1M23 7h1M39 7h1M80 7h1M86 7h1M94 7h1M99 7h1M105 7h1M10 8h1M33 8h1M44 8h1M124 8h1M3 10h1M6 10h1M8 10h1M23 10h1M34 10h1M82 10h1M91 10h1M95 10h1M97 10h1M100 10h1M105 10h1M108 10h1M122 10h1M124 10h1M16 11h1M3 13h1M15 13h1M17 13h1M31 13h1M39 13h1M41 13h1M82 13h1M90 13h1M94 13h1M114 13h1M16 14h1M41 14h1M13 15h1M18 15h1M36 15h1M38 15h1M94 15h1M118 15h2M123 15h1M11 16h1M14 16h1M21 16h1M27 16h1M68 16h1M87 16h1M93 16h1M103 16h1M13 17h1M21 17h1M35 17h1M39 17h1M105 17h1M109 17h1M15 18h1M32 18h1M35 18h1M39 18h1M90 18h1M95 18h1M104 18h1M33 20h1M6 21h1M16 21h2M37 21h1M33 22h1M90 22h1M92 22h1M94 22h1M105 22h1M118 22h1M1 23h1M3 23h1M7 23h1M10 23h1M32 23h1M80 23h1M82 23h1M101 23h1M104 23h2M111 23h1M16 27h1M33 27h1M36 27h1M90 27h1M41 28h1M91 28h1M34 30h1M36 30h2M44 30h1M80 30h1M86 30h1M90 30h1M101 30h1M1 31h1M13 31h1M35 31h2M80 31h1M18 32h1M23 32h1M99 32h1M122 32h1M8 33h1M20 33h1M22 33h1M27 33h1M38 33h1M42 33h1M86 33h2M95 33h1M97 33h1M99 33h1M103 33h1M106 33h1M10 34h1M30 34h1M94 34h1M114 34h1M116 34h1M120 34h1M17 35h2M31 35h1M92 35h1M105 35h1M15 36h1M27 36h1M30 36h2M42 36h1M81 36h1M85 36h1M95 36h1M100 36h1M103 36h1M114 36h1M117 36h1M21 37h1M30 37h1M80 37h1M90 37h1M97 37h1M15 38h1M33 38h1M42 38h1M44 38h1M86 38h1M95 38h1M101 38h1M104 38h1M109 38h1M111 38h1M6 39h2M13 39h1M17 39h2M80 39h1M103 39h2M108 39h2M118 39h1M2 40h1M87 40h2M116 40h1M120 40h4M13 41h2M28 41h1M85 41h1M92 41h1M94 41h1M97 41h1M108 41h1M114 41h1M123 41h1M1 42h1M33 42h1M36 42h1M38 42h1M82 42h1M86 42h1M97 42h1M104 42h1M8 44h1M30 44h1M38 44h1M109 44h1M47 45h1M56 45h1M61 45h1M71 45h1M78 45h1M132 45h1M141 45h1M151 45h1M136 46h1M45 47h1M48 47h1M51 47h1M58 47h1M66 47h1M78 47h1M128 47h2M136 47h1M47 48h1M56 48h1M60 48h1M125 48h2M129 48h1M137 48h1M149 48h2M152 48h1M156 48h1M62 49h1M64 49h1M78 49h1M126 49h1M128 49h1M133 49h1M148 49h1M56 50h1M60 50h1M130 50h1M134 50h1M47 51h1M68 51h1M140 51h1M143 51h1M151 51h1M154 51h2M62 52h1M68 52h1M71 52h1M129 52h1M136 52h1M138 52h1M155 52h1M159 52h1M56 53h1M58 53h1M71 53h1M74 53h1M76 53h1M78 53h1M155 53h2M136 55h1M141 55h1M150 55h1M45 56h1M48 56h1M50 56h1M53 56h1M67 56h1M74 56h1M126 56h1M134 56h1M138 56h1M140 56h1M149 56h3M155 56h1M157 56h1M159 56h1M59 57h1M63 57h1M67 57h1M69 57h1M137 57h1M152 57h1M158 57h1M47 58h1M53 58h1M67 58h2M71 58h1M126 58h1M136 58h1M57 59h1M60 59h4M67 59h1M132 59h1M139 59h1M48 60h1M50 60h1M59 60h1M64 60h1M73 60h1M76 60h1M133 60h1M137 60h1M140 60h1M143 60h1M152 60h1M154 60h1M45 61h1M59 61h1M64 61h1M66 61h1M130 61h3M141 61h1M151 61h1M156 61h1M49 62h1M52 62h1M59 62h1M76 62h1M133 62h3M152 62h1M57 63h1M59 63h1M74 63h1M78 63h1M127 63h1M133 63h1M156 63h1M49 64h1M60 64h2M65 64h1M131 64h1M145 64h1M148 64h1M152 64h1M155 64h1M159 64h1M64 65h1M47 66h1M61 66h1M131 66h1M141 66h1M150 66h1M56 67h4M69 67h1M76 67h1M144 67h1M154 67h1M157 67h1M16 68h1M51 68h2M58 68h1M70 68h1M125 68h1M133 68h1M142 68h1M57 69h1M67 69h1M68 70h1M45 71h1M52 71h2M58 71h1M78 71h1M129 71h1M143 71h1M150 71h1M155 71h2M60 73h1M154 73h1M53 74h1M56 74h1M63 74h1M127 74h1M140 74h1M149 74h1M53 76h1M60 76h1M62 76h1M67 76h1M142 76h1M158 76h2M78 77h1M45 78h1M47 78h1M49 78h1M53 78h1M63 78h1M71 78h1M77 78h1M126 78h2M133 78h1M152 78h1M154 78h1M159 78h1M0 80h1M6 80h2M23 80h1M30 80h2M37 80h1M39 80h1M81 80h1M92 80h1M96 80h1M103 80h1M110 80h1M36 81h1M80 81h1M104 81h1M1 82h1M10 82h1M13 82h1M23 82h1M42 82h1M86 82h1M97 82h1M99 82h1M104 82h1M106 82h1M122 82h1M86 83h1M90 83h1M36 85h1M41 85h1M99 85h1M118 85h1M124 85h1M0 86h1M7 86h1M30 86h1M33 86h1M38 86h1M42 86h1M82 86h2M90 86h1M92 86h1M103 86h1M114 86h1M119 86h1M16 87h1M33 87h1M40 87h1M40 88h1M13 90h1M18 90h1M22 90h1M27 90h1M30 90h1M37 90h1M83 90h1M86 90h1M99 90h1M105 90h2M118 90h1M123 90h1M10 91h1M28 91h1M97 91h1M106 91h1M116 91h1M22 92h1M35 92h1M41 92h1M80 92h1M86 92h1M99 92h1M102 92h1M104 92h1M16 93h1M97 93h1M101 93h1M7 94h1M13 94h1M15 94h1M22 94h1M34 94h1M41 94h1M10 95h1M18 95h1M33 95h1M36 95h1M38 95h1M96 95h1M102 95h1M104 95h1M124 95h1M80 96h1M95 96h1M105 96h1M109 96h1M117 96h1M124 96h1M10 97h1M33 97h1M37 97h1M41 97h2M82 97h1M91 97h1M93 97h1M111 97h1M7 99h1M32 99h2M82 99h1M85 99h1M90 99h1M92 99h1M100 99h1M10 100h1M36 100h1M99 100h1M101 100h1M104 100h1M109 100h1M3 101h1M23 101h1M30 101h1M38 101h1M93 101h1M100 101h1M103 101h1M105 101h1M124 101h1M92 102h1M95 102h1M106 102h1M108 102h1M16 103h1M33 103h1M36 103h1M39 103h1M80 103h1M86 103h1M101 103h1M0 104h1M18 104h1M23 104h1M38 104h2M42 104h1M81 104h2M92 104h1M95 104h1M100 104h1M114 104h1M116 104h1M118 104h1M122 104h1M3 105h1M7 105h1M10 105h1M17 105h1M22 105h2M35 105h1M90 105h1M96 105h1M101 105h1M109 105h1M111 105h1M116 105h1M122 105h1M124 105h1M33 106h1M82 106h1M90 106h2M102 106h1M10 108h1M39 108h1M41 108h1M102 108h1M124 108h1M17 109h1M38 109h2M44 109h1M96 109h1M100 109h1M105 109h1M124 109h1M80 110h1M6 111h1M23 111h1M38 111h1M97 111h1M105 111h1M122 111h1M13 114h1M34 114h1M36 114h1M41 114h1M86 114h1M104 114h1M34 116h1M40 116h1M91 116h1M104 116h2M119 116h1M1 117h1M36 117h1M96 117h1M1 118h1M15 118h1M22 118h1M39 118h1M85 118h1M90 118h1M104 118h1M15 119h1M86 119h1M116 119h1M124 119h1M34 120h1M40 120h1M40 121h1M10 122h1M32 122h1M40 122h1M82 122h1M104 122h2M111 122h1M124 122h1M15 123h1M40 123h2M90 123h1M2 124h1M8 124h1M10 124h1M85 124h1M95 124h2M101 124h1M105 124h1M108 124h2M119 124h1M122 124h1M48 125h1M68 125h1M138 125h1M140 125h1M145 125h1M48 126h2M56 126h1M58 126h1M78 126h1M135 126h2M138 126h1M155 126h1M63 127h1M74 127h1M78 127h1M128 127h1M136 127h1M47 128h1M49 128h1M127 128h1M151 128h1M47 129h2M52 129h1M71 129h1M136 129h1M50 130h1M61 130h1M155 130h1M61 131h1M64 131h1M66 131h1M133 131h1M45 132h1M59 132h1M61 132h1M138 132h2M159 132h1M49 133h1M60 133h1M62 133h2M68 133h1M78 133h1M131 133h1M137 133h1M139 133h1M145 133h1M50 134h1M56 134h1M62 134h1M156 134h1M62 135h1M126 135h1M156 135h1M158 135h1M46 136h2M52 136h1M55 136h1M58 136h1M126 136h2M129 136h1M143 136h1M48 137h1M57 137h1M60 137h1M133 137h1M140 137h1M149 137h2M52 138h1M56 138h1M125 138h2M132 138h1M140 138h1M154 138h2M158 138h1M59 139h1M132 139h2M51 140h1M56 140h1M60 140h1M74 140h1M125 140h1M137 140h2M148 140h1M154 140h1M45 141h1M55 141h1M61 141h1M66 141h1M158 141h1M68 142h1M76 142h1M148 142h1M51 143h1M60 143h1M71 143h1M136 143h1M145 143h1M150 143h2M67 144h1M64 145h1M125 145h1M133 145h1M143 145h1M150 145h1M49 148h1M64 148h1M140 148h1M142 148h1M152 148h1M48 149h1M56 149h1M74 149h1M137 149h1M152 149h1M155 149h1M48 150h1M55 150h2M66 150h1M71 150h1M137 150h1M143 150h1M145 150h1M45 151h1M51 151h1M56 151h1M61 151h1M128 151h1M143 151h1M152 151h1M158 151h1M48 152h1M57 152h1M60 152h1M62 152h1M64 152h1M78 152h1M148 152h2M151 152h1M155 152h1M156 153h1M51 154h1M60 154h1M67 154h1M73 154h1M78 154h1M138 154h1M140 154h1M155 154h1M51 155h3M56 155h1M64 155h1M71 155h1M126 155h1M130 155h1M138 155h1M149 155h1M152 155h1M154 155h1M156 155h1M48 156h1M53 156h1M61 156h1M63 156h1M71 156h1M134 156h2M153 156h1M155 156h1M56 157h1M67 157h1M57 158h1M76 158h1M135 158h1M138 158h1M141 158h1M151 158h1M52 159h1M56 159h1M64 159h1M76 159h1M78 159h1M132 159h1"/>
<path stroke="#fff700" stroke-width="1" d="M36 0h1M105 0h1M32 1h2M35 1h2M80 1h1M97 1h1M80 2h1M17 3h1M38 3h1M41 3h1M80 3h1M35 6h2M41 6h1M91 6h1M117 6h1M21 7h1M41 7h1M36 8h1M86 8h1M32 10h1M37 10h1M39 10h1M88 10h1M101 10h2M118 10h1M21 13h1M23 13h1M34 13h1M80 13h1M85 13h1M100 13h1M102 13h1M116 13h1M40 14h1M32 15h2M37 15h1M42 15h1M80 15h1M24 16h1M29 16h1M81 16h1M114 16h1M118 16h1M121 16h1M3 17h1M23 17h1M36 17h1M38 17h1M86 17h1M90 17h1M100 17h1M104 17h1M33 18h2M36 18h1M105 18h1M111 18h1M34 20h1M36 20h1M40 20h1M7 21h1M13 21h1M22 21h1M34 21h1M39 21h1M82 21h1M90 21h2M96 21h1M100 21h1M21 22h1M28 22h1M80 22h1M86 22h1M13 23h1M17 23h1M33 23h1M100 23h1M117 23h1M16 24h1M40 27h1M80 27h1M22 28h1M35 28h1M40 28h1M90 28h1M124 28h1M16 29h1M33 30h1M39 30h2M99 30h1M90 31h1M1 32h1M10 32h1M15 32h1M33 32h1M91 32h1M93 32h1M97 32h1M102 32h1M109 32h1M116 32h1M1 33h1M15 33h1M18 33h1M23 33h1M30 33h1M32 33h1M35 33h1M37 33h1M96 33h1M104 33h1M114 33h1M118 33h1M124 33h1M13 34h1M18 34h1M20 34h2M41 34h1M80 34h1M86 34h1M95 34h1M100 34h1M1 35h1M6 35h1M28 35h1M33 35h1M41 35h1M80 35h1M95 35h1M104 35h1M108 35h1M124 35h1M0 36h2M6 36h1M8 36h1M17 36h2M20 36h1M82 36h1M96 36h1M101 36h1M105 36h2M108 36h1M122 36h1M10 37h1M15 37h1M33 37h1M3 38h1M17 38h1M91 38h1M96 38h1M99 38h1M124 38h1M10 39h1M21 39h1M30 39h1M42 39h1M105 39h1M119 39h1M123 39h1M14 40h1M20 40h1M27 40h2M30 40h1M43 40h1M95 40h1M108 40h1M3 41h1M6 41h2M34 41h2M42 41h1M44 41h1M100 41h1M102 41h1M109 41h1M111 41h1M118 41h1M15 42h1M39 42h1M41 42h1M90 42h1M94 42h1M108 42h1M40 43h1M41 44h1M48 45h1M68 45h1M136 45h1M149 45h1M62 47h1M69 47h1M125 47h1M151 47h1M155 47h1M45 48h1M63 48h1M128 48h1M132 48h1M135 48h1M138 48h1M145 48h1M148 48h1M52 49h1M57 49h1M125 49h1M127 49h1M151 49h1M52 50h1M64 50h1M67 50h1M132 50h2M148 50h1M151 50h1M159 50h1M57 51h1M125 51h1M49 52h2M60 52h1M131 52h1M134 52h1M137 52h1M149 52h1M156 52h1M61 53h2M129 53h1M133 53h1M135 53h1M148 53h3M154 53h1M159 53h1M57 55h1M133 55h1M140 55h1M133 56h1M148 56h1M49 57h1M51 57h1M55 57h1M127 57h1M143 57h1M156 57h1M64 58h1M132 58h2M135 58h1M68 59h1M141 59h1M150 59h1M159 59h1M52 60h1M66 60h1M71 60h1M126 60h1M148 60h1M150 60h1M53 61h1M135 61h1M149 61h1M159 61h1M47 62h1M53 62h1M64 62h1M132 62h1M150 62h1M48 63h1M132 63h1M154 63h1M50 64h1M58 64h1M62 64h1M129 64h1M140 64h1M142 64h1M60 66h1M136 66h1M140 66h1M50 67h1M74 67h1M132 67h1M159 67h1M45 68h1M59 68h1M74 68h1M76 68h1M139 68h2M145 68h1M148 68h1M158 68h1M47 69h1M141 69h1M159 69h1M60 71h1M126 71h1M136 71h1M154 71h1M67 74h2M126 74h1M131 74h1M133 74h1M143 74h1M148 74h1M68 76h1M78 76h1M127 76h1M130 76h1M136 76h1M154 76h2M157 76h1M76 78h1M79 78h1M136 78h1M155 78h1M78 79h1M1 80h3M13 80h1M15 80h1M22 80h1M27 80h1M34 80h2M82 80h1M101 80h1M105 80h1M109 80h1M111 80h1M117 80h1M119 80h1M121 80h1M16 81h1M21 82h1M36 82h1M80 82h1M91 82h2M109 82h1M124 82h1M102 83h1M13 85h1M101 85h1M119 85h1M8 86h1M17 86h1M22 86h1M34 86h1M96 86h2M99 86h1M101 86h1M106 86h1M117 86h1M10 88h1M17 90h1M21 90h1M28 90h1M31 90h1M42 90h1M97 90h1M104 90h1M111 90h1M6 91h1M21 91h1M32 91h1M38 91h1M82 91h1M118 91h1M124 91h1M82 92h1M124 92h1M32 93h1M94 93h1M42 94h1M93 94h1M97 94h1M34 95h2M40 95h1M100 95h2M111 95h1M21 96h1M33 96h1M36 96h1M38 96h1M86 96h1M1 97h1M32 97h1M86 97h1M90 97h1M94 97h1M99 97h2M103 97h2M106 97h1M30 99h1M38 99h1M86 99h1M97 99h1M104 99h1M109 99h1M119 99h1M124 99h1M13 100h1M17 100h1M21 100h1M23 100h1M34 100h1M41 100h1M95 100h1M97 100h1M124 100h1M10 101h1M36 101h1M80 101h1M85 101h2M95 101h1M108 101h1M111 101h1M117 101h1M10 102h1M13 102h1M32 102h1M41 102h1M83 102h1M103 102h1M109 102h1M124 102h1M97 103h1M102 103h1M17 104h1M33 104h1M35 104h1M90 104h1M97 104h1M99 104h1M105 104h1M0 105h1M18 105h1M36 105h1M39 105h1M80 105h1M104 105h1M36 106h1M86 106h1M97 106h1M35 108h2M40 108h1M42 108h1M101 108h1M32 109h1M41 109h1M80 109h1M82 109h1M99 109h1M102 109h1M111 109h1M122 109h1M18 111h1M41 111h1M80 111h1M90 111h1M95 111h1M101 111h1M109 111h1M16 114h1M33 114h1M124 114h1M13 116h1M32 116h1M6 117h1M23 117h1M80 117h1M86 117h1M101 117h1M10 118h1M16 118h1M33 118h1M41 118h1M91 118h1M39 119h1M80 119h1M85 119h1M99 119h1M16 121h1M80 121h1M36 122h1M109 122h1M39 123h1M28 124h1M33 124h1M35 124h1M38 124h1M82 124h1M91 124h2M99 124h2M102 124h1M114 124h1M47 125h1M49 125h1M51 125h1M60 126h1M71 126h1M74 126h1M127 126h1M133 126h1M49 127h1M57 127h1M76 127h1M126 127h1M131 127h1M133 127h1M143 127h1M151 127h1M159 127h1M48 128h1M156 128h1M53 129h1M64 129h1M76 130h1M133 130h2M137 130h2M149 130h2M154 130h1M52 131h1M74 131h1M127 131h1M140 131h1M149 131h1M156 131h1M48 132h1M50 132h1M58 132h1M62 132h2M67 132h1M140 132h1M145 132h1M150 132h1M50 133h1M53 133h1M55 133h2M58 133h1M74 133h1M126 133h2M130 133h1M135 133h2M143 133h1M149 133h1M154 133h2M52 134h1M130 134h1M135 134h1M154 134h2M48 135h1M53 135h1M58 135h1M61 135h1M133 135h2M150 135h1M45 136h1M66 136h1M71 136h1M76 136h1M78 136h1M133 136h1M138 136h1M148 136h3M52 137h1M130 137h1M138 137h1M48 138h1M130 138h1M136 138h2M141 138h1M149 138h1M68 139h1M55 140h1M64 140h1M66 140h1M68 140h1M131 140h2M152 140h1M59 141h1M69 141h1M138 141h1M144 141h2M64 142h1M57 143h1M74 143h1M127 143h1M133 143h1M141 144h1M48 145h1M68 145h1M132 145h1M141 145h1M48 148h1M50 148h1M53 148h1M56 148h1M60 148h1M68 148h1M74 148h1M136 148h1M149 148h1M151 148h1M154 148h1M156 148h1M159 148h1M45 149h1M52 149h2M61 149h1M130 149h2M133 149h1M136 149h1M138 149h1M148 149h1M53 150h1M59 150h2M62 150h1M130 150h1M132 150h1M135 150h2M155 150h2M47 151h1M49 151h2M127 151h1M148 151h1M159 151h1M140 152h1M156 152h1M53 154h1M63 154h1M71 154h1M76 154h1M130 154h1M133 154h2M148 154h1M47 155h1M76 155h1M78 155h1M133 155h2M150 155h1M52 156h1M57 156h1M128 156h1M131 156h1M148 156h1M150 156h1M152 156h1M76 157h1M68 158h1M50 159h1M53 159h1M59 159h1M61 159h1M67 159h1M69 159h1M127 159h1M148 159h1M151 159h1"/>
<path stroke="#ffe700" stroke-width="1" d="M0 0h1M1 1h1M8 1h1M13 1h1M21 1h1M90 1h1M102 1h1M2 2h1M3 3h1M21 3h1M40 3h1M82 3h1M4 4h1M5 5h1M6 6h1M40 6h1M7 7h1M42 7h1M1 8h1M8 8h1M9 9h1M10 10h1M17 10h1M21 10h1M35 10h2M42 10h1M99 10h1M11 11h1M12 12h1M40 12h1M1 13h1M13 13h1M22 13h1M33 13h1M36 13h1M97 13h1M99 13h1M105 13h1M14 14h1M15 15h2M41 15h1M15 16h3M83 16h1M95 16h1M99 16h1M106 16h1M122 16h2M141 16h1M10 17h1M16 17h2M41 17h1M80 17h1M18 18h1M31 18h1M40 18h1M19 19h1M20 20h1M1 21h1M3 21h1M10 21h1M21 21h1M41 21h1M80 21h1M124 21h1M13 22h1M22 22h1M40 22h2M23 23h1M34 23h1M36 23h1M40 23h1M124 23h1M24 24h1M25 25h1M26 26h1M27 27h1M28 28h1M36 28h1M29 29h1M30 30h1M35 30h1M38 30h1M41 30h1M91 30h1M18 31h1M31 31h3M39 31h2M31 32h2M34 32h2M39 32h1M41 32h1M90 32h1M101 32h1M119 32h1M13 33h1M31 33h1M33 33h1M39 33h1M41 33h1M80 33h1M82 33h1M109 33h1M117 33h1M119 33h1M23 34h1M32 34h1M34 34h1M42 34h1M90 34h2M102 34h1M111 34h1M124 34h1M10 35h1M30 35h1M32 35h1M35 35h1M118 35h1M10 36h1M13 36h1M23 36h1M28 36h1M36 36h1M44 36h1M94 36h1M102 36h1M104 36h1M116 36h1M119 36h1M37 37h1M102 37h1M30 38h1M38 38h2M41 38h1M80 38h1M94 38h1M31 39h3M38 39h2M86 39h1M95 39h1M102 39h1M3 40h1M6 40h1M12 40h1M18 40h1M22 40h2M31 40h1M40 40h1M85 40h2M92 40h2M99 40h2M104 40h2M109 40h1M119 40h1M15 41h1M17 41h1M21 41h2M30 41h1M32 41h2M38 41h1M41 41h1M86 41h1M90 41h1M95 41h1M101 41h1M105 41h1M117 41h1M7 42h1M10 42h1M34 42h1M42 42h1M80 42h1M43 43h1M36 44h1M44 44h1M82 44h1M101 44h1M52 45h1M55 45h1M60 45h1M127 45h1M133 45h1M135 45h1M148 45h1M152 45h1M155 45h1M149 46h1M52 47h1M67 47h1M71 47h1M130 47h1M149 47h1M159 47h1M71 48h1M151 48h1M136 49h1M61 50h1M150 50h1M141 51h1M149 51h1M45 52h1M47 52h1M55 52h1M64 52h1M67 52h1M78 52h1M133 52h1M135 52h1M148 52h1M55 53h1M137 53h1M151 53h1M45 55h1M52 55h2M60 56h1M68 56h1M135 56h2M141 56h1M64 57h1M71 57h1M78 57h1M126 57h1M128 57h1M132 57h1M140 57h1M149 57h1M151 57h1M155 57h1M159 57h1M140 58h2M149 58h2M155 59h1M45 60h1M56 60h1M61 60h1M130 60h1M132 60h1M136 60h1M151 60h1M50 61h1M60 61h1M140 61h1M68 62h1M127 62h1M149 62h1M52 64h1M57 64h1M135 64h2M149 64h1M133 66h1M47 67h1M52 67h1M125 67h1M130 67h2M136 67h1M149 67h2M152 67h1M158 67h1M56 68h1M62 68h1M143 68h1M47 71h2M57 71h1M132 71h1M132 74h1M135 74h2M155 74h1M131 76h1M138 76h1M151 76h1M141 77h1M148 77h1M52 78h1M57 78h1M148 78h1M127 79h1M17 80h1M21 80h1M33 80h1M38 80h1M42 80h1M80 80h1M95 80h1M104 80h1M81 81h1M3 82h1M33 82h1M44 82h1M82 82h1M101 82h1M105 82h1M16 83h1M83 83h1M84 84h1M40 85h1M85 85h1M111 85h1M39 86h3M86 86h1M87 87h1M88 88h1M89 89h1M1 90h1M32 90h1M34 90h1M41 90h1M90 90h1M95 90h1M101 90h2M117 90h1M30 91h1M34 91h1M91 91h1M102 91h1M40 92h1M92 92h1M40 93h1M93 93h1M36 94h1M38 94h1M94 94h1M101 94h1M111 94h1M16 95h1M39 95h1M41 95h1M80 95h1M90 95h1M95 95h1M96 96h1M99 96h1M13 97h1M97 97h1M101 97h1M105 97h1M98 98h1M10 99h1M13 99h1M16 99h1M40 99h1M96 99h1M99 99h1M102 99h1M116 99h1M40 100h1M100 100h1M32 101h1M41 101h1M44 101h1M82 101h1M90 101h1M94 101h1M97 101h1M101 101h1M1 102h1M34 102h1M36 102h2M39 102h1M90 102h2M99 102h1M102 102h1M119 102h1M103 103h1M108 103h1M36 104h1M40 104h1M80 104h1M104 104h1M117 104h1M124 104h1M13 105h1M40 105h2M82 105h1M97 105h1M105 105h1M117 105h1M16 106h1M106 106h1M107 107h1M103 108h1M108 108h1M33 109h1M40 109h1M109 109h1M110 110h1M34 111h1M85 111h1M94 111h1M111 111h1M112 112h1M113 113h1M114 114h1M115 115h1M36 116h1M99 116h1M116 116h1M33 117h1M41 117h1M90 117h1M104 117h2M117 117h1M35 118h1M118 118h1M32 119h2M36 119h1M40 119h1M102 119h1M119 119h1M120 120h1M121 121h1M16 122h1M122 122h1M16 123h1M123 123h1M21 124h1M23 124h1M34 124h1M104 124h1M124 124h1M67 125h1M127 125h1M137 125h1M159 125h1M57 126h1M137 126h1M140 126h2M148 126h1M158 126h1M45 127h1M62 127h1M79 127h1M125 127h1M130 127h1M140 127h1M155 127h1M57 128h1M150 128h1M141 129h1M148 129h1M47 130h1M60 130h1M67 130h1M127 130h1M148 130h1M67 131h1M76 131h1M150 131h1M57 132h1M60 132h1M71 132h1M74 132h1M133 132h1M154 132h1M45 133h1M52 133h1M66 133h1M132 133h1M140 133h1M150 133h1M136 134h1M141 134h1M45 135h1M52 135h1M56 135h1M64 135h1M74 135h1M137 135h1M49 136h1M56 136h1M60 136h1M64 136h1M67 136h1M74 136h1M134 136h1M137 136h1M140 136h1M53 137h1M125 137h2M135 137h2M151 137h1M159 137h1M76 138h1M57 140h2M61 140h1M126 140h2M133 140h1M136 140h1M141 140h1M16 141h1M51 141h1M56 141h1M58 141h1M77 141h1M126 141h1M129 141h1M134 141h1M140 141h1M143 141h1M148 141h2M152 141h1M156 141h1M68 143h1M141 143h1M155 143h1M45 148h1M52 148h1M77 148h2M126 148h1M129 148h2M141 148h1M155 148h1M46 149h2M51 149h1M57 149h2M62 149h1M64 149h1M67 149h1M141 149h1M150 149h1M154 149h1M159 149h1M50 150h1M58 150h1M67 150h1M128 150h1M131 150h1M133 150h1M149 150h1M152 150h1M48 151h1M53 151h1M57 151h1M60 151h1M76 151h1M137 151h1M45 152h1M67 152h1M141 152h1M150 152h1M132 154h1M149 154h1M45 155h1M57 155h1M59 155h1M74 155h1M127 155h1M143 155h1M148 155h1M157 155h1M141 156h1M155 157h1M67 158h1M126 158h1M47 159h1M57 159h1M125 159h1M137 159h1M149 159h1"/>
<path stroke="#ffd700" stroke-width="1" d="M40 0h1M16 1h1M40 1h1M109 1h1M16 3h1M16 8h1M33 10h1M91 13h1M40 15h1M1 16h1M3 16h1M8 16h1M18 16h1M22 16h1M34 16h1M85 16h1M97 16h1M109 16h2M116 16h1M120 16h1M16 18h1M28 21h1M31 21h1M86 21h1M97 21h1M99 21h1M101 21h1M109 21h1M16 22h1M36 22h1M21 28h1M21 31h1M10 33h1M34 33h1M105 33h1M16 34h1M33 34h1M109 34h1M40 35h1M101 35h1M22 36h1M38 36h2M41 36h1M80 36h1M109 36h1M41 37h1M36 38h1M90 38h1M36 39h1M96 39h1M100 39h1M124 39h1M0 40h2M15 40h1M35 40h1M42 40h1M91 40h1M97 40h1M102 40h1M117 40h1M36 41h2M82 41h1M40 42h1M95 44h1M45 45h1M158 45h1M46 46h1M47 47h1M57 47h1M126 47h2M132 47h1M150 47h1M152 47h1M154 47h1M48 48h1M52 48h1M57 48h1M64 48h1M68 48h1M78 48h1M140 48h2M49 49h1M50 50h1M57 50h1M59 50h1M125 50h2M140 50h1M51 51h1M61 51h1M48 52h1M52 52h1M59 52h1M74 52h1M127 52h1M130 52h1M154 52h1M53 53h1M64 53h1M68 53h1M132 53h1M141 53h1M54 54h1M55 55h1M56 56h1M130 56h1M154 56h1M47 57h2M50 57h1M57 57h1M62 57h1M76 57h1M148 57h1M154 57h1M58 58h1M50 59h1M52 59h1M59 59h1M60 60h1M67 60h2M135 60h1M141 60h1M51 61h1M61 61h1M67 61h2M152 61h1M57 62h1M62 62h1M136 62h1M154 62h1M63 63h1M150 63h1M48 64h1M53 64h1M64 64h1M67 64h1M74 64h1M76 64h1M130 64h1M65 65h1M66 66h1M68 66h1M60 67h2M64 67h1M67 67h1M73 67h1M78 67h1M133 67h1M148 67h1M156 67h1M48 68h1M53 68h1M60 68h2M66 68h1M68 68h1M126 68h1M131 68h1M136 68h1M152 68h1M154 68h1M69 69h1M70 70h1M71 71h1M72 72h1M67 73h1M73 73h1M52 74h1M64 74h1M74 74h1M75 75h1M57 76h1M64 76h1M76 76h1M132 76h1M135 76h1M137 76h1M77 77h1M48 78h1M67 78h1M78 78h1M79 79h1M36 80h1M86 80h1M108 80h1M116 80h1M122 80h1M41 82h1M16 85h1M21 86h1M80 86h1M102 86h1M108 86h1M90 87h1M38 90h1M87 90h1M109 90h1M13 91h1M40 91h1M44 95h1M39 96h1M104 96h1M16 97h1M21 97h1M40 97h1M21 99h1M39 100h1M102 100h1M105 100h1M111 100h1M21 101h1M35 101h1M102 101h1M109 101h1M40 102h1M86 102h1M100 102h2M104 102h1M96 104h1M102 104h1M33 105h1M100 105h1M80 108h1M86 108h1M1 109h1M16 109h1M21 109h1M34 109h1M36 109h1M90 109h1M101 109h1M16 110h1M100 111h1M16 116h1M80 116h1M40 117h1M16 120h1M80 122h1M39 124h1M50 125h1M125 125h1M130 125h1M151 125h1M47 126h1M50 126h1M68 126h1M126 126h1M150 126h1M47 127h1M52 127h1M127 127h1M132 127h1M135 127h1M138 127h1M156 127h1M128 128h1M129 129h1M135 129h1M143 129h1M52 130h1M56 130h1M64 130h1M125 130h1M130 130h1M151 130h1M156 130h1M68 131h1M131 131h1M148 131h1M47 132h1M53 132h1M76 132h1M127 132h1M132 132h1M135 132h1M67 133h1M133 133h1M151 133h1M134 134h1M60 135h1M76 135h1M127 135h1M129 135h1M132 135h1M135 135h1M149 135h1M151 135h1M62 136h1M68 136h1M136 136h1M145 136h1M76 137h1M137 137h1M156 137h1M127 138h1M138 138h1M139 139h1M48 140h1M50 140h1M140 140h1M151 140h1M48 141h1M53 141h1M60 141h1M141 141h1M151 141h1M159 141h1M142 142h1M129 143h1M143 143h1M149 143h1M144 144h1M136 145h1M145 145h1M146 146h1M147 147h1M57 148h1M67 148h1M131 148h1M148 148h1M135 149h1M143 149h1M149 149h1M47 150h1M63 150h1M126 150h1M150 150h2M154 150h1M125 151h1M130 151h1M133 151h1M135 151h1M140 151h2M150 151h2M154 151h1M47 152h1M61 152h1M68 152h1M152 152h1M153 153h1M47 154h1M52 154h1M56 154h2M62 154h1M68 154h1M150 154h2M154 154h1M155 155h1M67 156h1M127 156h1M130 156h1M137 156h1M156 156h1M157 157h1M45 158h1M158 158h1M141 159h1M159 159h1"/>
<path stroke="#ffc700" stroke-width="1" d="M16 6h1M40 7h1M16 10h1M90 10h1M40 13h1M101 13h1M6 16h1M10 16h1M20 16h1M32 16h1M35 16h1M91 16h2M101 16h1M105 16h1M108 16h1M117 16h1M119 16h1M16 20h1M32 21h1M36 21h1M105 21h1M16 32h1M21 32h1M40 32h1M80 32h1M36 33h1M90 33h1M39 34h1M16 35h1M36 35h1M21 36h1M33 36h1M35 36h1M37 36h1M36 37h1M40 37h1M34 39h1M41 39h1M101 39h1M7 40h1M13 40h1M32 40h1M37 40h1M80 40h1M82 40h1M94 40h1M96 40h1M39 41h1M80 41h1M96 41h1M99 41h1M104 41h1M124 41h1M55 47h1M60 47h1M63 47h2M133 48h1M158 48h1M141 49h1M68 50h1M127 50h1M57 52h1M61 52h1M47 55h1M52 57h1M60 57h1M125 57h1M131 57h1M135 57h1M141 57h1M47 60h1M57 60h1M63 60h1M52 61h1M125 61h2M150 61h1M141 62h1M47 63h1M60 63h1M47 64h1M71 64h1M78 64h1M125 64h1M127 64h1M133 64h1M71 67h1M135 67h1M138 67h1M140 67h1M50 68h1M155 68h2M64 71h1M67 71h1M141 74h1M64 78h1M151 78h1M32 80h1M40 80h2M99 80h1M124 80h1M40 82h1M100 82h1M104 86h1M10 90h1M33 90h1M124 90h1M16 91h1M16 92h1M40 94h1M40 96h2M41 99h1M80 99h1M82 100h1M13 101h1M16 101h1M39 101h1M41 104h1M86 104h1M16 105h1M21 105h1M16 108h1M118 108h1M16 117h1M108 118h1M16 119h1M41 124h1M80 124h1M90 124h1M57 125h1M61 125h1M64 125h1M141 125h1M61 126h1M50 127h1M64 127h1M141 127h1M149 127h1M154 127h1M155 129h1M140 130h1M57 131h1M148 132h1M151 132h1M155 132h1M48 133h1M64 133h1M134 133h1M133 134h1M57 135h1M67 135h1M136 135h1M141 135h1M154 135h2M159 135h1M135 136h1M156 136h1M67 138h1M151 138h1M67 140h1M130 140h1M155 140h1M49 141h1M57 141h1M62 141h1M74 141h1M125 141h1M127 141h1M135 141h1M132 148h1M127 149h1M151 149h1M61 150h1M78 151h1M132 151h1M138 151h1M149 151h1M127 154h1M135 154h1M68 155h1M129 155h1M132 155h1M135 155h1M140 155h1M68 156h1M136 156h1M48 158h1M135 159h1"/>
<path stroke="#ffb700" stroke-width="1" d="M16 2h1M16 7h1M41 10h1M80 10h1M2 16h1M7 16h1M28 16h1M31 16h1M38 16h2M41 16h2M44 16h1M86 16h1M88 16h1M90 16h1M102 16h1M104 16h1M111 16h1M124 16h1M33 21h1M39 22h1M16 28h1M16 31h1M21 33h1M91 33h1M90 36h1M16 38h1M16 39h1M22 39h1M90 39h1M41 40h1M90 40h1M118 40h1M10 41h1M16 41h1M40 41h1M106 41h1M16 42h1M16 44h1M50 47h1M56 47h1M135 47h1M47 50h1M148 51h1M141 52h1M151 52h1M127 53h1M68 55h1M47 56h1M150 57h1M155 60h1M68 64h1M141 64h1M150 64h1M154 64h1M68 67h1M126 67h1M141 67h1M155 67h1M55 68h1M64 68h1M67 68h1M127 68h1M132 68h1M135 68h1M149 68h3M159 68h1M141 71h1M151 71h1M125 76h1M143 78h1M150 78h1M10 80h1M90 80h2M102 80h1M118 80h1M102 82h1M16 86h1M91 86h1M105 86h1M16 88h1M16 90h1M36 90h1M39 90h2M80 90h1M96 90h1M33 91h1M80 91h1M86 91h1M90 96h1M16 102h1M80 102h1M82 102h1M16 104h1M86 105h1M41 106h1M16 111h1M40 118h1M80 118h1M16 124h1M76 125h1M67 126h1M53 127h1M68 127h1M141 130h1M68 132h1M136 132h1M148 133h1M47 135h1M68 135h1M132 136h1M141 136h1M52 141h1M64 141h1M67 141h1M71 141h1M130 141h1M136 141h1M155 141h1M78 143h1M51 148h1M133 148h1M68 149h1M57 150h1M64 150h1M68 150h1M78 150h1M52 151h1M68 151h1M71 151h1M64 154h1M60 155h1M67 155h1M141 155h1M68 159h1"/>
<path stroke="#ffa700" stroke-width="1" d="M41 1h1M30 16h1M36 16h1M100 16h1M40 21h1M16 30h1M40 33h1M122 33h1M36 34h1M16 36h1M34 36h1M40 36h1M124 36h1M40 38h1M21 40h1M33 40h1M36 40h1M38 40h1M111 40h1M1 41h1M68 47h1M136 48h1M135 50h1M132 52h1M133 57h1M136 57h1M138 57h1M149 60h1M68 63h1M132 64h1M151 64h1M127 67h1M47 68h1M63 68h1M130 68h1M135 78h1M141 78h1M16 100h1M40 111h1M33 122h1M36 124h1M67 127h1M150 127h1M68 130h1M135 130h1M52 132h1M64 132h1M57 133h1M141 133h1M159 133h1M50 135h1M78 135h1M130 135h1M48 136h1M57 136h1M155 136h1M57 138h1M149 140h2M78 141h1M133 141h1M60 149h1M140 149h1M127 150h1M140 150h1M64 151h1M136 155h1M133 159h1"/>
<path stroke="#ff9700" stroke-width="1" d="M16 13h1M13 16h1M33 16h1M40 16h1M94 16h1M16 33h1M40 34h1M40 39h1M16 40h1M34 40h1M39 40h1M141 47h1M141 50h1M56 52h1M52 56h1M68 57h1M57 68h1M71 68h1M68 71h1M16 94h1M47 141h1M50 141h1M150 141h1M154 141h1M150 148h1M141 150h1M148 150h1M141 154h1"/>
<path stroke="#ff8700" stroke-width="1" d="M80 16h1M82 16h1M86 36h1M124 40h1M138 68h1M141 68h1M16 80h1M16 82h1M36 86h1M40 124h1M68 138h1M68 141h1"/>
<path stroke="#ff7700" stroke-width="1" d="M23 16h1M16 23h1M141 132h1M132 141h1"/>
</g>
<path d="M340.00 627.20 L560.70 835.30" stroke="#700000" stroke-width="0.95" stroke-dasharray="1.8 1.5"/>
<rect x="339.50" y="626.70" width="221.70" height="209.10" fill="none" stroke="#666" stroke-width="1"/>
<rect x="573.70" y="829.78" width="16.50" height="6.82" fill="#00008f"/>
<rect x="573.70" y="823.27" width="16.50" height="6.82" fill="#0000af"/>
<rect x="573.70" y="816.75" width="16.50" height="6.82" fill="#0000cf"/>
<rect x="573.70" y="810.24" width="16.50" height="6.82" fill="#0000ef"/>
<rect x="573.70" y="803.72" width="16.50" height="6.82" fill="#000fff"/>
<rect x="573.70" y="797.21" width="16.50" height="6.82" fill="#002fff"/>
<rect x="573.70" y="790.69" width="16.50" height="6.82" fill="#004fff"/>
<rect x="573.70" y="784.17" width="16.50" height="6.82" fill="#006fff"/>
<rect x="573.70" y="777.66" width="16.50" height="6.82" fill="#008fff"/>
<rect x="573.70" y="771.14" width="16.50" height="6.82" fill="#00afff"/>
<rect x="573.70" y="764.63" width="16.50" height="6.82" fill="#00cfff"/>
<rect x="573.70" y="758.11" width="16.50" height="6.82" fill="#00efff"/>
<rect x="573.70" y="751.60" width="16.50" height="6.82" fill="#0fffef"/>
<rect x="573.70" y="745.08" width="16.50" height="6.82" fill="#2fffcf"/>
<rect x="573.70" y="738.57" width="16.50" height="6.82" fill="#4fffaf"/>
<rect x="573.70" y="732.05" width="16.50" height="6.82" fill="#6fff8f"/>
<rect x="573.70" y="725.53" width="16.50" height="6.82" fill="#8fff6f"/>
<rect x="573.70" y="719.02" width="16.50" height="6.82" fill="#afff4f"/>
<rect x="573.70" y="712.50" width="16.50" height="6.82" fill="#cfff2f"/>
<rect x="573.70" y="705.99" width="16.50" height="6.82" fill="#efff0f"/>
<rect x="573.70" y="699.47" width="16.50" height="6.82" fill="#ffef00"/>
<rect x="573.70" y="692.96" width="16.50" height="6.82" fill="#ffcf00"/>
<rect x="573.70" y="686.44" width="16.50" height="6.82" fill="#ffaf00"/>
<rect x="573.70" y="679.92" width="16.50" height="6.82" fill="#ff8f00"/>
<rect x="573.70" y="673.41" width="16.50" height="6.82" fill="#ff6f00"/>
<rect x="573.70" y="666.89" width="16.50" height="6.82" fill="#ff4f00"/>
<rect x="573.70" y="660.38" width="16.50" height="6.82" fill="#ff2f00"/>
<rect x="573.70" y="653.86" width="16.50" height="6.82" fill="#ff0f00"/>
<rect x="573.70" y="647.35" width="16.50" height="6.82" fill="#ef0000"/>
<rect x="573.70" y="640.83" width="16.50" height="6.82" fill="#cf0000"/>
<rect x="573.70" y="634.32" width="16.50" height="6.82" fill="#af0000"/>
<rect x="573.70" y="627.80" width="16.50" height="6.82" fill="#8f0000"/>
<rect x="573.70" y="627.80" width="16.50" height="208.50" fill="none" stroke="#666" stroke-width="1"/>
<text x="594.4" y="631.50" font-size="12" font-weight="bold">1</text>
<text x="594.4" y="658.10" font-size="12" font-weight="bold">0.9</text>
<text x="594.4" y="684.80" font-size="12" font-weight="bold">0.8</text>
<text x="594.4" y="711.50" font-size="12" font-weight="bold">0.7</text>
<text x="594.4" y="738.20" font-size="12" font-weight="bold">0.6</text>
<text x="594.4" y="764.90" font-size="12" font-weight="bold">0.5</text>
<text x="594.4" y="791.60" font-size="12" font-weight="bold">0.4</text>
<text x="594.4" y="818.30" font-size="12" font-weight="bold">0.3</text>
<path d="M573.70 628.30 h1.6 M590.20 628.30 h-1.6 M573.70 654.90 h1.6 M590.20 654.90 h-1.6 M573.70 681.60 h1.6 M590.20 681.60 h-1.6 M573.70 708.30 h1.6 M590.20 708.30 h-1.6 M573.70 735.00 h1.6 M590.20 735.00 h-1.6 M573.70 761.70 h1.6 M590.20 761.70 h-1.6 M573.70 788.40 h1.6 M590.20 788.40 h-1.6 M573.70 815.10 h1.6 M590.20 815.10 h-1.6" stroke="#555" stroke-width="0.8"/>
<text transform="translate(338.50 619.00) rotate(-16)" font-size="12.4" font-weight="bold">Traindata_0, Ia</text>
<text transform="translate(397.50 622.80) rotate(-16)" font-size="12.4" font-weight="bold">Traindata_0, Ib</text>
<text transform="translate(450.50 623.00) rotate(-16)" font-size="12.4" font-weight="bold">Traindata_1, Ia</text>
<text transform="translate(509.50 623.60) rotate(-16)" font-size="12.4" font-weight="bold">Traindata_11, Ib</text>
<text transform="translate(334.60 628.50) rotate(-75) scale(1.03 1)" text-anchor="end" font-size="12.2" font-weight="bold">Traindata_0, Ia</text>
<text transform="translate(337.20 681.50) rotate(-75) scale(1.03 1)" text-anchor="end" font-size="12.2" font-weight="bold">Traindata_0, Ib</text>
<text transform="translate(336.40 733.00) rotate(-75) scale(1.03 1)" text-anchor="end" font-size="12.2" font-weight="bold">Traindata_1, Ia</text>
<text transform="translate(336.80 791.50) rotate(-75) scale(1.03 1)" text-anchor="end" font-size="12.2" font-weight="bold">Traindata_1, Ib</text>
<text x="387" y="873" font-size="11.2" font-weight="bold" textLength="141" lengthAdjust="spacingAndGlyphs">(f): Similarity for Ia and Ib</text>
<path d="M476.1 541.3 L480.7 541.3 L478.4 545.6 Z" fill="#555"/>
<text x="0.6" y="918.5" font-size="28.15" font-weight="normal">Figure 2: Similarity distribution <tspan font-style="italic">d</tspan>(<tspan font-style="italic">s</tspan>) of 3 EEG datasets</text>
</svg></body></html>
